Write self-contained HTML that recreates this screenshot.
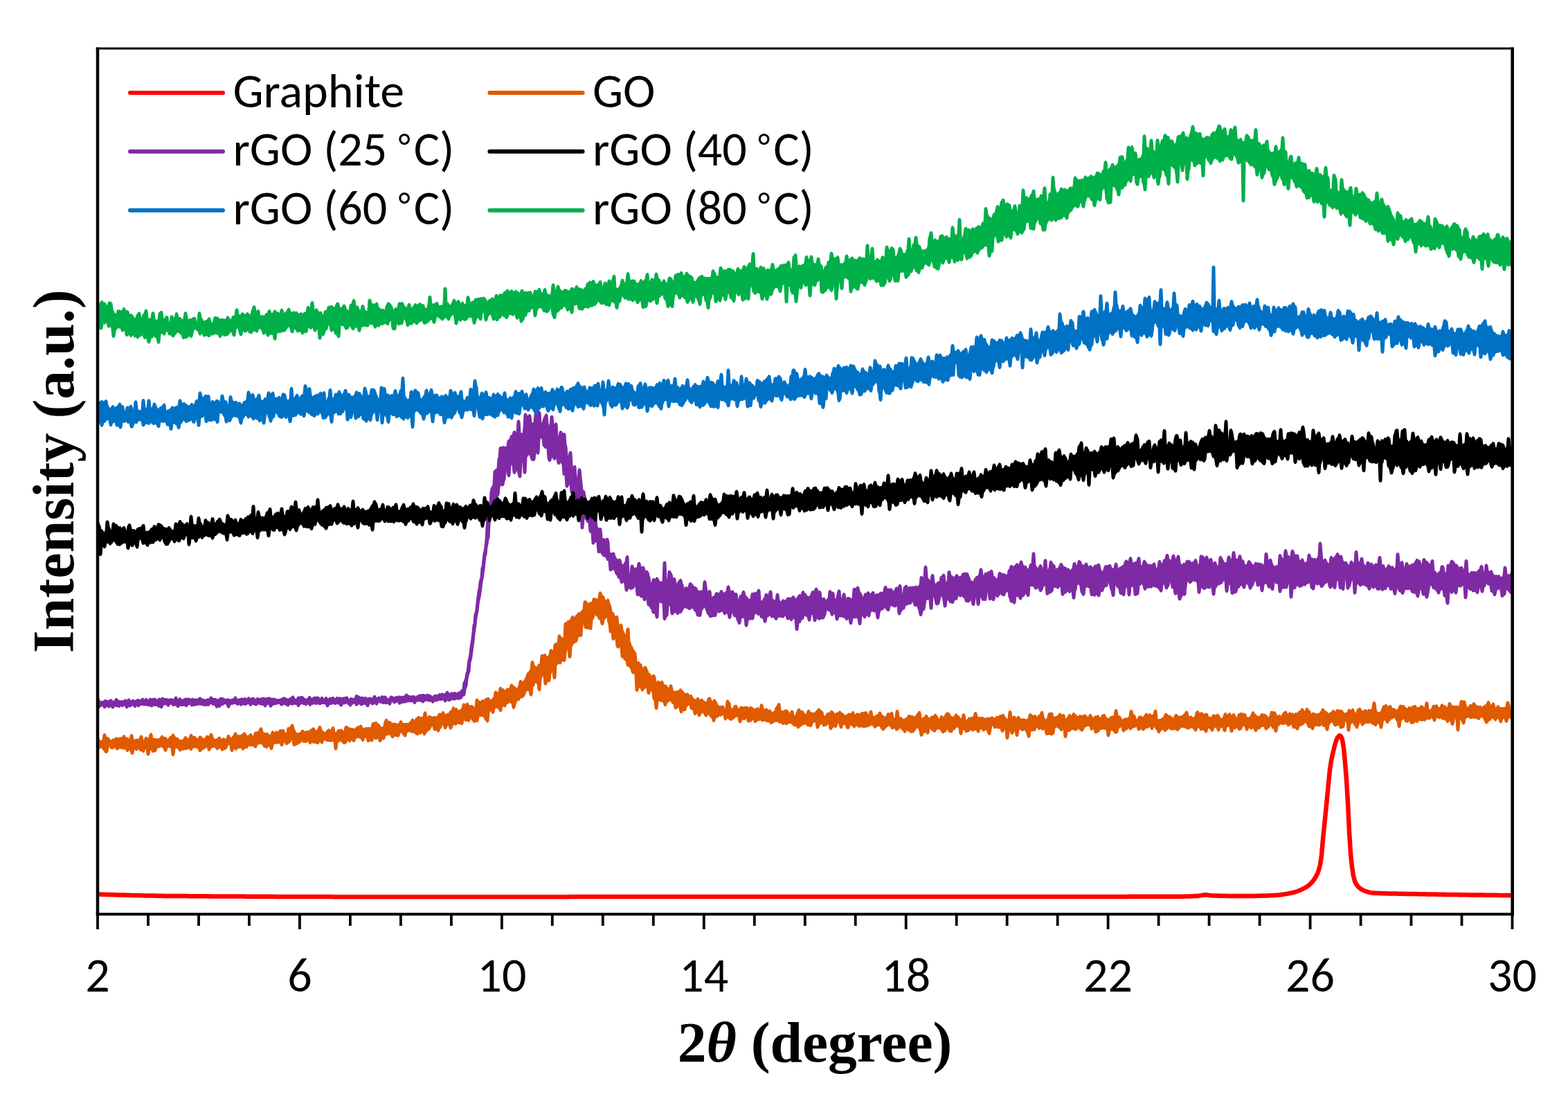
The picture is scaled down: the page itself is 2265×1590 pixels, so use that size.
<!DOCTYPE html>
<html><head><meta charset="utf-8"><title>XRD patterns</title>
<style>
html,body{margin:0;padding:0;background:#fff;width:2265px;height:1590px;overflow:hidden}
svg{display:block}
.sans text,.sans{font-family:Carlito,"Liberation Sans",sans-serif;font-size:70px;fill:#000}
.serif{font-family:"Liberation Serif","Times New Roman",serif;font-weight:bold;fill:#000}
</style></head><body>
<svg width="2265" height="1590" viewBox="0 0 2265 1590">
<defs>
<filter id="soft" x="-1%" y="-1%" width="102%" height="102%"><feGaussianBlur stdDeviation="0.55"/></filter>
<filter id="all" x="0" y="0" width="100%" height="100%"><feGaussianBlur stdDeviation="0.75"/></filter>
<clipPath id="plot"><rect x="141.0" y="70.0" width="2043.5" height="1250.3"/></clipPath>
</defs>
<g filter="url(#all)">
<rect width="2265" height="1590" fill="#fff"/>
<g clip-path="url(#plot)"><g filter="url(#soft)"><polyline fill="none" stroke="#ff0000" stroke-width="6.5" stroke-linejoin="round" stroke-linecap="round" points="141.0,1291.5 143.0,1291.6 145.0,1291.6 147.0,1291.7 149.0,1291.7 151.0,1291.8 153.0,1291.8 155.0,1291.9 157.0,1292.0 159.0,1292.0 161.0,1292.1 163.0,1292.1 165.0,1292.2 167.0,1292.2 169.0,1292.3 171.0,1292.4 173.0,1292.4 175.0,1292.5 177.0,1292.5 179.0,1292.6 181.0,1292.6 183.0,1292.7 185.0,1292.7 187.0,1292.8 189.0,1292.9 191.0,1292.9 193.0,1293.0 195.0,1293.0 197.0,1293.1 199.0,1293.1 201.0,1293.2 203.0,1293.2 205.0,1293.3 207.0,1293.3 209.0,1293.4 211.0,1293.4 213.0,1293.4 215.0,1293.5 217.0,1293.5 219.0,1293.6 221.0,1293.6 223.0,1293.6 225.0,1293.7 227.0,1293.7 229.0,1293.7 231.0,1293.8 233.0,1293.8 235.0,1293.8 237.0,1293.9 239.0,1293.9 241.0,1293.9 243.0,1293.9 245.0,1294.0 247.0,1294.0 249.0,1294.0 251.0,1294.0 253.0,1294.0 255.0,1294.0 257.0,1294.1 259.0,1294.1 261.0,1294.1 263.0,1294.1 265.0,1294.1 267.0,1294.1 269.0,1294.1 271.0,1294.1 273.0,1294.2 275.0,1294.2 277.0,1294.2 279.0,1294.2 281.0,1294.2 283.0,1294.2 285.0,1294.2 287.0,1294.3 289.0,1294.3 291.0,1294.3 293.0,1294.3 295.0,1294.3 297.0,1294.3 299.0,1294.3 301.0,1294.3 303.0,1294.4 305.0,1294.4 307.0,1294.4 309.0,1294.4 311.0,1294.4 313.0,1294.4 315.0,1294.4 317.0,1294.4 319.0,1294.5 321.0,1294.5 323.0,1294.5 325.0,1294.5 327.0,1294.5 329.0,1294.5 331.0,1294.5 333.0,1294.5 335.0,1294.5 337.0,1294.6 339.0,1294.6 341.0,1294.6 343.0,1294.6 345.0,1294.6 347.0,1294.6 349.0,1294.6 351.0,1294.6 353.0,1294.6 355.0,1294.7 357.0,1294.7 359.0,1294.7 361.0,1294.7 363.0,1294.7 365.0,1294.7 367.0,1294.7 369.0,1294.7 371.0,1294.7 373.0,1294.7 375.0,1294.8 377.0,1294.8 379.0,1294.8 381.0,1294.8 383.0,1294.8 385.0,1294.8 387.0,1294.8 389.0,1294.8 391.0,1294.8 393.0,1294.8 395.0,1294.8 397.0,1294.9 399.0,1294.9 401.0,1294.9 403.0,1294.9 405.0,1294.9 407.0,1294.9 409.0,1294.9 411.0,1294.9 413.0,1294.9 415.0,1294.9 417.0,1294.9 419.0,1294.9 421.0,1295.0 423.0,1295.0 425.0,1295.0 427.0,1295.0 429.0,1295.0 431.0,1295.0 433.0,1295.0 435.0,1295.0 437.0,1295.0 439.0,1295.0 441.0,1295.0 443.0,1295.0 445.0,1295.0 447.0,1295.0 449.0,1295.1 451.0,1295.1 453.0,1295.1 455.0,1295.1 457.0,1295.1 459.0,1295.1 461.0,1295.1 463.0,1295.1 465.0,1295.1 467.0,1295.1 469.0,1295.1 471.0,1295.1 473.0,1295.1 475.0,1295.1 477.0,1295.1 479.0,1295.1 481.0,1295.1 483.0,1295.2 485.0,1295.2 487.0,1295.2 489.0,1295.2 491.0,1295.2 493.0,1295.2 495.0,1295.2 497.0,1295.2 499.0,1295.2 501.0,1295.2 503.0,1295.2 505.0,1295.2 507.0,1295.2 509.0,1295.2 511.0,1295.2 513.0,1295.2 515.0,1295.2 517.0,1295.2 519.0,1295.2 521.0,1295.2 523.0,1295.2 525.0,1295.2 527.0,1295.2 529.0,1295.2 531.0,1295.2 533.0,1295.3 535.0,1295.3 537.0,1295.3 539.0,1295.3 541.0,1295.3 543.0,1295.3 545.0,1295.3 547.0,1295.3 549.0,1295.3 551.0,1295.3 553.0,1295.3 555.0,1295.3 557.0,1295.3 559.0,1295.3 561.0,1295.3 563.0,1295.3 565.0,1295.3 567.0,1295.3 569.0,1295.3 571.0,1295.3 573.0,1295.3 575.0,1295.3 577.0,1295.3 579.0,1295.3 581.0,1295.3 583.0,1295.3 585.0,1295.3 587.0,1295.3 589.0,1295.3 591.0,1295.3 593.0,1295.3 595.0,1295.3 597.0,1295.3 599.0,1295.3 601.0,1295.3 603.0,1295.3 605.0,1295.3 607.0,1295.3 609.0,1295.3 611.0,1295.3 613.0,1295.3 615.0,1295.3 617.0,1295.3 619.0,1295.3 621.0,1295.3 623.0,1295.3 625.0,1295.3 627.0,1295.3 629.0,1295.3 631.0,1295.3 633.0,1295.3 635.0,1295.3 637.0,1295.3 639.0,1295.3 641.0,1295.3 643.0,1295.3 645.0,1295.3 647.0,1295.3 649.0,1295.3 651.0,1295.3 653.0,1295.3 655.0,1295.3 657.0,1295.3 659.0,1295.3 661.0,1295.3 663.0,1295.3 665.0,1295.3 667.0,1295.3 669.0,1295.3 671.0,1295.3 673.0,1295.3 675.0,1295.3 677.0,1295.3 679.0,1295.3 681.0,1295.3 683.0,1295.3 685.0,1295.3 687.0,1295.3 689.0,1295.3 691.0,1295.3 693.0,1295.3 695.0,1295.3 697.0,1295.3 699.0,1295.3 701.0,1295.3 703.0,1295.3 705.0,1295.3 707.0,1295.3 709.0,1295.3 711.0,1295.3 713.0,1295.3 715.0,1295.3 717.0,1295.2 719.0,1295.2 721.0,1295.2 723.0,1295.2 725.0,1295.2 727.0,1295.2 729.0,1295.2 731.0,1295.2 733.0,1295.2 735.0,1295.2 737.0,1295.2 739.0,1295.2 741.0,1295.2 743.0,1295.2 745.0,1295.2 747.0,1295.2 749.0,1295.2 751.0,1295.2 753.0,1295.2 755.0,1295.2 757.0,1295.2 759.0,1295.2 761.0,1295.2 763.0,1295.2 765.0,1295.2 767.0,1295.2 769.0,1295.2 771.0,1295.2 773.0,1295.2 775.0,1295.2 777.0,1295.2 779.0,1295.2 781.0,1295.2 783.0,1295.2 785.0,1295.2 787.0,1295.2 789.0,1295.2 791.0,1295.2 793.0,1295.2 795.0,1295.2 797.0,1295.2 799.0,1295.2 801.0,1295.2 803.0,1295.2 805.0,1295.2 807.0,1295.2 809.0,1295.2 811.0,1295.2 813.0,1295.2 815.0,1295.2 817.0,1295.2 819.0,1295.2 821.0,1295.2 823.0,1295.1 825.0,1295.1 827.0,1295.1 829.0,1295.1 831.0,1295.1 833.0,1295.1 835.0,1295.1 837.0,1295.1 839.0,1295.1 841.0,1295.1 843.0,1295.1 845.0,1295.1 847.0,1295.1 849.0,1295.1 851.0,1295.1 853.0,1295.1 855.0,1295.1 857.0,1295.1 859.0,1295.1 861.0,1295.1 863.0,1295.1 865.0,1295.1 867.0,1295.1 869.0,1295.1 871.0,1295.1 873.0,1295.1 875.0,1295.1 877.0,1295.1 879.0,1295.1 881.0,1295.1 883.0,1295.1 885.0,1295.1 887.0,1295.1 889.0,1295.1 891.0,1295.1 893.0,1295.1 895.0,1295.1 897.0,1295.1 899.0,1295.1 901.0,1295.1 903.0,1295.1 905.0,1295.1 907.0,1295.1 909.0,1295.1 911.0,1295.1 913.0,1295.1 915.0,1295.1 917.0,1295.1 919.0,1295.1 921.0,1295.1 923.0,1295.1 925.0,1295.0 927.0,1295.0 929.0,1295.0 931.0,1295.0 933.0,1295.0 935.0,1295.0 937.0,1295.0 939.0,1295.0 941.0,1295.0 943.0,1295.0 945.0,1295.0 947.0,1295.0 949.0,1295.0 951.0,1295.0 953.0,1295.0 955.0,1295.0 957.0,1295.0 959.0,1295.0 961.0,1295.0 963.0,1295.0 965.0,1295.0 967.0,1295.0 969.0,1295.0 971.0,1295.0 973.0,1295.0 975.0,1295.0 977.0,1295.0 979.0,1295.0 981.0,1295.0 983.0,1295.0 985.0,1295.0 987.0,1295.0 989.0,1295.0 991.0,1295.0 993.0,1295.0 995.0,1295.0 997.0,1295.0 999.0,1295.0 1001.0,1295.0 1003.0,1295.0 1005.0,1295.0 1007.0,1295.0 1009.0,1295.0 1011.0,1295.0 1013.0,1295.0 1015.0,1295.0 1017.0,1295.0 1019.0,1295.0 1021.0,1295.0 1023.0,1295.0 1025.0,1295.0 1027.0,1295.0 1029.0,1295.0 1031.0,1295.0 1033.0,1295.0 1035.0,1295.0 1037.0,1295.0 1039.0,1295.0 1041.0,1295.0 1043.0,1295.0 1045.0,1295.0 1047.0,1295.0 1049.0,1295.0 1051.0,1295.0 1053.0,1295.0 1055.0,1295.0 1057.0,1295.0 1059.0,1295.0 1061.0,1295.0 1063.0,1295.0 1065.0,1295.0 1067.0,1295.0 1069.0,1295.0 1071.0,1295.0 1073.0,1295.0 1075.0,1295.0 1077.0,1295.0 1079.0,1295.0 1081.0,1295.0 1083.0,1295.0 1085.0,1295.0 1087.0,1295.0 1089.0,1295.0 1091.0,1295.0 1093.0,1295.0 1095.0,1295.0 1097.0,1295.0 1099.0,1295.0 1101.0,1295.0 1103.0,1295.0 1105.0,1295.0 1107.0,1295.0 1109.0,1295.0 1111.0,1295.0 1113.0,1295.0 1115.0,1295.0 1117.0,1295.0 1119.0,1295.0 1121.0,1295.0 1123.0,1295.0 1125.0,1295.0 1127.0,1295.0 1129.0,1295.0 1131.0,1295.0 1133.0,1295.0 1135.0,1295.0 1137.0,1295.0 1139.0,1295.0 1141.0,1295.0 1143.0,1295.0 1145.0,1295.0 1147.0,1295.0 1149.0,1295.0 1151.0,1295.0 1153.0,1295.0 1155.0,1295.0 1157.0,1295.0 1159.0,1295.0 1161.0,1295.0 1163.0,1295.0 1165.0,1295.0 1167.0,1295.0 1169.0,1295.0 1171.0,1295.0 1173.0,1295.0 1175.0,1295.0 1177.0,1295.0 1179.0,1295.0 1181.0,1295.0 1183.0,1295.0 1185.0,1295.0 1187.0,1295.0 1189.0,1295.0 1191.0,1295.0 1193.0,1295.0 1195.0,1295.0 1197.0,1294.9 1199.0,1294.9 1201.0,1294.9 1203.0,1294.9 1205.0,1294.9 1207.0,1294.9 1209.0,1294.9 1211.0,1294.9 1213.0,1294.9 1215.0,1294.9 1217.0,1294.9 1219.0,1294.9 1221.0,1294.9 1223.0,1294.9 1225.0,1294.9 1227.0,1294.9 1229.0,1294.9 1231.0,1294.9 1233.0,1294.9 1235.0,1294.9 1237.0,1294.9 1239.0,1294.9 1241.0,1294.9 1243.0,1294.9 1245.0,1294.9 1247.0,1294.9 1249.0,1294.9 1251.0,1294.9 1253.0,1294.9 1255.0,1294.9 1257.0,1294.9 1259.0,1294.9 1261.0,1294.9 1263.0,1294.9 1265.0,1294.9 1267.0,1294.9 1269.0,1294.9 1271.0,1294.9 1273.0,1294.9 1275.0,1294.9 1277.0,1294.9 1279.0,1294.9 1281.0,1294.9 1283.0,1294.9 1285.0,1294.9 1287.0,1294.9 1289.0,1294.9 1291.0,1294.9 1293.0,1294.9 1295.0,1294.9 1297.0,1294.9 1299.0,1294.9 1301.0,1294.9 1303.0,1294.9 1305.0,1294.9 1307.0,1294.9 1309.0,1294.9 1311.0,1294.9 1313.0,1294.9 1315.0,1294.9 1317.0,1294.9 1319.0,1294.9 1321.0,1294.9 1323.0,1294.9 1325.0,1294.9 1327.0,1294.9 1329.0,1294.9 1331.0,1294.9 1333.0,1294.9 1335.0,1294.9 1337.0,1294.9 1339.0,1294.9 1341.0,1294.9 1343.0,1294.9 1345.0,1294.9 1347.0,1294.9 1349.0,1294.9 1351.0,1294.9 1353.0,1294.9 1355.0,1294.9 1357.0,1294.9 1359.0,1294.9 1361.0,1294.9 1363.0,1294.9 1365.0,1294.9 1367.0,1294.9 1369.0,1294.9 1371.0,1294.9 1373.0,1294.9 1375.0,1294.9 1377.0,1294.9 1379.0,1294.9 1381.0,1294.9 1383.0,1294.9 1385.0,1294.9 1387.0,1294.9 1389.0,1294.9 1391.0,1294.9 1393.0,1294.9 1395.0,1294.9 1397.0,1294.9 1399.0,1294.9 1401.0,1294.9 1403.0,1294.9 1405.0,1294.9 1407.0,1294.9 1409.0,1294.9 1411.0,1294.9 1413.0,1294.9 1415.0,1294.9 1417.0,1294.9 1419.0,1294.9 1421.0,1294.9 1423.0,1294.9 1425.0,1294.9 1427.0,1294.9 1429.0,1294.9 1431.0,1294.9 1433.0,1294.9 1435.0,1294.9 1437.0,1294.9 1439.0,1294.9 1441.0,1294.9 1443.0,1294.9 1445.0,1294.9 1447.0,1294.9 1449.0,1294.9 1451.0,1294.9 1453.0,1294.9 1455.0,1294.9 1457.0,1294.9 1459.0,1294.9 1461.0,1294.9 1463.0,1294.9 1465.0,1294.9 1467.0,1294.9 1469.0,1294.9 1471.0,1294.9 1473.0,1294.9 1475.0,1294.9 1477.0,1294.9 1479.0,1294.9 1481.0,1294.9 1483.0,1294.9 1485.0,1294.9 1487.0,1294.9 1489.0,1294.9 1491.0,1294.9 1493.0,1294.9 1495.0,1294.9 1497.0,1294.9 1499.0,1294.9 1501.0,1294.9 1503.0,1294.9 1505.0,1294.9 1507.0,1294.9 1509.0,1294.9 1511.0,1294.9 1513.0,1294.9 1515.0,1294.9 1517.0,1294.9 1519.0,1294.9 1521.0,1294.9 1523.0,1294.9 1525.0,1294.9 1527.0,1294.9 1529.0,1294.9 1531.0,1294.9 1533.0,1294.9 1535.0,1294.9 1537.0,1294.9 1539.0,1294.9 1541.0,1294.9 1543.0,1294.9 1545.0,1294.9 1547.0,1294.9 1549.0,1294.9 1551.0,1294.9 1553.0,1294.9 1555.0,1294.9 1557.0,1294.9 1559.0,1294.9 1561.0,1294.9 1563.0,1294.9 1565.0,1294.9 1567.0,1294.9 1569.0,1294.9 1571.0,1294.9 1573.0,1294.9 1575.0,1294.9 1577.0,1294.9 1579.0,1294.9 1581.0,1294.9 1583.0,1294.9 1585.0,1294.9 1587.0,1294.9 1589.0,1294.9 1591.0,1294.9 1593.0,1294.9 1595.0,1294.9 1597.0,1294.9 1599.0,1294.9 1601.0,1294.9 1603.0,1294.9 1605.0,1294.9 1607.0,1294.9 1609.0,1294.9 1611.0,1294.9 1613.0,1294.9 1615.0,1294.9 1617.0,1294.9 1619.0,1294.9 1621.0,1294.9 1623.0,1294.9 1625.0,1294.9 1627.0,1294.9 1629.0,1294.8 1631.0,1294.8 1633.0,1294.8 1635.0,1294.8 1637.0,1294.8 1639.0,1294.8 1641.0,1294.8 1643.0,1294.8 1645.0,1294.8 1647.0,1294.8 1649.0,1294.8 1651.0,1294.8 1653.0,1294.8 1655.0,1294.8 1657.0,1294.8 1659.0,1294.8 1661.0,1294.8 1663.0,1294.8 1665.0,1294.8 1667.0,1294.8 1669.0,1294.8 1671.0,1294.8 1673.0,1294.8 1675.0,1294.8 1677.0,1294.8 1679.0,1294.8 1681.0,1294.8 1683.0,1294.8 1685.0,1294.8 1687.0,1294.8 1689.0,1294.8 1691.0,1294.8 1693.0,1294.8 1695.0,1294.8 1697.0,1294.8 1699.0,1294.8 1701.0,1294.8 1703.0,1294.8 1705.0,1294.8 1707.0,1294.7 1709.0,1294.7 1711.0,1294.6 1713.0,1294.6 1715.0,1294.5 1717.0,1294.4 1719.0,1294.4 1721.0,1294.3 1723.0,1294.2 1725.0,1294.1 1727.0,1294.0 1729.0,1293.9 1731.0,1293.7 1733.0,1293.4 1735.0,1293.1 1737.0,1292.7 1739.0,1292.4 1741.0,1292.3 1743.0,1292.4 1745.0,1292.6 1747.0,1292.9 1749.0,1293.2 1751.0,1293.5 1753.0,1293.5 1755.0,1293.6 1757.0,1293.6 1759.0,1293.6 1761.0,1293.7 1763.0,1293.7 1765.0,1293.7 1767.0,1293.8 1769.0,1293.8 1771.0,1293.8 1773.0,1293.9 1775.0,1293.9 1777.0,1293.9 1779.0,1293.9 1781.0,1293.9 1783.0,1293.9 1785.0,1294.0 1787.0,1294.0 1789.0,1294.0 1791.0,1294.0 1793.0,1294.0 1795.0,1294.0 1797.0,1294.0 1799.0,1294.0 1801.0,1294.0 1803.0,1294.0 1805.0,1294.0 1807.0,1294.0 1809.0,1293.9 1811.0,1293.9 1813.0,1293.9 1815.0,1293.8 1817.0,1293.8 1819.0,1293.7 1821.0,1293.7 1823.0,1293.6 1825.0,1293.6 1827.0,1293.5 1829.0,1293.4 1831.0,1293.4 1833.0,1293.3 1835.0,1293.2 1837.0,1293.1 1839.0,1293.0 1841.0,1293.0 1843.0,1292.8 1845.0,1292.7 1847.0,1292.5 1849.0,1292.3 1851.0,1292.0 1853.0,1291.7 1855.0,1291.4 1857.0,1291.1 1859.0,1290.8 1861.0,1290.4 1863.0,1290.0 1865.0,1289.6 1867.0,1289.2 1869.0,1288.7 1871.0,1288.1 1873.0,1287.5 1875.0,1286.8 1877.0,1286.0 1879.0,1285.1 1881.0,1284.2 1883.0,1283.2 1885.0,1282.2 1887.0,1281.0 1889.0,1279.7 1891.0,1278.2 1893.0,1276.4 1895.0,1274.3 1897.0,1271.8 1899.0,1269.0 1901.0,1265.8 1903.0,1261.8 1905.0,1256.3 1907.0,1248.6 1909.0,1235.4 1911.0,1212.0 1913.0,1192.4 1915.0,1172.8 1917.0,1152.1 1919.0,1131.5 1921.0,1111.7 1923.0,1098.8 1925.0,1089.0 1927.0,1080.8 1929.0,1073.2 1931.0,1067.3 1933.0,1064.0 1935.0,1062.1 1937.0,1063.3 1939.0,1068.0 1941.0,1080.4 1943.0,1101.3 1945.0,1126.2 1947.0,1158.8 1949.0,1200.7 1951.0,1232.6 1953.0,1251.8 1955.0,1265.0 1957.0,1272.6 1959.0,1276.4 1961.0,1279.4 1963.0,1281.6 1965.0,1283.3 1967.0,1284.5 1969.0,1285.5 1971.0,1286.4 1973.0,1287.2 1975.0,1287.8 1977.0,1288.4 1979.0,1288.9 1981.0,1289.3 1983.0,1289.5 1985.0,1289.7 1987.0,1289.8 1989.0,1289.8 1991.0,1289.9 1993.0,1290.0 1995.0,1290.1 1997.0,1290.2 1999.0,1290.2 2001.0,1290.3 2003.0,1290.3 2005.0,1290.4 2007.0,1290.4 2009.0,1290.5 2011.0,1290.5 2013.0,1290.6 2015.0,1290.6 2017.0,1290.6 2019.0,1290.7 2021.0,1290.7 2023.0,1290.7 2025.0,1290.8 2027.0,1290.8 2029.0,1290.8 2031.0,1290.9 2033.0,1290.9 2035.0,1290.9 2037.0,1290.9 2039.0,1291.0 2041.0,1291.0 2043.0,1291.1 2045.0,1291.1 2047.0,1291.1 2049.0,1291.2 2051.0,1291.2 2053.0,1291.2 2055.0,1291.3 2057.0,1291.3 2059.0,1291.3 2061.0,1291.4 2063.0,1291.4 2065.0,1291.5 2067.0,1291.5 2069.0,1291.5 2071.0,1291.6 2073.0,1291.6 2075.0,1291.6 2077.0,1291.7 2079.0,1291.7 2081.0,1291.7 2083.0,1291.8 2085.0,1291.8 2087.0,1291.8 2089.0,1291.9 2091.0,1291.9 2093.0,1291.9 2095.0,1292.0 2097.0,1292.0 2099.0,1292.0 2101.0,1292.1 2103.0,1292.1 2105.0,1292.1 2107.0,1292.2 2109.0,1292.2 2111.0,1292.2 2113.0,1292.2 2115.0,1292.3 2117.0,1292.3 2119.0,1292.3 2121.0,1292.4 2123.0,1292.4 2125.0,1292.4 2127.0,1292.4 2129.0,1292.5 2131.0,1292.5 2133.0,1292.5 2135.0,1292.5 2137.0,1292.6 2139.0,1292.6 2141.0,1292.6 2143.0,1292.6 2145.0,1292.7 2147.0,1292.7 2149.0,1292.7 2151.0,1292.7 2153.0,1292.7 2155.0,1292.8 2157.0,1292.8 2159.0,1292.8 2161.0,1292.8 2163.0,1292.8 2165.0,1292.9 2167.0,1292.9 2169.0,1292.9 2171.0,1292.9 2173.0,1292.9 2175.0,1292.9 2177.0,1293.0 2179.0,1293.0 2181.0,1293.0 2183.0,1293.0"/><path fill="#e05a00" d="M138.5 1076.7l1-8.2 1-2 1-.5 1 0 1 .5 1 2 1 .4 1 0 1-.3 1-7.2 1-2 1-.4 1 0 1 .4 1 2 1 3.3 1-.4 1 0 1 .4 1 2 1 1.6 1 .1 1-.8 1-.9 1-.4 1 0 1 .4 1-2 1-.5 1 0 1 .5 1 .8 1-.4 1-.3 1-.5 1 0 1 .5 1-1.2 1-2 1-.4 1 0 1 .4 1 2 1 1.7 1-.5 1 0 1 .5 1 1.9 1-4.7 1-2 1-.5 1 0 1 .5 1 2 1 6 1-.5 1-.9 1-.4 1 0 1 .4 1-.2 1-.4 1-2.5 1-2 1-.4 1 0 1 .4 1 2 1 5.2 1-2.9 1-2 1-.5 1 0 1 .5 1 2 1-1.5 1-3.8 1-2 1-.5 1 0 1 .5 1 2 1 5.2 1-.5 1 0 1 .5 1 .4 1-.4 1 0 1 .4 1-.5 1-.5 1-1.3 1-2 1-.5 1 0 1 .5 1 2 1-.5 1 0 1 .4 1 .4 1 2 1 .9 1-2.1 1-2 1-.4 1 0 1-1.1 1-2 1-.5 1 0 1 .5 1 2 1 1.3 1 1.9 1-.4 1 0 1 .4 1 2 1 .6 1 .4 1-.1 1 0 1 .5 1-1.6 1-2 1-1.3 1-.5 1 0 1 .5 1 2 1 .6 1-1.1 1-2.8 1-2 1-.5 1 0 1 .5 1 2 1 .8 1-.4 1 0 1 .4 1 2 1 .6 1 .4 1-1.3 1-2 1-.4 1 0 1 .4 1 1.2 1 .4 1 2 1-.3 1 0 1-1.8 1-2 1-.4 1 0 1 .4 1 .4 1-1.6 1-2 1-.4 1 0 1 .4 1 2 1 3.5 1 2 1 .5 1-.4 1 0 1-.3 1-2 1-.4 1-.2 1 0 1 .5 1 2 1 .9 1-1.6 1-.4 1 0 1 .4 1 1.6 1-.5 1-3.2 1-2 1-.5 1 0 1 .5 1 2 1 1.7 1-.4 1-2 1-.5 1-2.5 1-2 1-.4 1 0 1 .4 1 2 1 1.6 1-.2 1 0 1 0 1 .4 1-1.7 1-.5 1 0 1-1.7 1-.4 1 0 1 .4 1 2 1 1.6 1 .7 1-.3 1-.4 1-1.7 1-.5 1 0 1 .5 1 2 1 1.1 1-3.5 1-2 1-.4 1-.2 1-.4 1 0 1 .4 1-2.1 1-2 1-1.8 1-.5 1 0 1 .5 1 2 1 4.8 1 0 1 .4 1 .2 1-.1 1 0 1 0 1 .5 1 2 1 .5 1-.4 1-2.9 1-2 1-.5 1 0 1 .5 1 2 1-1.8 1-.5 1 0 1 .5 1 .7 1-1 1-2 1-.5 1 0 1 .4 1-.1 1-.4 1 0 1 .4 1 2 1 3.1 1-.5 1-5.9 1-2 1-.4 1 0 1 .4 1-2.3 1-2 1-.4 1 0 1 .4 1 2 1 4.1 1 2 1 3.2 1 .4 1 1.1 1-.4 1-.5 1 0 1-.5 1-1.1 1-2 1-.4 1 0 1 .4 1 1.6 1 0 1 .4 1-.9 1-.5 1 0 1 .5 1 0 1-2 1-.4 1 0 1-1.8 1-.5 1 0 1 .3 1 .4 1 2 1 1 1 .5 1-2 1-2.2 1-2 1-.5 1 0 1 .5 1 2 1 4 1 .4 1 1.2 1 .4 1 .9 1-1 1-2 1-.5 1-1.2 1-.4 1 0 1 .4 1 1.3 1-2.4 1-2 1-.5 1 0 1 .5 1 2 1 6.2 1-1.2 1-1.2 1-2 1-.5 1 0 1 .5 1-.5 1-.5 1 0 1 .5 1 2 1 .2 1-4.8 1-2 1-.4 1 0 1 .4 1 1.2 1 0 1 .4 1 1 1 .3 1-.1 1 0 1 .3 1 0 1 .5 1 .6 1-2 1-.5 1-1.2 1-.5 1 0 1 .5 1-1.8 1-.4 1 0 1 .4 1 2 1 2.8 1-.7 1-.5 1 0 1-.2 1-.4 1 0 1 .3 1-.4 1 0 1 .4 1 .3 1-5 1-2 1-.5 1 0 1 .5 1-1.3 1-.4 1 0 1 .4 1 2 1 .4 1 .4 1 1.2 1 2 1 .9 1 .7 1-.5 1-.8 1-5.8 1-2.6 1-2 1-.5 1 0 1 .5 1 2 1 1.3 1-.4 1 0 1 .4 1 1.9 1 0 1 .5 1 0 1-.4 1 0 1 .4 1 .5 1 0 1 .4 1 .3 1-2.3 1-2 1-.5 1 0 1 .5 1 2 1 1.1 1 0 1 .1 1 .3 1-.5 1 0 1 .5 1-.2 1-.4 1-1.9 1-.4 1-1.5 1-2 1-.4 1 0 1 .4 1 2 1-1.5 1-2 1-.5 1-.4 1-1.1 1-.4 1 0 1 .4 1 1 1-.5 1 0 1 .5 1-5.6 1-2 1-.5 1 0 1 .5 1 2 1 5.7 1-2 1-.5 1 0 1 .5 1 .2 1 .4 1 1.5 1-1.2 1-.4 1-.1 1 0 1 .5 1 .6 1-2 1-1 1-1.9 1-.5 1 0 1 .5 1-.7 1-2 1-.4 1 0 1 .4 1 2 1 2.9 1-2 1-.4 1 0 1 .4 1-2 1-2 1-.4 1 0 1-2.8 1-2 1-.5 1 0 1 .5 1 1.3 1-.4 1 0 1 .4 1 2 1 1.1 1-.4 1 0 1-1.7 1-.4 1-5.1 1-2 1-.5 1 0 1 .5 1 1.2 1-2 1-.4 1 0 1 .4 1 2 1 1.6 1-.3 1-.4 1 0 1 .4 1 .9 1 .5 1 2 1-10.7 1-2 1-.4 1 0 1 .4 1 2 1 .9 1 0 1 .4 1-2 1-.5 1 0 1 .5 1 .1 1-2 1-.5 1 0 1-.8 1-.4 1 0 1 .4 1 2 1 .8 1-.4 1-.1 1-2 1-.7 1-6.8 1-2 1-.5 1 0 1 .5 1 2 1-.4 1-5.3 1-2 1-.5 1 0 1 .5 1 2 1 0 1 0 1 .4 1 2 1-.7 1-2 1-.4 1 0 1 .4 1-.3 1-3.9 1-2 1-.4 1 0 1 .4 1 2 1 1.1 1 0 1 .4 1 2 1 .3 1-1 1-2 1-6.1 1-2 1-.4 1 0 1 .4 1 1.6 1-.1 1-2 1-.9 1-2.6 1-2 1-3.2 1-2 1-.4 1-1.2 1-2 1-.5 1-10.8 1-2 1-.4 1 0 1 .4 1 2 1 5.2 1 0 1 .4 1 .7 1-1.9 1-2 1-.4 1 0 1-11.1 1-2 1-.4 1 0 1 .4 1-.8 1-.4 1 0 1 .4 1 2 1 2.1 1-2 1-.5 1-6.4 1-2 1-.5 1 0 1 .5 1 2 1-8.1 1-2 1-1 1-.5 1 0 1 .5 1-9.8 1-2 1-.5 1 0 1 .5 1 2 1 1.7 1 0 1 .4 1-20 1-2 1-.5 1 0 1-.4 1-2 1-.4 1 0 1 .4 1-2.4 1-2.1 1-2 1-.4 1 0 1 .4 1 2 1-1.4 1-2 1-.5 1-.9 1-2 1-.5 1 0 1 0 1-.6 1-2 1-.5 1-.9 1-10.7 1-2 1-.4 1 0 1 .4 1 .8 1 .5 1 2 1 .6 1-2 1-.5 1 0 1 .5 1-3.9 1-2 1-.4 1 0 1 .1 1 .5 1 .6 1 0 1 .1 1-7.8 1-2 1-.4 1 0 1 .4 1 2 1 2.4 1 1 1 .4 1 2 1 3.2 1 1.5 1-2 1-.5 1 0 1 .5 1 2 1 4.6 1 2 1 3 1 7 1 .1 1 .5 1 2 1 3.3 1-.3 1-.5 1 0 1 .5 1 2 1 11.8 1-2 1-.5 1 0 1 .5 1 2 1 6.7 1 2 1 2.3 1 3 1-8.4 1-2 1-.5 1 0 1 .5 1 2 1 17.5 1 2 1 4.3 1 .5 1 2 1 3.1 1 .5 1 2 1 .9 1 2 1 11.4 1 .2 1 0 1 .4 1 2 1 .3 1 .5 1 2 1 4 1-.2 1-2 1-.4 1 0 1 .4 1 2 1 2.5 1 2 1 3.3 1 0 1 .5 1 2 1 1.8 1-2 1-.5 1 0 1 .5 1 1.5 1 2 1 7.5 1-2 1-.4 1 0 1 .4 1 2 1-1.9 1-.5 1 0 1 .5 1 2 1 2.6 1 .5 1 .6 1 0 1 .4 1 2 1 2.3 1-2.9 1-2 1-.5 1 0 1 .5 1 2 1 4.9 1 2.6 1-.5 1 0 1-.4 1-.5 1 0 1 .5 1-.6 1-2 1-.5 1 0 1 .5 1 2 1 .5 1 .4 1 2 1 1.5 1-.4 1 0 1-.4 1 0 1 .5 1 2 1 .7 1-.5 1 0 1 .5 1 2 1 2.1 1 .5 1 1.1 1 .5 1-.3 1-2 1-.4 1 0 1 .4 1 2 1 1.1 1-1 1-.5 1 0 1 .5 1 2 1 .3 1 .4 1 1.2 1-.5 1-3.7 1-2 1-.5 1-.2 1 0 1 .5 1 2 1 3.2 1-.3 1-2 1-.5 1 0 1 .5 1 2 1 1.5 1 2 1 2.3 1 .4 1 1 1 .3 1-.4 1-.1 1-.4 1 0 1 .4 1 2 1 2.4 1-10.4 1-2 1-.5 1 0 1 .5 1 2 1 1 1 2 1 6.4 1 .2 1 0 1-2.3 1-2 1-.4 1-.1 1 0 1 .5 1 2 1 2.8 1-.7 1-2 1-.4 1 0 1 0 1 0 1 .5 1 0 1-.4 1 0 1 .2 1-.5 1 0 1 .5 1 2 1-1.8 1-.5 1 0 1 .5 1 .4 1 .4 1 1.8 1-.1 1 0 1 .4 1-1.7 1-.5 1 0 1 .5 1 2 1-5 1-2 1-.5 1 0 1 .5 1 2 1 4.8 1 .4 1-.9 1-.4 1 0 1 .4 1 2 1 0 1-.5 1 0 1 .5 1 2 1 2.2 1-2 1-.5 1-.2 1-4 1-2 1-.4 1-2.7 1-2 1-.4 1 0 1 .4 1 2 1 8.4 1 0 1 .5 1 0 1-.4 1-1.2 1-.5 1 0 1 .5 1 .6 1 .5 1 2 1 1.9 1-1.9 1-2 1-.4 1 0 1 .4 1 2 1 5.4 1-.3 1-3.1 1-2 1-2.5 1-2 1-.4 1 0 1 .4 1 2 1 1.1 1-.5 1 0 1 .5 1 2 1 2 1 0 1 .4 1-3.6 1-2 1-.5 1 0 1 .5 1 2 1 1.2 1 0 1 .5 1-.2 1 0 1 .4 1-1.2 1-2 1-.5 1-.3 1-2 1-.4 1 0 1 .4 1 2 1 .6 1 .9 1 .5 1 2 1 4 1 .6 1-.9 1-2 1-1.6 1-.4 1 0 1 .4 1-.9 1-2 1-.5 1 0 1 .5 1 1.1 1 .4 1 2 1 1.3 1-2 1-.4 1 0 1 .1 1-2 1-.4 1 0 1 .4 1 2 1 .4 1 .2 1 .5 1 2 1 .6 1 0 1-.7 1-.4 1-1.4 1-.4 1 0 1 .4 1 0 1-.4 1-2 1-.5 1 0 1 .5 1 2 1 2.4 1-1.9 1-.5 1 0 1 .5 1-.1 1 0 1 .4 1-2 1-.5 1 0 1 .5 1-.5 1-.4 1 0 1-.2 1 0 1 .5 1 2 1 2.5 1-4.3 1-2 1-.5 1 0 1 .5 1 2 1 6.6 1-.6 1-.5 1 0 1-1.4 1-.5 1 0 1-1.7 1-2 1-.4 1 0 1 .4 1 2 1 2.6 1 0 1 .5 1 1.4 1 0 1 0 1-2.9 1-2 1-.5 1 0 1 .5 1 .7 1-2 1-.4 1 0 1 .4 1 2 1 6.7 1-.5 1-9 1-2 1-.5 1 0 1 .5 1 2 1 7.6 1 .5 1 .4 1 0 1 .4 1 1.9 1 0 1-.1 1-1.5 1-.4 1 0 1-1.8 1-2 1-.4 1 0 1 .4 1 .3 1 .4 1 0 1 0 1 .5 1 1.1 1 0 1-1.5 1-2 1-.4 1-1.6 1-2 1-.4 1 0 1 .4 1 2 1 8.7 1-2 1-.5 1 0 1-.9 1-2 1-.4 1 0 1 .4 1 2 1 2 1-.5 1-.1 1-2 1-.5 1 0 1 .3 1-.5 1-1.9 1-.5 1 0 1 .5 1 2 1 .9 1 2 1 2.3 1-3 1-2 1-.5 1 0 1 .5 1 2 1-1.5 1-1.7 1-1.2 1-2 1-.4 1 0 1 .1 1 0 1 .5 1 2 1 2.3 1 .5 1 .5 1 0 1 .5 1-2.1 1-2 1-.5 1 0 1 .5 1 2 1 .2 1 .4 1 2 1 1.7 1-.4 1-4.1 1-2 1-.5 1 0 1 .5 1 2 1 6.5 1 0 1-1.2 1-2 1-.4 1 0 1 .4 1-.8 1-.5 1 0 1 .5 1-4.7 1-2 1-.5 1 0 1 .5 1 2 1 3.9 1 .9 1-.2 1 0 1 .4 1-.3 1-.4 1 0 1 .4 1 1.7 1-.5 1 0 1 .5 1-1 1-.4 1 0 1 .4 1 .2 1-.3 1-.9 1-.5 1 0 1 .5 1 1.4 1-.5 1 0 1-1.6 1-.4 1 0 1 .4 1 .1 1-2 1-.4 1 0 1 .4 1-1 1-.4 1 0 1 .4 1 2 1 2.3 1 .5 1 1.9 1 0 1-9.6 1-2 1-.4 1 0 1 .4 1 2 1 7.5 1-2 1-.5 1 0 1 .5 1 2 1 .3 1-2 1-.4 1 0 1 .4 1 2 1 1.2 1 0 1 .3 1-.1 1-.5 1 0 1 .5 1 1 1-.5 1 0 1-.1 1-5.4 1-2 1-.4 1 0 1 .4 1 .8 1 .5 1 1.6 1-1 1-.4 1 0 1 .4 1 2 1-.2 1-2 1-.4 1 0 1-2.8 1-2 1-.4 1 0 1 .4 1 2 1 6.4 1 2 1 .8 1-.3 1-2.7 1-3.9 1-2 1-.4 1 0 1-.1 1-.5 1 0 1 .5 1 2 1 4 1 0 1-.5 1-.6 1-.5 1 0 1-1.5 1-2 1-.5 1 0 1 .5 1 2 1-.5 1-.4 1 0 1 .4 1 2 1 4.5 1-.9 1-2 1-1.4 1-2 1-.5 1 0 1 .5 1 2 1-2.2 1-2 1-.4 1 0 1 .4 1 2 1 .5 1 .4 1 1.8 1 0 1-1.5 1-.4 1 0 1 .3 1 .4 1-.1 1-.4 1-.5 1-.5 1 0 1 .5 1 1.7 1 .5 1 1.2 1-2 1-1.9 1-.4 1 0 1 .4 1 2 1 2.7 1-.5 1-1.7 1-.5 1 0 1 .5 1-1 1-.4 1 0 1 .4 1 2 1 2 1-2.9 1-2 1-.5 1 0 1-.5 1 0 1 .5 1 2 1 2.7 1 0 1 .4 1 1 1-1.2 1-2 1-.5 1 0 1-.4 1 0 1 .5 1-7.5 1-2 1-.5 1 0 1 .5 1 2 1 6.3 1 .7 1 0 1 .4 1 2 1 2.3 1 0 1 .2 1-1.3 1-.4 1 0 1-.1 1 0 1 .4 1-1.4 1-.5 1-7.5 1-2 1-.5 1 0 1 .5 1 2 1 4.1 1 0 1 .4 1 2 1 3.2 1 1.5 1-2.7 1-2 1-.4 1 0 1-.2 1 0 1 .5 1 1.7 1-.9 1-2 1-.8 1-2 1-.5 1 0 1 .5 1 2 1-1.2 1-.5 1 0 1 .5 1 1.5 1-.5 1 0 1-4.8 1-2 1-.5 1 0 1 .5 1 2 1 10.9 1 .9 1-.5 1-.3 1 0 1-.9 1-.5 1 0 1-1.8 1-2.5 1-2 1-.5 1 0 1 .5 1 .6 1 2 1-.5 1 0 1 .5 1 1.5 1 0 1 .5 1 2 1-1.9 1-2 1-1.7 1-.4 1 0 1 .4 1 2 1 .1 1 .5 1 .2 1-.5 1-.4 1-.4 1 0 1-2 1-.5 1-1.2 1-2 1-.4 1 0 1 .4 1 2 1 5.7 1-1 1-.4 1 0 1 .4 1 1.9 1 0 1-.4 1-.8 1-4.8 1-2 1-1 1-.5 1 0 1 .5 1 2 1 .5 1-.4 1-.5 1 0 1 .5 1 2 1-.3 1-.4 1 0 1-.1 1 0 1 .5 1 2 1 2.7 1-.2 1 0 1 .5 1-1.8 1-2 1-.4 1 0 1 .4 1 .7 1 0 1-1.2 1-.4 1 0 1 .4 1 2 1 1.5 1 2 1 1.2 1-1.9 1-.5 1-4 1-2 1-.4 1 0 1 .4 1 2 1 .2 1-2 1-.4 1 0 1 .4 1 2 1 .9 1-2 1-.5 1 0 1 .5 1 2 1 2.2 1 1.8 1-4.2 1-2 1-.5 1 0 1-.7 1-.4 1 0 1 .4 1 .5 1 0 1 .4 1 0 1 .5 1 2 1 2.8 1 .4 1-.4 1 0 1-1.2 1-1.7 1-2.8 1-2 1-.4 1 0 1 .4 1 2 1 1.3 1 .4 1 2 1 .3 1 0 1 .5 1-.4 1-1.5 1-2 1-.4 1 0 1 .4 1 .9 1-.4 1 0 1 .4 1 1.3 1 .5 1 2 1 .8 1-2 1-4.7 1-2 1-.4 1 0 1 .4 1 .5 1-.4 1 0 1 .4 1 2 1 2.1 1 1.9 1-1 1-.5 1 0 1 .5 1 1.5 1-2 1-1.6 1-2 1-.5 1-.9 1-.5 1 0 1 .5 1 2 1 1.6 1-1.6 1-.5 1 0 1 .5 1 .6 1-.4 1 0 1 .4 1 1.7 1-1.8 1-.5 1 0 1 .5 1-.8 1-2 1-.4 1 0 1-1.4 1-2 1-.4 1 0 1 .4 1 2 1 1.9 1-2.5 1-2 1-.5 1 0 1 .5 1 2 1 1.3 1 .4 1 2 1 3 1-2 1-.5 1 0 1 .5 1 1.5 1-.5 1 0 1 .3 1-.5 1 0 1-.7 1-.4 1-1.8 1-1.8 1-2 1-.5 1 0 1 .5 1 2 1 1.4 1 0 1 .5 1 1.6 1 .5 1 1.4 1-1.7 1-.5 1 0 1-1.1 1-2 1-.4 1 0 1 .4 1 2 1-.9 1-2 1-.5 1 0 1 .5 1 .4 1 0 1 .4 1-.2 1 0 1 .4 1 2 1 2 1 0 1-.3 1-.4 1 0 1-2.5 1-2 1-.5 1 0 1 .5 1 1.2 1-2 1-.5 1 0 1 .5 1 2 1 3.8 1-.3 1-3.1 1-2 1-.4 1-1.1 1-.4 1 0 1 .4 1 2 1 1.5 1 .4 1 .2 1-2 1-.5 1 0 1 .5 1 2 1-1.9 1-.4 1 0 1 .2 1 0 1 .3 1-2 1-7.1 1-2 1-.5 1 0 1 .5 1 2 1 8.6 1 3.3 1 .8 1 0 1 0 1-.8 1-.5 1-3.2 1-2.8 1-2 1-.4 1 0 1-1.1 1-.5 1 0 1 .5 1 2 1 1.1 1-2 1-.5 1 0 1 .5 1 2 1 2.1 1-.2 1 0 1 .3 1 .5 1 1.3 1 .8 1-1.4 1-1.4 1-2.6 1-2 1-.4 1 0 1 .4 1 .6 1-.4 1 0 1 .4 1 2 1 .6 1 .5 1 1.3 1-.6 1-2 1-.4 1 0 1 .4 1 1.2 1-2 1-.4 1 0 1-.6 1-.4 1 0 1 .4 1 2 1 1.3 1-.4 1-.2 1-.5 1-1.9 1-.5 1 0 1 .5 1 .9 1 .4 1 2 1-6.5 1-2 1-.4 1 0 1 .4 1 2 1 8.8 1 0 1-.1 1-2 1-2 1-2 1-.5 1 0 1 .5 1-.6 1-.4 1 0 1 .4 1 2 1 1.8 1 0 1-2.7 1-2 1-.5 1 0 1 .5 1 1.9 1-.5 1 0 1 .5 1 2 1 .9 1-5.4 1-2 1-.5 1 0 1 .5 1 2 1 2.2 1 0 1 .5 1-.2 1 0 1 .4 1 .1 1-.3 1 0 1 .2 1 .4 1-6.3 1-2 1-.4 1 0 1 .4 1 .5 1-.5 1 0 1 .5 1 2 1 4.6 1 2.6 1-.5 1-.8 1-2 1-.5 1 0 1 .5 1-1 1-2 1-.4 1 0 1 .4 1 2 1 1.5 1 0 1 .5 1 1.2 1-.6 1-.4 1 0 1 .4 1 2 1-1.7 1-.5 1 0 1-1.2 1-.5 1 0 1-2.7 1-2 1-.5 1 0 1 .5 1 2 1 3.3 1-.9 1-2 1-.4 1 0 1 .4 1 2 1 5.3 1-1.7 1-2 1-.4 1 0 1 .4 1 2 1 1.2 1-.5 1 0 1-.2 1 0 1 .5 1-.6 1-.5 1-5.6 1-2 1-.4 1 0 1 .4 1 2 1 3.2 1 7.1 1 .5 1 2 1 2.4 1 2L2186.5 1032.2l-1 4.4-1 2-1 .5-1 0-1-.5-1-1.5-1 .9-1 3.4-1 2-1 .4-1 0-1-.4-1-2-1-3.5-1 0-1 3.8-1 2-1 .5-1 0-1-.5-1-2-1-2.6-1-.9-1 .9-1 2-1 .5-1 0-1-.5-1-2-1-.8-1-1-1 2-1 1.2-1 .4-1 0-1 1.3-1 2-1 .6-1 .5-1 0-1-.5-1-2-1-2.3-1-2-1-2.1-1 0-1-.5-1 1.7-1 2-1 .5-1 0-1-.5-1-1-1-.4-1-.4-1 .1-1 0-1-.4-1 .3-1 0-1 .1-1 .4-1 0-1-.4-1-2-1 .8-1 .4-1 0-1 1.5-1 5.3-1 2-1 .5-1 0-1-.5-1-2-1-3.1-1-1.2-1 14.4-1 2-1 .4-1 0-1-.4-1-2-1-16.2-1 2.7-1 5-1 2-1 .5-1 0-1-.5-1-2-1-3.6-1-.4-1 2-1 .4-1 0-1-.4-1-2-1-1.1-1-.4-1-.7-1 .4-1 0-1-.4-1-2-1 .7-1 .5-1 0-1-.5-1-1.2-1 0-1 3.3-1 2-1 .4-1 0-1-.4-1-2-1-3-1-.1-1 2-1 .4-1 0-1-.3-1 .4-1 0-1-.2-1 2-1 .5-1 0-1-.5-1-.1-1 .5-1 0-1-.5-1-.2-1 0-1 .5-1 2-1 .4-1 0-1-.4-1-1.1-1 2-1 .5-1 0-1 .5-1 .4-1 0-1-.4-1-2-1-2.2-1 2-1 .5-1 0-1-.4-1 0-1-.4-1-2-1-3.2-1 2-1 .5-1 .9-1 7.8-1 2-1 .4-1 0-1-.4-1-2-1-7.2-1-.4-1-2-1-2.1-1-.4-1 1.3-1 .5-1 .4-1 0-1 1.9-1 .4-1 1.3-1 2-1 .4-1 0-1-.4-1-2-1-2-1 .2-1 1.6-1 7.9-1 2-1 .5-1 0-1-.5-1-2-1-4.9-1 .1-1 1.2-1 2-1 .4-1 0-1-.4-1-1.9-1 .2-1 0-1-.4-1-2-1-.2-1 .4-1 .1-1 .4-1 0-1-.4-1-.3-1 .9-1 .5-1 .2-1 2-1 .4-1 0-1-.4-1-2-1-2.9-1 3.5-1 3.3-1 2-1 .5-1 0-1-.5-1-2-1-2-1-.5-1-2-1-2.2-1 2-1 .4-1 8.5-1 2-1 .5-1 0-1-.5-1-2-1-11.6-1-.7-1 7-1 2-1 .5-1 0-1 .8-1 .4-1 0-1-.4-1-2-1-2.8-1 .4-1 0-1 1.1-1 .5-1 0-1-.5-1-.9-1-2-1-2.3-1 0-1 .2-1 1.6-1 1.8-1 5.8-1 2-1 .5-1 0-1-.5-1-2-1-3.6-1 .4-1 0-1-.5-1-2-1-.4-1 2-1 .4-1 0-1-.2-1-.5-1-.4-1 .5-1 0-1-.5-1 3.7-1 2-1 .4-1 0-1-.4-1-2-1-1-1 .5-1 0-1-.5-1-2-1-2.8-1-1.6-1-.4-1 .4-1 2-1 .4-1 0-1 1.2-1 .5-1 0-1 .2-1 3.3-1 2-1 .4-1 0-1-.4-1-2-1-.3-1 .5-1 0-1-.5-1-2-1-3-1 .4-1 0-1 1.5-1 .4-1 0-1-.4-1-2-1-1.5-1 .8-1 .5-1 0-1-.3-1 .5-1 0-1-.5-1-.3-1 1.8-1 .5-1 0-1 7.1-1 2-1 .4-1 0-1-.4-1-2-1-2.9-1 0-1-.4-1-2-1-2.1-1 2-1 1.8-1 .4-1 0-1 2-1 .4-1 0-1-.4-1-2-1-2.6-1 .4-1 0-1-.4-1 1-1 2-1 .5-1 0-1-.5-1 2-1 2-1 .4-1 0-1-.4-1-2-1-2.1-1-.4-1 .8-1 .5-1 0-1-.5-1-2-1 2.2-1 2-1 .4-1 0-1-.4-1-2-1-4.9-1 .7-1 .4-1 2.4-1 2-1 .4-1 .6-1 .5-1 0-1-.5-1-2-1-2-1 2-1 .4-1 0-1-.4-1 2.9-1 2-1 .4-1 0-1-.4-1-2-1-5.5-1-.6-1 .4-1 1.2-1 3.7-1 2-1 .4-1 0-1-.4-1-2-1-4.2-1 .4-1 0-1 2.9-1 2-1 .5-1 0-1-.5-1-2-1-3.5-1 .5-1 0-1 3.2-1 2-1 .4-1 0-1-.4-1-2-1-1.4-1-.5-1-.5-1 4.2-1 2-1 .4-1 0-1-.4-1-2-1-1.2-1 0-1-.1-1 .5-1 0-1-.5-1-2-1-1.5-1 0-1 2.9-1 2-1 .4-1 0-1-.4-1-2-1-1.4-1-.5-1-1.6-1 1.4-1 .5-1 0-1 .7-1 .5-1 0-1-.5-1-.9-1 0-1-.4-1-1.1-1 .5-1 0-1-.5-1-.1-1 .9-1 2-1 .5-1 1.4-1 .4-1 0-1-.4-1-1.6-1 .5-1 0-1-.5-1 .5-1 .4-1 0-1-.4-1-.5-1-.4-1-1.7-1 2-1 .4-1 .4-1 2-1 .4-1 0-1-.4-1-2-1-1.1-1 1.4-1 .4-1 1.5-1 2-1 .5-1 0-1-.5-1-2-1-2.5-1-.5-1-2-1-2-1 2-1 2-1 .5-1 0-1-.5-1-2-1-2.6-1 2-1 .5-1 .2-1 0-1-.5-1 2-1 .5-1 1-1 .5-1 0-1-.5-1-2-1 .3-1 2-1 .4-1 0-1-.4-1-2-1-3.8-1 1.2-1 .4-1 0-1 .6-1 .5-1 0-1 1.8-1 .5-1 0-1-.5-1-1.8-1 1-1 .4-1 1.2-1 .5-1 0-1 1.7-1 .5-1 0-1-.5-1-2-1-5.5-1 2-1 .5-1 0-1 5-1 2-1 .5-1 0-1 .3-1 0-1-.4-1-2-1-1.6-1 0-1-.4-1 1.5-1 5.1-1 2-1 .4-1 0-1-.4-1-2-1-8.2-1 .5-1 0-1-.5-1-.7-1 .7-1 .5-1 0-1-.5-1 1.8-1 2-1 .4-1 0-1 1-1 .5-1 0-1-.5-1-2-1-4.5-1 2-1 .4-1 0-1-.4-1-2-1-3.7-1 .4-1 0-1-.4-1 1.1-1 .5-1 0-1 2-1 2-1 1.7-1 .5-1 0-1-.5-1-.6-1-.4-1-2-1-.4-1 2-1 .4-1 .1-1 .4-1 0-1-.4-1-1.4-1 .5-1 0-1 .2-1 2-1 .4-1 0-1 .2-1 0-1 6.5-1 2-1 .5-1 0-1-.5-1-2-1-10.1-1 2-1 .5-1 0-1-.5-1-2-1-.9-1-.4-1-.7-1-.5-1-1-1 2-1 6.5-1 2-1 .5-1 1-1 .4-1 0-1-.4-1-.8-1 .5-1 0-1-.1-1 .4-1 0-1-.4-1-2-1-6.6-1 1.5-1 .5-1 0-1-.5-1-2-1 1.1-1 .5-1 0-1-.5-1-2-1-.7-1 3-1 2-1 .5-1 0-1-.5-1 .4-1 0-1-.4-1 7.5-1 2-1 .5-1 0-1-.5-1-2-1-4.2-1-1.5-1-2-1-1.9-1 2-1 .4-1 0-1-.4-1-1.7-1 0-1-.4-1 7.8-1 2-1 .5-1 0-1-.5-1-2-1-6.2-1 3.3-1 2-1 .4-1 0-1-.4-1-2-1-2.3-1 9.4-1 2-1 .4-1 0-1-.4-1-2-1-12-1 1.8-1 2-1 .5-1 0-1-.5-1-2-1-3.4-1 .5-1 .2-1 0-1-.5-1-1.3-1 1.2-1 .5-1 0-1-.5-1-2-1-2.1-1 4.9-1 6.3-1 2-1 .5-1 0-1-.5-1-2-1-2.4-1-2-1-.8-1 2-1 .5-1 0-1-.5-1-1.6-1-1.3-1 .5-1 2.5-1 2-1 .5-1 0-1-.5-1-2-1-1.5-1 .5-1 0-1 .9-1 .4-1 0-1-.4-1-2-1 .7-1 2-1 .4-1 0-1 .8-1 .4-1 0-1-.4-1-2-1-1.5-1-.5-1 5.4-1 2-1 .4-1 0-1-.4-1-2-1-7.2-1-1.7-1 .1-1 .4-1 1-1 1.9-1 .5-1 0-1 1.6-1 2-1 .4-1 0-1-.2-1 0-1-.5-1-2-1-2.1-1 1.5-1 2-1 .5-1 0-1 1.3-1 .5-1 0-1-.5-1-2-1-2.1-1-.4-1-1.4-1 .5-1 0-1 .3-1 1.6-1 2-1 .4-1 0-1-.4-1-1.3-1 0-1-.4-1-2-1-1.5-1 6.2-1 2-1 .5-1 0-1-.5-1-2-1-.1-1 .5-1 0-1 2.7-1 2-1 .4-1 0-1-.4-1-2-1-6.3-1-2-1-1.7-1 .3-1 2-1 .5-1 1.5-1 2-1 .5-1 0-1 .2-1 .4-1 0-1-.4-1-1.5-1 0-1-.5-1-2-1 1.8-1 2-1 .5-1 0-1-.5-1-2-1-1.5-1-.4-1-.6-1-2-1 .4-1 2-1 .5-1 .4-1 .4-1 0-1-.4-1-2-1-1.3-1 1.4-1 .5-1 0-1-.5-1-2-1-1.5-1-1.6-1 1.3-1 .4-1 .1-1 1.4-1 .5-1 1.2-1 2-1 .4-1 0-1-.4-1-1.4-1-.5-1-2-1-2.1-1 .3-1 .4-1 0-1-.1-1 2-1 .5-1 0-1-.5-1-2-1-.8-1-2-1 1.7-1 .4-1 0-1 0-1 1.2-1 .4-1 0-1-.4-1 .8-1 .4-1 0-1-.4-1 .2-1 0-1-.5-1-.5-1 .6-1 .5-1 0-1-.5-1-2-1 .3-1 .1-1 2-1 .5-1 0-1-.5-1-2-1 0-1-.4-1-1.6-1 3.8-1 2-1 .5-1 0-1-.5-1-.5-1-2-1-3.3-1 0-1-.5-1 3.6-1 2-1 .4-1 0-1-.4-1-2-1-3.7-1-2.1-1 4.1-1 2-1 .5-1 0-1-.5-1-.1-1 .5-1 1.1-1 2-1 .4-1 0-1-.4-1-2-1-5.3-1-.3-1 2-1 .4-1 0-1 .2-1 .5-1 0-1-.5-1-2-1-1.2-1 1-1 .5-1 3-1 2-1 .4-1 0-1-.4-1-2-1-6.7-1-.4-1 .9-1 .5-1 3.2-1 2-1 .5-1 0-1-.5-1-.9-1 .4-1 0-1-.4-1-2-1-.5-1 .4-1 .4-1 0-1 0-1 1.9-1 .5-1 0-1 .4-1 2-1 .4-1 0-1-.4-1-2-1-.5-1-.1-1 0-1-.4-1-1.1-1-.4-1-1.6-1-.9-1 .4-1 0-1-.4-1 0-1 2-1 .4-1 0-1-.4-1-1.7-1 1.3-1 .4-1 0-1-.4-1-2-1 0-1 .3-1 0-1-.4-1-1.9-1-.1-1 .5-1 0-1-.5-1 1.3-1 .5-1 0-1 1.5-1 .4-1 0-1-.4-1-2-1-.5-1 .4-1 0-1-.4-1-1.1-1-.2-1 0-1-.4-1 .6-1 .5-1 0-1-.5-1-1.8-1 .5-1 .3-1 .3-1 .4-1 0-1 1.9-1 .5-1 0-1-.5-1-2-1-1.7-1 .4-1 2-1 .5-1 0-1 .1-1 .4-1 0-1-.4-1-2-1-3.4-1 2-1 .5-1 0-1-.5-1 .2-1 2.1-1 2-1 .4-1 0-1-.4-1-2-1-6.7-1 .5-1 0-1 .5-1 .5-1 1.9-1 .5-1 .2-1 1.1-1 .5-1 0-1-.5-1-.8-1-.5-1-.8-1-.2-1 2-1 .4-1 0-1-.4-1-2-1-5.6-1 .5-1 1.2-1 .5-1 0-1-.2-1-.1-1 2-1 .4-1 0-1-.4-1 4.1-1 2-1 .4-1 0-1-.4-1-2-1-4.1-1 0-1-.5-1-2-1-1.3-1 .5-1 2-1 .5-1 0-1-.5-1-1.3-1-2-1-1.7-1 .3-1 0-1 2.4-1 2-1 .5-1 0-1-.5-1-2-1-2.4-1 2-1 .5-1 0-1-.5-1-2-1-4.6-1-.5-1 0-1-.5-1-2-1-4-1 .1-1 1.4-1 .5-1 3.7-1 2-1 .5-1 0-1-.3-1 1.1-1 2-1 .5-1 0-1-.5-1-2-1-5.8-1 .5-1 0-1 1.6-1 .5-1 0-1-.5-1-2-1-5-1-.1-1-.5-1-2-1-2.1-1 .5-1 1.1-1 .4-1 0-1 3.4-1 2-1 .5-1 0-1-.5-1-2-1-3.9-1 .4-1 0-1-.4-1-1.2-1 .4-1 0-1 9.4-1 2-1 .5-1 0-1-.5-1-2-1-10.4-1-1.2-1-2-1-9.2-1-2-1 3.1-1 2-1 .4-1 0-1-.4-1-2-1-6.8-1 .4-1 0-1 1.5-1 2-1 .5-1 0-1-.5-1-2-1-2.7-1 .4-1 2.8-1 2-1 .5-1 0-1-.5-1-2-1-23.4-1 .4-1 0-1-.4-1-.7-1-2-1-4.6-1-.5-1-2-1-.5-1 0-1-.4-1-2-1-6.1-1 0-1-.5-1-2-1-1.2-1 0-1-.5-1-2-1-14.1-1 2-1 .5-1 0-1-.5-1-.8-1-2-1-10.6-1 2-1 .5-1 0-1-.5-1-2-1-8.4-1 0-1-.4-1-2-1-10.7-1-2-1-6.8-1 .2-1 2-1 .5-1 5.8-1 2-1 .4-1 0-1-.4-1-2-1-5.4-1 0-1-.4-1-2-1-2.6-1 0-1-.5-1-2-1 4.7-1 2-1 .8-1 12.3-1 2-1 .4-1 0-1-.4-1-1.2-1 .5-1 0-1-.5-1-.2-1 0-1-.5-1-2-1-4.2-1 16-1 2-1 .5-1 0-1-.5-1 .4-1 .5-1 5.1-1 2-1 .4-1 0-1 1.4-1 .5-1 0-1 2.4-1 2-1 14.2-1 2-1 .4-1 0-1-.4-1-2-1-10.7-1 5.2-1 10.6-1 2-1 .5-1 0-1-.5-1-.7-1 2.3-1 2-1 .4-1 0-1-.4-1-.5-1 2-1 .4-1 17.7-1 2-1 .4-1 0-1-.4-1-2-1-8-1 2-1 10-1 2-1 .4-1 0-1-.4-1 2.6-1 2-1 .4-1 0-1-.4-1-2-1-11.1-1 1.8-1 2-1 15.7-1 2-1 .5-1 0-1-.5-1-2-1-8.1-1-.4-1-1.1-1 3.4-1 2-1 .4-1 11.3-1 2-1 .4-1 0-1-.4-1-2-1-5.3-1 0-1-.4-1 2.1-1 2-1 2.5-1 2-1 .4-1 1.5-1 .4-1 0-1-.4-1 1.7-1 2-1 .5-1 0-1-.5-1 3.4-1 2-1 4.4-1 2-1 .4-1 0-1-.4-1-2-1-5.5-1 0-1-.4-1-1.2-1 2-1 .5-1 0-1 2.2-1 2-1 .5-1 0-1-.5-1-1.4-1 6-1 2-1 .5-1 0-1-.5-1-2-1-1.3-1-1.3-1 0-1-.4-1 .4-1 5.3-1 2-1 .4-1 0-1-.4-1-2-1-1.3-1 1.7-1 12.2-1 2-1 .4-1 0-1-.4-1-1.9-1-.5-1-2-1-1.9-1-1.7-1 0-1 .1-1 0-1 .2-1 0-1 5.4-1 2-1 .5-1 0-1-.5-1 .9-1 .4-1 0-1-.4-1-2-1-1.2-1-2-1 1.9-1 2-1 .4-1 0-1-.4-1-.6-1 .5-1 0-1-.5-1-2-1 5.1-1 2-1 .4-1 0-1-.4-1-1.3-1 .4-1 0-1-.4-1 .3-1 1.4-1 .5-1 0-1-.5-1-.7-1 2-1 2.7-1 2-1 .5-1 0-1-.5-1-2-1-3.8-1 2-1 1.8-1 1.5-1 .5-1 0-1-.5-1-2-1-4.4-1 3.7-1 2-1 .5-1 2.5-1 2-1 .5-1 0-1-.5-1-2-1 .2-1 .4-1 0-1-.4-1-2-1-4.5-1 1.5-1 2-1 1.1-1 2-1 .5-1 0-1 .7-1 2-1 1.3-1 2-1 .4-1 0-1-.4-1-2-1-1.6-1 2-1 .5-1 0-1-.5-1 1.6-1 .5-1 0-1-.5-1-1.3-1 0-1-.4-1-2-1 .5-1 .5-1 0-1-.5-1-1.7-1 .4-1 0-1 .3-1 .5-1 4.1-1 2-1 .4-1 0-1-.4-1-2-1-.6-1-2-1-1.4-1 .7-1 3.3-1 2-1 .5-1 0-1-.5-1-.2-1 0-1-.5-1 .4-1 2-1 .4-1 0-1-.4-1-2-1-2.3-1-.3-1 .6-1 .4-1 0-1-.4-1 1-1 3.2-1 2-1 .5-1 0-1-.5-1 1.3-1 2-1 .5-1 0-1-.5-1-2-1-3.5-1 2-1 .5-1 0-1-.5-1-2-1 3.2-1 2-1 .4-1 0-1-.4-1-1.3-1 2-1 .5-1 0-1-.5-1-2-1-4.6-1 .5-1 2.9-1 2-1 .4-1 0-1-.4-1-2-1-1.9-1 0-1-.5-1 0-1 0-1-.2-1 1-1 2.5-1 2-1 .4-1 0-1-.4-1-2-1 .2-1 2-1 .5-1 0-1-.5-1-2-1 2.1-1 2-1 .4-1 .3-1 .5-1 0-1-.5-1-1.8-1-.4-1-1.3-1-.4-1 .9-1 .4-1 0-1 9-1 2-1 .5-1 0-1-.5-1-2-1-9.9-1 0-1 .5-1 0-1 0-1 0-1-.3-1 .4-1 0-1-.4-1-.7-1 0-1-.4-1-1.6-1 3.5-1 2-1 .4-1 0-1-.4-1-2-1 .6-1 2-1 .4-1 0-1-.4-1-.5-1-.4-1-.3-1 .4-1 0-1-.4-1-.9-1 2-1 .5-1 0-1-.5-1-2-1-2-1 2-1 .5-1 0-1-.4-1 .4-1 0-1-.4-1-2-1 .8-1 2-1 .4-1 0-1 .1-1 2-1 .4-1 0-1-.4-1 1.6-1 .5-1 0-1-.5-1-2-1-6.6-1 1.8-1 2-1 .4-1 .3-1 1.7-1 .4-1 .4-1 0-1-.5-1-2-1-.9-1 2.9-1 2-1 .5-1 0-1-.5-1-2-1-1.4-1-.2-1 .5-1 0-1 .1-1 .4-1 0-1-.4-1 1.1-1 5.3-1 2-1 .5-1 0-1-.5-1-2-1-2.4-1 .1-1 2-1 .4-1 0-1-.4-1-.8-1 0-1-.4-1-2-1-1.1-1-2-1 .3-1 .6-1 .4-1 0-1-.4-1 2.9-1 2-1 .4-1 0-1-.3-1-.5-1-2-1-.1-1 .5-1 0-1-.3-1 0-1-.4-1 1.5-1 2-1 .5-1 0-1-.5-1 .5-1 2-1 .4-1 0-1-.4-1-2-1-.8-1 .4-1 0-1-.4-1 .8-1 2-1 .4-1 0-1-.4-1-2-1 2.3-1 2-1 .4-1 0-1-.4-1-2-1-7-1 0-1-.4-1 3.2-1 2-1 .9-1 .4-1 .4-1 0-1 1.2-1 .5-1 0-1-.5-1-2-1-1.2-1-.3-1 2-1 .4-1 0-1-.4-1-1.3-1-1.8-1-.5-1 .5-1 .4-1 0-1 .4-1 2.1-1 2-1 .5-1 0-1-.5-1-2-1-3.9-1 2-1 .4-1 0-1 1.6-1 .4-1 0-1 .8-1 2-1 .4-1 0-1-.4-1-2-1-2.6-1-.4-1-.5-1-.1-1 .1-1 0-1-.4-1 1.7-1 2-1 .5-1 0-1-.5-1-1.8-1 0-1-.4-1 1.3-1 .5-1 0-1-.5-1 .3-1 .5-1 0-1 0-1 0-1 1.3-1 .5-1 0-1-.5-1-2-1-1.4-1-.4-1-.7-1 .5-1 8.8-1 2-1 .4-1 0-1-.4-1-2-1-9-1-.9-1 0-1 .3-1 0-1 3.3-1 2-1 .4-1 0-1-.4-1-2-1-2.8-1-.4-1-1.2-1 .4-1 0-1 .8-1 .4-1 0-1-.4-1 3.6-1 2-1 .5-1 0-1 .3-1 .5-1 0-1-.5-1-2-1-1.5-1 5.8-1 2-1 .5-1 0-1-.5-1-2-1-7.7-1 3.3-1 2-1 .5-1 0-1-.5-1-1.7-1 .5-1 0-1-.5-1-2-1-.8-1 2-1 .5-1 0-1-.5-1-2-1 5.5-1 2-1 .5-1 0-1-.5-1-2-1-3.1-1-.8-1 2-1 .5-1 0-1-.5-1-2-1-1.4-1 .4-1 0-1-.4-1-.5-1 .1-1 0-1-.5-1 .1-1 .5-1 1.2-1 .4-1 0-1-.4-1-2-1-1.6-1 2-1 .5-1 0-1-.1-1 0-1-.5-1-1.5-1-1.6-1 6.9-1 2-1 .4-1 .4-1 0-1-.4-1-2-1-1.7-1-.4-1-2-1-1.1-1-.2-1 1.3-1 .5-1 0-1-.4-1 0-1-.5-1-2Z"/><path fill="#7f2aa5" d="M138.5 1015.3l1-4.3 1-2 1-.4 1 0 1 .4 1 2 1 1.2 1 0 1 .1 1-.4 1 0 1-1.5 1-.5 1 0 1 .5 1 .4 1 .3 1 0 1 .1 1-1.4 1-.4 1 0 1 .4 1 1 1 1.4 1-.5 1-1.3 1-2 1-.5 1 0 1 .5 1 2 1 .1 1 .4 1 .7 1-.4 1 0 1 .1 1-.1 1 0 1-1.2 1-.5 1 0 1 .5 1 1 1-2 1-.5 1 0 1 .5 1 2 1 .2 1-1 1-.4 1 0 1 .4 1 .7 1 .1 1-.4 1-1 1-.4 1 0 1 .3 1 0 1 .4 1 0 1-1.7 1-.5 1 0 1 .5 1 2 1-1.8 1-.4 1 0 1 .4 1 1.5 1 .3 1-2 1-.5 1 0 1 .5 1 .3 1-.5 1 0 1 .2 1-.5 1 0 1 .5 1 1.7 1-.3 1-1.4 1-.4 1 0 1 .2 1 0 1-.7 1-.5 1 0 1 .5 1 1.1 1-.1 1-.4 1 0 1 .4 1 .7 1 0 1-.4 1 0 1 .1 1-.5 1 0 1 .5 1 1.3 1-1.9 1-2 1-.4 1 0 1 .4 1 1.7 1 1.7 1-1.7 1-.5 1 0 1 .5 1 1.9 1-.4 1 0 1-.2 1-1 1-.5 1 0 1 .1 1 .4 1-.2 1-.4 1 0 1 .4 1 1.1 1-.8 1-.4 1 0 1 .4 1 .8 1-.4 1 0 1 .4 1-.2 1 0 1-1.5 1-.4 1-.4 1 0 1 .4 1 1.2 1 1 1-.1 1 0 1 .4 1 .4 1-.3 1-.6 1-.5 1 0 1 0 1-1.1 1-1.4 1-.5 1 0 1 .5 1 2 1 0 1 0 1 .1 1 0 1 .5 1 1.1 1-.4 1-.4 1 0 1-1.5 1-.5 1 0 1 .5 1 0 1 0 1 .4 1 .4 1 1.4 1-.3 1-.5 1-.4 1 0 1 .4 1 .5 1 0 1 .4 1-.7 1-.5 1 0 1-.4 1-2 1-.4 1 0 1 .4 1 2 1 1.4 1-.6 1-.4 1 0 1-.5 1-.4 1 0 1 .2 1 0 1-.1 1-.4 1 0 1 .4 1 1.1 1-2 1-.4 1 0 1 .4 1 1.4 1-.5 1 0 1-.5 1-.4 1 0 1 .4 1 2 1 .3 1-2 1-.4 1 0 1 .4 1 .9 1-.5 1-.2 1-.4 1 0 1-.3 1-.5 1 0 1 .5 1 1.2 1-.9 1-.5 1 0 1 .3 1-.5 1 0 1 .5 1 .8 1 0 1 .1 1-.5 1 0 1 .5 1 .3 1 .4 1 .5 1 .3 1-.5 1 0 1 .1 1-.3 1-.3 1-.4 1-.4 1-.8 1-.5 1 0 1 .5 1 .7 1 0 1 .4 1 .7 1 .5 1-1.4 1-.5 1 0 1-1.3 1-.9 1-.4 1 0 1 .4 1 2 1 2.1 1-.4 1-.6 1-2 1-.5 1 0 1 .5 1-.6 1-.4 1 0 1 .3 1 0 1 .5 1 1.1 1 1.6 1 0 1 .2 1 0 1-1.3 1-2 1-.5 1 0 1 .5 1 2 1 0 1-.4 1 0 1-1.2 1-.5 1 0 1 .5 1 0 1-.5 1 0 1 .5 1 1.2 1 1.2 1-2 1-.5 1 0 1 .5 1 2 1 .1 1-2 1-.5 1 0 1 .5 1 2 1-.2 1-1.1 1-.4 1 0 1 .4 1-.6 1-.4 1 0 1 .4 1 1.3 1 .3 1-1.7 1-.5 1 0 1 .5 1 .4 1-.5 1 0 1 .5 1 .7 1-.7 1-.4 1 0 1 .2 1-.5 1-.2 1-.5 1 0 1 .5 1 2 1 1.4 1-1.9 1-.4 1 0 1 .4 1 .3 1 .5 1-.2 1-2.5 1-2 1-.4 1 0 1 .4 1 1 1 0 1 .5 1 1 1 0 1-.2 1 0 1 .5 1 .1 1 0 1-.3 1 0 1 .4 1 1.2 1 0 1-.7 1-.5 1 0 1 .4 1 .4 1 .5 1-1.7 1-1.8 1-.4 1 0 1 .4 1 2 1 1.3 1-1.5 1-.5 1 0 1 .5 1 .4 1-1.8 1-.4 1 0 1 .4 1 .3 1-.4 1 0 1 .4 1 .8 1 2 1 .1 1 .4 1-1.8 1-1.6 1-.4 1 0 1 .4 1 .7 1 .5 1 .2 1-.2 1-.5 1-.5 1 0 1 .5 1-.8 1-.4 1 0 1 .4 1 .6 1-.4 1 0 1-.1 1-.4 1-.5 1-2 1-.4 1 0 1 .4 1 1.6 1 0 1 .4 1 .8 1-.3 1-.5 1 0 1 .5 1-.4 1 0 1 .4 1 1.8 1-1.8 1-.4 1 0 1-1.3 1-.4 1 0 1 .4 1-.3 1-.5 1 0 1-.1 1 0 1 .5 1 .8 1-1 1-.5 1 0 1 .5 1 0 1 .5 1 .2 1 .5 1 .6 1 1.7 1-1.6 1-.4 1-.6 1-.4 1 0 1 0 1 0 1 .5 1-1.6 1-.5 1 0 1 .4 1-.4 1-.5 1 0 1 .5 1 .4 1-.4 1-.9 1-2 1-.4 1 0 1 .4 1 2 1 .4 1 0 1-.9 1-.4 1 0 1 .4 1-.3 1-.5 1 0 1 .5 1 1.3 1-1.1 1-.5 1-.4 1 0 1-.6 1-2 1-.5 1-.7 1-9 1-2 1-2.1 1-3.6 1-6.4 1-2 1-8.2 1-7.8 1-4.4 1-4.9 1-10.4 1-5.4 1-7.2 1-7.6 1-11.4 1-2 1-13.6 1-2 1-4.6 1-9.8 1-8.9 1-7.4 1-4.2 1-8.8 1-4.3 1-2.9 1-14.1 1-2 1-9.3 1-8.6 1-4.1 1-6.3 1-10.1 1-16.5 1-14.6 1-2 1-5.9 1-2 1-10.1 1-17.9 1-4.9 1-2 1-1.6 1-2 1-18.9 1-2 1-.4 1-1.5 1-.4 1 0 1-14.4 1-2 1-13.2 1-2 1-.4 1 0 1 .4 1-.8 1-.5 1 0 1 .5 1 .4 1-.4 1 0 1-7.5 1-2 1-.4 1 0 1-4 1-2 1-.5 1 0 1-3.7 1-2 1-.4 1 0 1 .4 1 2 1-15.6 1-2 1-.4 1 0 1 .4 1 2 1 16 1 .5 1 0 1-7 1-19.3 1-2 1-.4 1 0 1 .4 1 2 1 1.5 1-2 1-.5 1 0 1 .5 1 2 1 10.3 1-.4 1-1.1 1-10.8 1-2 1-.5 1 0 1 .5 1-.2 1-2 1-.5 1 0 1 .5 1 2 1 15.2 1-3.4 1-4.6 1-2 1-1.7 1-2 1-.4 1 0 1 .4 1 2 1 12.3 1 2 1-11.9 1-2 1-.4 1 0 1 .4 1 2 1 10.6 1-2 1-.4 1 0 1 .4 1 2 1 17.6 1-5.8 1-2 1-.4 1 0 1 .4 1 2 1 .7 1-.1 1 0 1 .5 1 2 1 14.8 1 2 1 14 1-4.6 1-2 1-.4 1 0 1 .4 1 2 1 20.4 1-2 1-.5 1 0 1 .5 1 2 1 16 1-11.4 1-2 1-.5 1 0 1 .5 1 2 1 10.3 1 8.4 1 10.3 1 .3 1 .5 1 2 1 6.6 1 2 1 4.4 1 6.5 1 .4 1 1.6 1 0 1 .4 1 2 1 2.6 1 2 1 8.6 1-.5 1 0 1 .5 1 .7 1 2 1 10.5 1 .5 1 1.1 1-.4 1 0 1 .4 1 2 1 13 1-.4 1 0 1 .4 1 1.6 1-2 1-.4 1 0 1 .4 1 2 1 4.2 1 14.6 1 0 1 .4 1-.5 1-.4 1 0 1 .4 1 2 1 4.1 1 1.1 1 2 1 .5 1-.6 1-.5 1 0 1 .5 1 2 1 4.5 1 2 1-1.4 1-2 1-.4 1-7 1-2 1-.5 1 0 1 .5 1 2 1 25.4 1-12.2 1-2 1-.4 1 0 1 .4 1 2 1 2.7 1-.7 1-.4 1 0 1-5.5 1-2 1-.5 1 0 1 .5 1 2 1 4.3 1-.4 1-.2 1 0 1 .5 1 2 1 4 1-.5 1 0 1 .5 1 .8 1 2 1 4.8 1 2 1 8.7 1-5 1-2 1-.4 1 0 1 .4 1 .4 1-2 1-.4 1 0 1 .4 1 2 1 2.7 1 1.3 1-.5 1 0 1 .5 1-27 1-2 1-.4 1 0 1 .4 1 2 1 25.5 1-12.2 1-2 1-.4 1 0 1 .4 1 2 1 1.7 1 2 1 4.7 1-.4 1 0 1 .4 1 2 1 6.3 1-2.1 1-2 1-.5 1-2 1-.4 1 0 1 .4 1 2 1 4.6 1 2 1 4.7 1-2 1-.4 1 0 1 .4 1 .7 1-4.8 1-2 1-.5 1 0 1 .5 1 1.2 1 .4 1 2 1 1.6 1 0 1 .4 1 .5 1 .4 1 2 1 2.7 1 0 1 .5 1-.3 1-.5 1 0 1 .5 1-12.3 1-2 1-.4 1 0 1 .4 1 2 1 7.6 1 6.1 1-2 1-.5 1 0 1 .5 1 2 1 8.6 1-2 1-.5 1 0 1-2.8 1-2 1-.4 1 0 1 .4 1 .6 1 0 1-1.8 1-2 1-.4 1 0 1 .4 1 2 1 2 1-1.5 1-.5 1 0 1-6.5 1-2 1-.5 1 0 1 .5 1 2 1 5.6 1-.7 1-.4 1 0 1 .4 1 2 1 1.5 1-.4 1 0 1 .4 1 2 1 7.8 1-4.7 1-2 1-.4 1 0 1-3.7 1-2 1-.5 1 0 1 .5 1 2 1 4.9 1 .4 1 1.6 1 .4 1 1.9 1 0 1 .4 1-6.7 1-2 1-.4 1 0 1 .4 1-.9 1-.5 1 0 1 .5 1-2.2 1-2 1-.5 1 0 1 .5 1 2 1 14.3 1 .4 1-2.2 1-2 1-.5 1-4 1-2 1-.5 1 0 1 .5 1 2 1-4.2 1-2 1-.4 1 0 1 .4 1 2 1 10.1 1 0 1 .5 1 2 1-8.5 1-2 1-.4 1 0 1 .4 1 2 1 7.7 1 2 1-.8 1-2 1-.5 1 0 1 .5 1 .5 1-.4 1-.8 1-2 1-.4 1-.1 1 0 1 0 1 0 1 .5 1-1.2 1-1.3 1-.4 1 0 1 .4 1 2 1 2.2 1-2 1-1.7 1-.6 1-2 1-.4 1 0 1 .4 1-2.9 1-2 1-.5 1 0 1 .5 1 2 1 1.1 1 .4 1 2 1 1.4 1 0 1 .4 1-.6 1-2 1-2.9 1-2 1-.4 1 0 1 .4 1-2.4 1-2 1-.4 1 0 1 .4 1 2 1 2.5 1-.4 1 0 1 .4 1 2 1 7.9 1-.2 1-.4 1 0 1 .4 1 2 1 1.1 1-2 1-.5 1-9.3 1-2 1-.5 1 0 1 .5 1 2 1 .1 1 0 1 .5 1 2 1 7.4 1-.5 1-6.4 1-3.9 1-2 1-.5 1 0 1 .5 1 2 1 10.8 1-6 1-2 1-.4 1 0 1 .4 1 2 1 5.7 1-2 1-.5 1 0 1 .5 1 .9 1 0 1 .5 1 1 1-13.5 1-2 1-.4 1 0 1 .4 1-.1 1-2 1-.5 1 0 1 .5 1 2 1 4.4 1 2 1 1 1 2 1 4.1 1-3.8 1-2 1-.4 1 0 1 .2 1-2 1-.4 1 0 1 .4 1 2 1 .4 1-.8 1-2 1-.4 1 0 1 .4 1 2 1 2.8 1-1.7 1-.5 1 0 1 .5 1-.3 1-2 1-.4 1 0 1 .4 1 .6 1-2 1-5.2 1-2 1-.4 1 0 1 .4 1 2 1 1.6 1-.4 1 0 1 .3 1-.4 1 0 1 .4 1 2 1 2 1-2 1-1.8 1-2 1-.4 1 0 1 .4 1-1.8 1-2 1-.4 1 0 1 .4 1 2 1 11.7 1-8.8 1-2 1-.5 1-1.5 1-.5 1 0 1 .5 1 2 1 1 1-1.2 1-.4 1 0 1 .4 1-.3 1 0 1 0 1 .4 1-1 1-.5 1 0 1 .5 1 .9 1-2 1-.5 1-10.2 1-2 1-.5 1 0 1 .5 1 2 1-15 1-2 1-.5 1 0 1 .5 1 2 1 14.6 1 2 1 .4 1 2 1-7 1-2 1-.4 1 0 1 .4 1 2 1 9.9 1 2 1-1.1 1-2 1-.4 1 0 1 .4 1-6.2 1-2 1-.4 1-.4 1-2 1-.4 1 0 1 .4 1 2 1 9 1-.5 1-13.2 1-2 1-.4 1 0 1 .4 1 2 1 4.7 1 0 1 .5 1 2 1-1.6 1-.5 1-2 1-.5 1 0 1 .5 1 2 1 .6 1 0 1 .4 1-2.6 1-2 1-.5 1 0 1-.5 1-.4 1 0 1 .4 1 0 1 0 1 .5 1 2 1 2.9 1 2 1 3.9 1 0 1 .5 1 1.7 1-3.5 1-2 1-.5 1-2 1-.5 1 0 1-.9 1-2 1-6.1 1-2 1-.5 1 0 1 .5 1 2 1 7.9 1-1.7 1-2 1-.5 1 0 1 .5 1-1.7 1-.5 1 0 1 .3 1-2 1-.4 1 0 1 .4 1 2 1 6.9 1 0 1 .4 1 2 1 .5 1 .4 1-7.1 1-2 1-.4 1 0 1 .4 1 1.1 1 0 1 .5 1 .3 1 .2 1 0 1 .4 1 .9 1 .5 1-5.9 1-2 1-.5 1-3.4 1-2 1-.5 1 0 1 .5 1 2 1-1.6 1-.4 1-.7 1-2 1-.4 1 0 1 .4 1 2 1-3.9 1-2 1-.4 1 0 1 .4 1 2 1 3.9 1 1.4 1-.5 1 0 1 .5 1 2 1 1.9 1 .1 1-4.8 1-2 1-.4 1 0 1-14.1 1-2 1-.5 1 0 1 .5 1 2 1 17.3 1 .4 1 2 1 .1 1-1.9 1-2 1-.5 1 0 1 .5 1 2 1 3.4 1-11.4 1-2 1-.4 1 0 1 .4 1 2 1 12.9 1-2 1-8.6 1-2 1-.5 1 0 1 .5 1 2 1 2.7 1 0 1 .4 1 2 1 4.5 1-1.2 1-.5 1 0 1-3.1 1-2 1-1.5 1-.5 1 0 1 .5 1 2 1 2.5 1 .4 1 .4 1 0 1 .4 1 1.9 1-.4 1 0 1 .4 1 2 1 .4 1-2 1-.5 1-6.4 1-2 1-.5 1 0 1 .5 1 2 1 2.4 1-5.5 1-2 1-.5 1 0 1 .5 1 1.3 1 2 1 2.7 1 0 1 .4 1-.8 1-2 1-.4 1 0 1 .4 1 2 1 3.8 1-2 1-.4 1 0 1 .4 1 2 1 .3 1-1.2 1-1.7 1-.4 1 0 1 .4 1-1.6 1-.5 1-.1 1 0 1 .5 1 2 1 5.1 1 2 1 1.5 1-1.9 1-4.2 1-2 1-.5 1 0 1-.2 1 0 1 .5 1-1.5 1-.4 1 0 1 .4 1 2 1 3.2 1 0 1 .5 1-5.8 1-2 1-.4 1 0 1 .4 1 2 1 6.1 1-2 1-.7 1-.5 1 0 1-1.4 1-.4 1 0 1-4.1 1-2 1-1.2 1-.5 1 0 1 .5 1 2 1-4.2 1-2 1-.5 1 0 1 .5 1 2 1 5.8 1-.5 1 0 1-.8 1-.5 1 0 1-4.2 1-2 1-.4 1 0 1 .4 1 2 1 10 1-.4 1-5.1 1-2 1-.5 1 0 1 .5 1 2 1 1.2 1 2 1 .3 1 .5 1-.4 1 0 1 .4 1 .1 1-.2 1-2 1-.5 1 0 1 .5 1 2 1 5.9 1-2 1-7.4 1-2 1-.5 1 0 1 .5 1 2 1 3.2 1-4.7 1-2 1-.5 1 0 1-5.1 1-2 1-.5 1 0 1 .5 1 2 1 5.6 1 0 1 .4 1-5.2 1-2 1-.4 1 0 1 .4 1 2 1 4.4 1-3.6 1-2 1-.4 1 0 1 .4 1 2 1 8.7 1 2 1 .7 1-2 1-.4 1 0 1 .4 1-2.3 1-2 1-.5 1 0 1 .5 1 .2 1 0 1 .4 1 2 1 0 1-.5 1 0 1-1.6 1-2 1-.5 1 0 1 .5 1 2 1 5.1 1 0 1-10.8 1-2 1-.4 1 0 1 .4 1 .3 1 .5 1 2 1 .5 1-2 1-.5 1 0 1 .5 1 2 1 2.9 1-1.6 1-.5 1 0 1 .5 1 2 1 4.7 1-2 1-.5 1 0 1 .5 1 2 1 3.4 1 0 1-11.1 1-2 1-.5 1 0 1 .5 1 2 1 1.7 1 2 1 2.8 1 .5 1-.5 1-.1 1-7 1-2 1-.4 1 0 1 .4 1 2 1 3 1-9.4 1-2 1-.4 1 0 1 .4 1 2 1 8.3 1 0 1 .4 1-3.6 1-2 1-.4 1 0 1 .4 1 2 1 4.8 1 0 1 .4 1 2 1 4.3 1 0 1 .4 1-3.8 1-2 1-.5 1 0 1 .5 1 .7 1 2 1 1.6 1 .5 1 2 1-2.3 1-2 1-.4 1 0 1 .4 1 .7 1-.4 1 0 1 .4 1 .3 1 0 1 .5 1 .5 1 .4 1 1.5 1-15.7 1-2 1-.4 1 0 1 .4 1 2 1 8.9 1-2 1-.4 1 0 1 .4 1 2 1 3.8 1 2.9 1 .4 1 2 1-1.6 1-.5 1 0 1 .5 1-14.1 1-2 1-.5 1 0 1 .5 1 2 1 2.9 1 .9 1-10.8 1-2 1-.4 1 0 1 .4 1 2 1 6.2 1 0 1 .4 1 1.9 1-8.1 1-2 1-.5 1 0 1 .5 1 2 1 4 1 .5 1 .4 1-.4 1 0 1 .4 1 2 1 6.3 1-.4 1-2 1-.4 1 0 1 .4 1 2 1 3.2 1-.5 1 0 1-.7 1-8.6 1-2 1-.5 1 0 1 .5 1 2 1 3.1 1 0 1 .4 1 .6 1-.5 1 0 1 .5 1 .9 1-2.2 1-2 1-17.9 1-2 1-.4 1 0 1 .4 1 2 1 14.2 1 9.8 1-2 1-.5 1 0 1 .5 1 2 1 2.4 1 .7 1 2 1-8.9 1-2 1-.4 1 0 1 .4 1 2 1-.3 1-2 1-.5 1-2 1-2 1-.4 1 0 1 .4 1 2 1 1.5 1-.5 1 0 1 .5 1 2 1 5 1 2 1 .2 1-.5 1 0 1 .5 1 1.9 1 2 1 .6 1-3.6 1-2 1-.5 1 0 1 .5 1 1.5 1 2 1-16.2 1-2 1-.4 1 0 1 .4 1 2 1 12.1 1 2 1-4.5 1-2 1-.4 1 0 1 .4 1 2 1 7.4 1 .4 1 2 1-3.9 1-2 1-.4 1 0 1 .4 1 2 1 .1 1-.4 1 0 1 .4 1 2 1 1 1-2 1-.5 1 0 1 .5 1-.7 1-8 1-2 1-.4 1 0 1 .4 1 2 1 10.3 1-.4 1 0 1 .4 1 2 1 3.2 1-1.5 1-2 1-1.7 1-.4 1 0 1 .4 1 2 1-.1 1-.4 1 0 1 .4 1 2 1 1 1-2 1-18 1-2 1-.4 1 0 1 .4 1 2 1 12 1-2 1-.4 1 0 1 .4 1 2 1 7.3 1-5.5 1-2 1-.4 1 0 1 .4 1 2 1 1.9 1-.5 1 0 1-1.6 1-.5 1 0 1 .5 1-1.5 1-2 1-1.3 1-2 1-.5 1 0 1 .5 1 1.3 1 0 1 .5 1 2 1 4.2 1-6.9 1-2 1-.4 1 0 1 .4 1 2 1 1.5 1 .1 1 .5 1 1.8 1 .5 1 2 1-4.5 1-2 1-.5 1 0 1 .5 1 2 1 14.3 1 0 1 .5 1 2 1 .7 1-2 1-.4 1-.5 1-6.3 1-2 1-.4 1 0 1 .4 1 .5 1 2 1 6.4 1 2 1-10.6 1-2 1-.4 1 0 1 .4 1-3.8 1-2 1-.5 1 0 1 .5 1 1.1 1 .4 1 2 1 1.6 1 .5 1 0 1 .5 1 2 1 1.8 1-.4 1-.4 1-.4 1 0 1 .4 1 2 1 2.3 1-12.2 1-2 1-.5 1 0 1 .5 1 2 1 15.4 1 2.6 1-2 1-1.1 1-.4 1 0 1 .4 1 .2 1-.4 1 0 1 .4 1 .6 1-2 1-.5 1-1.1 1-.4 1-3.6 1-2 1-.5 1 0 1 .5 1 2 1 8.6 1-10.1 1-2 1-.5 1 0 1 .5 1 2 1 7 1 1.3 1-1.4 1-.5 1 0 1 .5 1 2 1 3.2 1 .5 1 1 1-.5 1 0 1 .5 1 .1 1-.4 1 0 1 .4 1 2 1 .4 1-.1 1-2 1-10.9 1-2 1-.5 1 0 1 .5 1 2 1 9.2 1 0 1 .4 1-.3 1-2 1-.4 1 0 1 .4 1 2 1 14.5L2186.5 851.7l-1 2-1 1.5-1 2-1 .4-1 0-1-.4-1-1.9-1-1.4-1-.5-1-2-1 6.3-1 2-1 .5-1 .3-1 2-1 .4-1 0-1-.4-1-2-1-7.4-1-2.2-1 .5-1 1.1-1 .4-1 5.7-1 2-1 .5-1 0-1-.5-1-2-1-2.8-1 0-1-.4-1-2-1-7.6-1-.4-1 0-1-.5-1-2-1 2.9-1 2-1 .4-1 5.8-1 2-1 .4-1 0-1-.4-1-2-1-4.9-1 6.4-1 2-1 .4-1 0-1-.4-1-2-1-.8-1 .4-1 .2-1 0-1-.4-1-1.7-1 0-1-.5-1-.3-1-.5-1-2-1 12.9-1 2-1 .5-1 0-1-.5-1-2-1-16.4-1-.3-1 2-1 .4-1 0-1-.4-1-.3-1 0-1 8.1-1 2-1 .5-1 0-1-.5-1-2-1-.6-1 2-1 .4-1 0-1-.4-1-2-1 15.9-1 2-1 .4-1 0-1-.4-1-2-1-8.5-1 0-1-.4-1-2-1-7.6-1 0-1-.4-1 3.7-1 2-1 .5-1 0-1-.5-1-2-1-2.2-1-.4-1-2-1-.2-1 0-1-.4-1-2-1-3.4-1 1.3-1 3.7-1 6.5-1 5.3-1 2-1 .4-1 0-1-.4-1-2-1-2.1-1 .5-1 0-1-.5-1-2-1-5.8-1 .4-1 8-1 2-1 .5-1 0-1-.5-1-2-1-3.5-1 .5-1 0-1-.5-1-.7-1 0-1-.4-1-2-1-2.3-1 0-1 .1-1 .4-1 0-1-.4-1-.3-1 2-1 2.8-1 2-1 .4-1 0-1-.4-1-2-1-1.2-1 0-1-.4-1-2-1-2.9-1 7.3-1 2-1 .5-1 0-1-.5-1-2-1-4.7-1 0-1 .5-1 0-1-.5-1-2-1-2.8-1 0-1 2.1-1 2-1 .5-1 0-1-.5-1 1.5-1 .4-1 0-1-.4-1-2-1 1-1 .4-1 0-1 .1-1 0-1-.4-1-2-1-2.4-1 2-1 .5-1 0-1-.5-1-2-1 2.3-1 2-1 .5-1 0-1-.5-1-2-1-2.6-1 0-1-.4-1-1.3-1 0-1-.5-1 .1-1 .4-1 .8-1 .5-1 0-1-.5-1-2-1-.8-1 .5-1 11.5-1 2-1 .5-1 0-1-.5-1-2-1-18.1-1 2-1 5.6-1 2-1 1.8-1 2-1 .5-1 0-1-.5-1-2-1-13.2-1 14.5-1 2-1 .4-1 0-1-.4-1-2-1 .3-1 0-1-.5-1-2-1-9.8-1 .6-1 9.2-1 2-1 .5-1 0-1-.5-1-2-1-.6-1 2-1 .5-1 0-1-.5-1-1.2-1-2-1-5.7-1 1.6-1 .5-1 .2-1 1.4-1 2-1 .5-1 1.4-1 .5-1 0-1-.5-1-2-1-2.3-1 .7-1 .5-1 0-1-.5-1-2-1 7.1-1 2-1 .4-1 0-1-.4-1-1.3-1-.5-1-2-1-6.1-1 1-1 .4-1 0-1 .6-1 2-1 .5-1 0-1-.5-1 0-1 1.4-1 .4-1 0-1 .4-1 .5-1 0-1-.5-1-2-1 .1-1 2.4-1 2-1 .4-1 0-1-.4-1 11.2-1 2-1 .5-1 0-1-.5-1-2-1-20.2-1 6.2-1 2-1 .5-1 0-1-.5-1 .2-1 .5-1 0-1-.5-1 3.8-1 2-1 .5-1 0-1-.5-1-2-1-10.9-1 .5-1 0-1-.5-1-2-1 9.7-1 2-1 .5-1 0-1-.5-1-2-1-1.5-1 .5-1 0-1-.5-1-2-1-3.6-1 0-1-.4-1 1.1-1 8.3-1 2-1 .5-1 0-1-.5-1-2-1-7.1-1 1.3-1 .4-1 0-1-.4-1-2-1-5.7-1 .8-1 4.6-1 2-1 .4-1 2.2-1 2-1 .5-1 0-1-.5-1-2-1-4-1-.5-1-2-1 5.3-1 2-1 .5-1 0-1-.5-1-2-1-1.9-1 0-1 1.1-1 2-1 .5-1 0-1 4.6-1 2-1 .7-1 .4-1 0-1-.4-1 1.5-1 .5-1 0-1-.5-1-2-1-11.8-1 .4-1 8.4-1 2-1 .5-1 0-1-.5-1-2-1-14.3-1 .5-1 1.6-1 2-1 .5-1 0-1 1-1 .5-1 0-1-.3-1 2-1 2-1 .5-1 8.4-1 2-1 .4-1 0-1-.4-1-2-1-9.8-1 2-1 .4-1 0-1-.4-1-.4-1 0-1-.1-1 2-1 .4-1 0-1-.4-1-.5-1-.5-1-2-1 6.6-1 2-1 .5-1 0-1-.5-1-2-1-13.7-1-1.7-1 .4-1 0-1-.4-1-1-1 2-1 .4-1 1.2-1 .5-1 0-1-.5-1-2-1 0-1 6.5-1 11.1-1 2-1 .5-1 0-1-.5-1 .8-1 2-1 2.1-1 2-1 .4-1 0-1-.4-1-2-1-7.7-1 2-1 .4-1 0-1-.4-1-2-1-6.9-1 0-1-.4-1-2-1-6.6-1 4.1-1 2-1 1.5-1 2-1 .5-1 0-1-.5-1-2-1-4.6-1 .5-1 8.1-1 2-1 .5-1 0-1-.5-1-2-1-1.7-1-.4-1-1.8-1 0-1-.5-1-.2-1 0-1-.5-1-.7-1 2-1 .5-1 0-1-.5-1 .2-1 .4-1 0-1-.4-1 1-1 2-1 .4-1 0-1-.4-1-2-1-3.7-1-3.1-1 1.5-1 .4-1 .3-1 11.5-1 2-1 .5-1 0-1 .7-1 .4-1 0-1-.4-1-2-1-11-1 .4-1 0-1 10.9-1 2-1 .5-1 0-1-.5-1-2-1-11-1 2-1 8.8-1 2-1 .5-1 0-1-.5-1-1.9-1 .4-1 0-1-.4-1-2-1-6.8-1 0-1-.4-1-2-1-2.3-1 14.4-1 2-1 .4-1 0-1-.4-1-2-1-5.9-1-2-1-3.7-1-6.5-1 4.3-1 2-1 .4-1 0-1-.4-1 1.7-1 3.2-1 2-1 .4-1 0-1-.4-1 5.3-1 2-1 .4-1 0-1-.4-1-2-1-.6-1 2-1 .5-1 0-1-.5-1-.8-1 .5-1 0-1-.5-1-2-1-8-1-1.6-1 0-1-.5-1-.5-1 2-1 8.4-1 2-1 .4-1 0-1-.4-1-2-1-1.2-1-2-1-7.9-1-2.7-1 .1-1 0-1 7.2-1 2-1 9.5-1 2-1 .5-1 0-1-.5-1-2-1-9.1-1 2-1 .5-1 0-1-.5-1-2-1 .8-1 2-1 .4-1 0-1 .8-1 2-1 .5-1 0-1-.5-1-2-1-10.7-1 .7-1 2-1 .4-1 0-1-.4-1-1.7-1 .4-1 0-1-.4-1 4.7-1 2-1 .4-1 1.2-1 .4-1 0-1 .2-1 2-1 .4-1 0-1-.4-1-2-1-10.9-1 0-1 1.7-1 3.4-1 2-1 1-1 .4-1 0-1-.4-1-2-1-3.7-1 2-1 .4-1 .2-1 0-1-.4-1-2-1-1.8-1 0-1-.3-1 0-1-.4-1 13-1 2-1 .5-1 0-1-.5-1-2-1-2.2-1 2-1 2-1 .5-1 0-1 2.2-1 2-1 .5-1 0-1-.5-1-2-1-2-1 0-1-.5-1 8.4-1 2-1 .5-1 0-1-.5-1-1.7-1 .4-1 0-1-.4-1-2-1-4-1-2-1-7.3-1 .5-1 0-1 3.3-1 2-1 .5-1 0-1-.5-1-.4-1-.4-1-2-1 1.5-1 1.1-1 2-1 .5-1 0-1-.5-1-2-1 5.2-1 2-1 .5-1 0-1-.5-1-2-1 1-1 .4-1 0-1-.4-1-2-1-10.3-1 11.1-1 2-1 .4-1 0-1-.4-1 .1-1 0-1-.4-1-2-1-2.9-1 10.1-1 2-1 .4-1 0-1-.4-1-2-1-9.8-1 9.9-1 2-1 .4-1 0-1-.4-1-2-1-5.1-1 .5-1 1.8-1 .4-1 0-1-.4-1 .3-1 0-1-.5-1-2-1-4.2-1 0-1-.5-1-2-1 1-1 .5-1 0-1-.5-1-1.8-1 4.3-1 2-1 .4-1 0-1-.4-1 3-1 2-1 .5-1 0-1-.5-1-.1-1 0-1-.5-1-2-1-1.6-1 .4-1 7.4-1 2-1 .4-1 0-1-.4-1-2-1-8.2-1-4.6-1-.5-1 4.8-1 4.8-1 2-1 .5-1 0-1 .4-1 0-1-.5-1-2-1-5.7-1-4.5-1 16.8-1 2-1 .5-1 0-1-.5-1-2-1-12.2-1 .5-1 0-1-.1-1 6.6-1 6.7-1 2-1 .4-1 0-1 5.4-1 2-1 .5-1 0-1-.5-1-2-1-6.4-1-2-1-3.4-1 0-1 .2-1 0-1-.4-1-2-1-4.2-1 1.1-1 2-1 .5-1 .2-1 0-1-.4-1 1.5-1 .5-1 0-1-.5-1 3.9-1 2-1 .4-1 0-1 1.8-1 .5-1 3.1-1 2-1 .4-1 0-1-.4-1-2-1-11.1-1 2-1 .4-1 0-1-.4-1-.1-1-.4-1-.8-1 0-1-.4-1 5.4-1 2-1 .4-1 0-1-.4-1-1.7-1-.4-1-2-1-.2-1 2-1 .4-1 .7-1 .5-1 0-1 2.8-1 7.4-1 2-1 .5-1 0-1-.5-1-2-1-8-1 .5-1 0-1-.5-1-1.1-1 .5-1 0-1 5.5-1 2-1 .4-1 0-1-.4-1-2-1 1.8-1 2-1 .5-1 0-1-.5-1-2-1-1.3-1 11-1 2-1 .5-1 0-1-.5-1-2-1-7.2-1 0-1-.5-1 .3-1 .4-1 0-1-.4-1 6.6-1 2-1 .4-1 0-1-.4-1-2-1-6.1-1 2-1 .4-1 0-1-.4-1-2-1-1.2-1 0-1-.4-1-.8-1 .5-1 0-1-.5-1-.3-1 3-1 2-1 .4-1 0-1-.4-1-2-1-7-1 .4-1 2-1 .4-1 0-1-.4-1-2-1-3.8-1 0-1-.5-1-1.3-1 .2-1 5.6-1 2-1 2.5-1 2-1 .5-1 0-1-.5-1 .4-1 .4-1 .4-1 .5-1 0-1-.5-1-2-1 2.6-1 2-1 .5-1 0-1-.5-1-2-1-8.1-1 .4-1 7.1-1 2-1 .5-1 0-1-.5-1-2-1-4.1-1 0-1-.5-1-1.9-1 4-1 2-1 .4-1 0-1 2.5-1 2-1 .4-1 0-1 8.7-1 2-1 .4-1 0-1-.4-1-2-1-14.4-1-.4-1 .6-1 2-1 .5-1 0-1-.5-1-2-1 .6-1 .4-1 0-1-.4-1-2-1-3.6-1 .7-1 2-1 .4-1 0-1-.4-1-.6-1 .4-1 0-1-.4-1 0-1 1.8-1 2-1 .4-1 0-1-.4-1-2-1-1.2-1-.2-1 .4-1 0-1-.4-1-2-1-1-1 2-1 .5-1 0-1 5.8-1 2-1 .5-1 0-1-.5-1-2-1-4.1-1-.2-1 0-1-.5-1-2-1-2.2-1 .4-1 0-1-.4-1-1.8-1 .5-1 0-1 6-1 2-1 .5-1 0-1-.5-1 .4-1 .4-1 0-1 .5-1 6.8-1 2-1 .4-1 0-1-.4-1-2-1-10.5-1 .5-1 0-1-.5-1 6.9-1 2-1 .4-1 0-1-.4-1-2-1-2.4-1-2-1-3.9-1 .1-1 0-1-.5-1-2-1-4.4-1 7.2-1 2-1 .4-1 0-1-.4-1-2-1-4.7-1-1.2-1 2-1 .5-1 0-1-.5-1-2-1-2.5-1 .4-1 .5-1 .8-1 .5-1 0-1-.5-1-1.2-1 5-1 2-1 .4-1 0-1-.4-1 .2-1 .5-1 0-1 .4-1 .5-1 0-1-.5-1-2-1-1.7-1-.5-1-2-1-3.7-1-2-1-3-1 2.1-1 2-1 .5-1 7-1 2-1 .5-1 0-1-.5-1-.1-1 0-1-.5-1-2-1-3.9-1-.5-1-1.1-1-2-1-1.7-1 .5-1 0-1 1.5-1 .4-1 0-1-.4-1-1.1-1 0-1-.4-1-1.3-1 .5-1 0-1 1.6-1 1.9-1 1.7-1 2-1 .5-1 0-1-.5-1 1.8-1 .5-1 0-1-.5-1-2-1 0-1-.4-1 1-1 2-1 .4-1 0-1-.4-1-2-1-10-1-1.5-1 13.9-1 2-1 .5-1 2.7-1 2-1 .4-1 0-1-.4-1-2-1-21.9-1-.5-1-.4-1-.3-1 0-1 20.6-1 2-1 .5-1 0-1-.5-1-2-1-5-1 .5-1 0-1-.5-1-2-1-4.1-1-.5-1-2-1-1.9-1 0-1-.4-1-2-1-7.4-1 2-1 .5-1 0-1-.5-1-2-1-3.1-1 .5-1 0-1-.5-1-2-1-.2-1 .5-1 0-1-.5-1-2-1-11.2-1 1.3-1 2-1 .5-1 0-1 .3-1 .5-1 0-1-.5-1-2-1 2.7-1 2-1 .5-1 0-1-.5-1-2-1-8.9-1-2-1 1.4-1 .4-1 0-1-.4-1-2-1-4.8-1 0-1-.4-1-2-1-2.7-1-.4-1-2-1-2.6-1-2.7-1 .5-1 0-1 1.3-1 .4-1 0-1-.4-1-2-1-12.9-1 0-1-.4-1-2-1-2.7-1-.3-1 0-1-.4-1-.5-1-2-1-1.1-1-2-1 .2-1 .4-1 0-1-.4-1-2-1-12.9-1-.9-1 1.3-1 2-1 .4-1 0-1-.4-1-2-1-14.5-1 0-1-.5-1-2-1-11.6-1-.7-1-.4-1-2-1-1.5-1-2-1 13.1-1 2-1 .4-1 0-1-.4-1-2-1-25.9-1 0-1-.5-1-2-1-7.4-1-2-1-4.1-1 2-1 .4-1 0-1-.4-1-2-1-6.7-1-.4-1-2-1-11.1-1 1.9-1 2-1 .5-1 0-1-.5-1-2-1-14.8-1 0-1-.5-1-2-1-13.1-1-2-1-1-1 2-1 .4-1 0-1-.4-1-2-1-6.2-1 2-1 .4-1 0-1-.4-1-1.9-1-2-1 4.2-1 2-1 .5-1 0-1-.5-1-2-1-2.7-1-14.4-1 .5-1 0-1-.5-1-1.9-1-.4-1-2-1-9.9-1 .2-1 .9-1 19.5-1 2-1 .5-1 0-1-.5-1-2-1 9.4-1 2-1 .5-1 0-1 0-1 0-1-.4-1-2-1-3.2-1-3.3-1 .9-1 1-1 2-1 21.4-1 2-1 .4-1 0-1-.4-1-2-1-15.9-1 21.6-1 2-1 .4-1 0-1-.4-1-2-1-4-1-4.4-1 2.8-1 2-1 .4-1 0-1-.4-1-2-1-10.4-1-.1-1 15-1 2-1 .5-1 0-1-.5-1-2-1-5.3-1 11.1-1 2-1 5.2-1 2-1 .4-1 0-1-.4-1-.6-1 2.8-1 10.6-1 2-1 .4-1 7.8-1 2-1 .4-1 5.6-1 2-1 .5-1 2.2-1 7.9-1 2-1 .5-1 8.9-1 20.2-1 2-1 6.6-1 4.4-1 10.8-1 2.6-1 8.7-1 9.2-1 7.4-1 7-1 4.2-1 8.4-1 7.6-1 6-1 4.8-1 5.7-1 9.8-1 4.7-1 5.3-1 9.2-1 7.7-1 5.9-1 11.1-1 7.1-1 6.7-1 8.5-1 5-1 3.2-1 13.5-1 2-1 3.6-1 4.9-1 9.2-1 3.7-1 2-1 7.4-1 2-1 .5-1 .2-1 1.5-1 2-1 .5-1 .1-1 .8-1 .4-1 0-1-.4-1 0-1-.3-1 .9-1 .4-1 0-1-.1-1-.1-1 0-1 .1-1 0-1 1.5-1 .4-1 0-1-.4-1-.7-1 0-1 1.7-1 .5-1 0-1-.5-1-2-1-1-1 .9-1 .4-1 0-1-.4-1 .3-1 .5-1 0-1 .5-1 0-1 .4-1 0-1 .2-1 1.6-1 .4-1 0-1-.4-1-2-1 .1-1 .4-1 0-1-.4-1-.5-1-.4-1 .4-1 0-1 0-1 2-1 .5-1 0-1-.5-1-1.1-1 0-1 0-1-.2-1-.4-1 .2-1 .4-1 .8-1 2-1 .4-1 0-1-.4-1-2-1-.4-1-.3-1 .5-1 0-1-.5-1 .2-1 .5-1 0-1-.1-1 .8-1 .5-1 0-1-.5-1 .5-1 .4-1 0-1 .1-1 1-1 .4-1 0-1-.4-1-2-1-.7-1-.2-1 1.6-1 .5-1 0-1-.5-1-1.3-1-1-1 2.6-1 2-1 .4-1 0-1-.4-1-1.8-1 .3-1 .5-1 0-1-.5-1-.1-1 .4-1 0-1-.4-1-.9-1 .1-1 0-1-.4-1-.8-1 1.5-1 2-1 .5-1 0-1-.5-1-1.7-1 .4-1 1.1-1 .4-1 0-1-.4-1-1.6-1 .1-1 2.4-1 2-1 .4-1 0-1-.4-1-2-1-.8-1 0-1-.4-1 .3-1 1.1-1 .5-1 0-1-.5-1-1.5-1 0-1 .5-1 1.2-1 .5-1 0-1-.5-1-2-1-1.3-1 1.2-1 .4-1 .6-1 2-1 .5-1 0-1-.5-1-2-1-.3-1-.4-1-2-1 1.6-1 .5-1 0-1-.5-1 .9-1 2-1 .4-1 0-1-.2-1-.4-1-2-1-.9-1 .4-1 0-1 .2-1 .4-1 0-1-.4-1-.4-1 .1-1 .4-1 .3-1 0-1 .1-1 1.2-1 2-1 .4-1 0-1-.4-1-2-1-2.3-1 0-1 0-1 0-1 0-1 .4-1 .6-1 .4-1 0-1-.4-1-1.5-1 1.1-1 .5-1 0-1-.5-1-.4-1 .3-1 .4-1 0-1-.3-1 2-1 .4-1 0-1-.4-1-1.5-1-.4-1 1.1-1 .4-1 0-1-.4-1-.5-1 0-1-.5-1-.6-1 .5-1 0-1 1.1-1 2-1 .5-1 0-1-.5-1-2-1-1.2-1 .5-1 0-1-.3-1 .6-1 .5-1 0-1-.5-1-.5-1 .4-1 2-1 .4-1 0-1-.4-1-1.3-1 0-1-.5-1-.6-1 .5-1 .8-1 .4-1 0-1-.2-1-.5-1-2-1 0-1 .1-1 .5-1 .4-1 .4-1 0-1-.4-1 1-1 .4-1 .2-1 2-1 .4-1 0-1-.4-1-2-1-2.3-1 1.5-1 .5-1 1.8-1 .5-1 0-1-.5-1-1.8-1 0-1-.3-1-.1-1 0-1-.4-1-.4-1-1.3-1 2-1 .4-1 0-1 .2-1 0-1-.5-1-.4-1-.4-1-.5-1 2-1 .5-1 0-1-.5-1-2-1-.4-1 .4-1 .7-1 .5-1 .4-1 0-1-.4-1-.3-1 0-1 1-1 .5-1 0-1-.5-1-1.6-1 .7-1 .5-1 0-1-.5-1-1.5-1 0-1 .3-1 .2-1 0-1 .3-1 .4-1 0-1 2.1-1 2-1 .5-1 0-1-.5-1-2-1-2.9-1 0-1 .2-1 0-1 1.2-1 .5-1 0-1 .4-1 2-1 .4-1 0-1-.4-1 .7-1 .5-1 0-1-.5-1-2-1-1.7-1 .4-1 0-1-.4-1-1.2-1-.1-1 .3-1 2-1 .4-1 0-1-.4-1 .4-1 0-1-.3-1 .4-1 0-1-.4-1-1.2-1 .5-1 0-1-.5-1-.1-1 .4-1 0-1-.4-1 .6-1 .5-1 0-1-.1-1 .5-1 0-1 .2-1 .4-1 0-1-.4-1-2-1-.1-1 .6-1 .4-1 1.9-1 .4-1 0-1-.4-1-1.7-1 .5-1 0-1 .2-1 0-1 .1-1 0-1-.1-1 2-1 .4-1 0-1-.4-1-2-1-.6-1 .5-1 0-1 .2-1 0-1-.5-1-2-1 .1-1 .8-1 2-1 .4-1 0-1-.4-1-2-1 .2-1 0-1-.4-1 .9-1 2-1 1.6-1 .5-1 0-1-.5-1-1.1-1 .4-1 0-1-.4-1-2-1 .3-1 0-1 .1-1 0-1-.2-1 1.2-1 .5-1 0-1-.5-1-.9-1 .5-1 0-1-.5-1-.3-1-.2-1 0-1-.5-1 .3-1 0-1-.4-1-.4-1 .5-1 0-1 .4-1 1.4-1 .4-1 0-1-.4-1-1.1-1 2-1 .4-1 0-1-.4-1-1.7-1-.6-1 0-1 1.5-1 .5-1 0-1-.5-1 .6-1 1.3-1 .4-1 0-1-.4-1-2-1-2.2-1 2-1 .5-1 0-1-.5-1-.6-1 1.5-1 .5-1 0-1-.5-1 0-1 0-1-.5-1-.6-1 .7-1 2-1 .4-1 0-1-.4-1-1.8-1 0-1 .7-1 .4-1 0-1-.4-1-1.1-1 0-1 1.8-1 .4-1 0-1-.4-1-2-1-.6-1 .4-1 .4-1 1.5-1 .4-1 0-1-.4-1-2-1-1.6-1-2Z"/><path fill="#000000" d="M138.5 755.1l1-2 1-.4 1 0 1 .4 1 2 1 2.3 1 2 1 5.1 1 0 1 .4 1 2 1 1.4 1-2 1-12.5 1-2 1-.4 1 0 1 .4 1 2 1 6.7 1 2 1 3.1 1-9 1-2 1-.4 1 0 1 .4 1 2 1 .1 1 0 1 .5 1 2 1 1.1 1-.4 1 0 1 .4 1 1.8 1-.4 1-1.5 1-.4 1 0 1 .4 1 2 1 4 1-6.2 1-2 1-1.6 1-.5 1 0 1 .5 1 2 1 4.6 1 1.4 1-.4 1 0 1 .4 1 .9 1-.8 1-2 1-.5 1 0 1-.9 1-.4 1 0 1 .4 1-2 1-2 1-.4 1 0 1 .4 1 2 1 8.1 1-.5 1 0 1 0 1-.4 1-.2 1-2 1-1.6 1-.5 1 0 1-1.6 1-2 1-.5 1 0 1 .5 1 2 1-3 1-2 1-.5 1 0 1 .5 1 .6 1 .4 1 .6 1 .4 1 2 1 1.4 1 .5 1 .2 1 0 1 .5 1 .3 1-2 1-.5 1 0 1 .5 1 1.4 1 1.4 1 2 1-.1 1-.5 1-7.7 1-2 1-.5 1 0 1 .5 1 1.2 1-2.7 1-2 1-.4 1 0 1 .4 1 2 1 .9 1 .4 1 1.8 1 0 1 .2 1-2 1-.5 1 0 1 .5 1 2 1-10.6 1-2 1-.4 1 0 1 .4 1 2 1 10.3 1 .6 1 .6 1-.5 1 0 1-8.8 1-2 1-.4 1 0 1 .4 1 2 1 6.4 1 .4 1 2 1 1.7 1-7.2 1-2 1-.5 1 0 1 .5 1 2 1 .9 1 0 1 .5 1 2 1-5.6 1-2 1-.4 1 0 1 .4 1 2 1 6 1-2 1-1.9 1-.4 1-1 1-2 1-.5 1 0 1 .5 1 1.2 1 2 1 3.1 1 0 1 .4 1 1.3 1-1.7 1-9.6 1-2 1-.4 1 0 1 .4 1 2 1 2.9 1 .3 1 0 1 .5 1 1.2 1 1.3 1-2 1-.4 1 0 1 .4 1 2 1 3.3 1-.4 1-3.5 1-2 1-.5 1 0 1 .5 1 1.6 1-.4 1-.5 1-1.8 1-.5 1 0 1-1.9 1-.5 1 0 1 .1 1-2 1-.4 1 0 1-10.7 1-2 1-.4 1 0 1 .4 1 2 1 16.3 1-8.2 1-2 1-.5 1 0 1 .5 1 2 1 5.6 1 .4 1 0 1 0 1 .4 1 .8 1-2.3 1-3.6 1-2 1-.5 1 0 1-3 1-2 1-.5 1 0 1 .5 1 2 1 9.6 1-.2 1-1.6 1-2 1-.4 1 0 1-1.3 1-.5 1 0 1 .5 1 .7 1-5.3 1-2 1-.5 1 0 1 .5 1 2 1 7.7 1 2 1-5.6 1-2 1-.5 1 0 1-.1 1 0 1-4.3 1-2 1-.5 1 0 1 .5 1 1.9 1-6.9 1-2 1-.5 1 0 1 .5 1 2 1 9.7 1-.5 1 0 1 .5 1 2 1 4.1 1-2 1-1.6 1-2.8 1-2 1-.4 1 0 1 .3 1-2 1-.5 1 0 1 .5 1 2 1 2.2 1-1.9 1-2 1-.4 1 0 1 0 1 0 1 .4 1-8.8 1-2 1-.5 1 0 1 .5 1 2 1 11.2 1 4.9 1-1.3 1-1.1 1-.6 1-.5 1-1.1 1-2 1-.4 1 0 1-.4 1 0 1-.3 1-1.6 1-.5 1 0 1 .5 1 2 1 3.3 1-.4 1-1.1 1-.4 1 0 1-3.3 1-2 1-.4 1 0 1 .4 1 2 1 3.7 1 0 1 .5 1-1.1 1-2 1-.4 1 0 1 .4 1 2 1 2.5 1-2 1-.4 1 0 1 .4 1 2 1 .2 1-10.5 1-2 1-.5 1 0 1 .5 1 2 1 10.4 1-.8 1-2 1-.4 1 0 1 .4 1 2 1 1.9 1-.2 1-1.2 1-.5 1 0 1 .5 1 2 1 .9 1-.5 1 0 1-.3 1-.5 1 0 1-1.3 1-2 1-1.7 1-2 1-.4 1-3.5 1-2 1-.4 1 0 1 .4 1 2 1 1.6 1 2 1 6.2 1-1.1 1-.4 1 0 1-4.1 1-2 1-.5 1 0 1 .5 1 2 1 7.2 1-4 1-2 1-.4 1 0 1 .4 1 .5 1 .4 1 1.3 1 .8 1-2 1-.5 1 0 1-1.9 1-2 1-.5 1 0 1 .5 1 2 1 7.9 1-.4 1-.2 1-3.3 1-2 1-1.8 1-2 1-.5 1 0 1 .5 1 2 1 4.3 1 0 1-.4 1 0 1-.2 1-2 1-.4 1 0 1-2.4 1-2 1-.5 1 0 1 .5 1 2 1 2.4 1-.4 1 0 1 .4 1 .8 1 .5 1 2 1 .6 1 .1 1-2 1-.5 1 0 1 .5 1-.1 1 0 1-.5 1-2 1-.5 1 0 1 .5 1 2 1 5.5 1 .1 1 0 1-7 1-2 1-.4 1 0 1 .4 1 2 1-1.4 1-2.5 1-2 1-.4 1 0 1 .4 1 2 1 2.4 1 .5 1 2 1 4.9 1-.8 1-8.5 1-2 1-.5 1 0 1 .5 1 .1 1 0 1 .4 1 2 1 4.6 1-3.8 1-2 1-.4 1 0 1 .4 1 2 1-1.1 1-.4 1 0 1 .4 1 2 1 1.6 1-.5 1 0 1 .5 1 1.9 1-.2 1 0 1-1.5 1-1.6 1-.5 1 0 1 .5 1 2 1-1.4 1-2 1-.4 1 0 1 .4 1-5.3 1-2 1-.4 1 0 1 .4 1 2 1 3.6 1 .4 1 2 1 .6 1 0 1-1 1-.4 1 0 1 .4 1 1 1-10.3 1-2 1-.5 1 0 1 .5 1 2 1 4.5 1 0 1 .5 1 2 1 4.2 1 .4 1-2 1-.4 1-3.4 1-2 1-.4 1-.3 1-2 1-.5 1-.6 1-.5 1 0 1 .5 1 2 1 .2 1 .4 1 2 1 1.2 1-.4 1-4.4 1-2 1-.5 1 0 1 .5 1 1.4 1 2 1 3.5 1 .6 1 2 1-.2 1-.4 1-1.4 1-.5 1-12.7 1-2 1-.4 1 0 1 .4 1 2 1 13.1 1 .1 1 0 1 .4 1 1.5 1 .4 1-7.9 1-2 1-.5 1 0 1 .5 1-.1 1 0 1 .5 1 2 1 1 1-1.8 1-.4 1 0 1 .4 1 2 1 1.8 1-1.2 1-1.1 1-2 1-1.1 1-2 1-.4 1 0 1 .4 1 2 1-1.8 1-2 1-4 1-2 1-.4 1 0 1 .4 1 2 1 5.2 1 0 1 .4 1 2 1 6.2 1 2 1-1.4 1-2 1-.5 1-1.7 1-.5 1 0 1-2.8 1-2 1-2.6 1-2 1-.4 1 0 1 .4 1 2 1 8.7 1 2 1-11.5 1-2 1-.5 1 0 1-.2 1-2 1-.4 1 0 1 .4 1 2 1 12.7 1 2 1-1 1-1.8 1-2.8 1-2 1-.4 1-3.4 1-2 1-.5 1 0 1 .5 1 2 1 9.7 1-1.3 1-.5 1 0 1 .5 1 1.8 1-3 1-2 1-.5 1 0 1 .5 1 1.8 1-.1 1-.5 1 0 1 .5 1 2 1 2.4 1-.5 1 0 1-.3 1-2.6 1-2 1-.4 1 0 1 .4 1-1.1 1-.4 1 0 1 .4 1 1.3 1-1 1-2 1-.4 1 0 1 .4 1 2 1 6.5 1-2 1-.5 1 0 1-4 1-2 1-.5 1 0 1 .5 1 2 1 1.1 1-2 1-.5 1 0 1 .5 1 2 1 2 1 2 1 .6 1-.1 1-.4 1 0 1-4.8 1-2 1-.5 1 0 1 .5 1 2 1-1.8 1-.5 1 0 1 .5 1 2 1 10.2 1 .3 1-1 1-2.7 1-3 1-2 1-.5 1 0 1 .5 1-3.6 1-2 1-.4 1 0 1 .4 1 2 1 3.4 1 0 1 .4 1 2 1-.1 1-2 1-.4 1 0 1 .4 1 2 1-8 1-2 1-.5 1 0 1 .5 1 2 1 8.3 1-.4 1 0 1 .4 1 2 1-1.6 1-.4 1 0 1 .4 1 .3 1-.4 1 0 1 .4 1 2 1-6.1 1-2 1-.4 1 0 1 .4 1 2 1 9.4 1-.5 1 0 1 .5 1 2 1 2.7 1-.4 1-.5 1-3 1-2 1-.5 1-.2 1-.4 1-1.8 1-.5 1 0 1 .5 1 1.8 1-10.1 1-2 1-.5 1 0 1 .5 1 2 1 3.2 1 2.5 1-4.3 1-2 1-.5 1 0 1 .5 1 .4 1 .5 1 2 1 1.5 1 2 1 3.3 1 1.5 1 1.4 1-2 1-.5 1 0 1 0 1-2 1-.4 1 0 1 .4 1-7.1 1-2 1-.4 1 0 1 .4 1 2 1 12.1 1 2 1-2 1-1.2 1-2 1-.4 1-.8 1-.5 1 0 1 .5 1 .1 1 .4 1-2.5 1-2 1-.5 1 0 1 .5 1 2 1-7.1 1-2 1-.5 1 0 1 .5 1 2 1 2.4 1 2 1 0 1-.4 1 0 1 .4 1 2 1 3.6 1 2 1 1 1-1.4 1-.5 1-1.3 1-2 1-8.5 1-2 1-.4 1 0 1 .4 1 1.9 1 0 1 .4 1 .5 1-.4 1 0 1 0 1-.5 1 0 1 .5 1 .5 1 0 1 .4 1-5.1 1-2 1-.5 1 0 1 .5 1 2 1 7.1 1 1.1 1-2 1-.5 1 0 1-4.4 1-2 1-.4 1 0 1 .4 1 2 1 7.2 1-.5 1-2 1-.4 1-.2 1 0 1 .5 1 2 1 1 1-4.1 1-2 1-.5 1 0 1-.4 1-2 1-.4 1 0 1 .4 1 2 1 4.4 1-.5 1 0 1 .5 1 2 1-1.9 1-.5 1 0 1-8 1-2 1-.4 1 0 1 .4 1 2 1 10.6 1-4.4 1-2 1-.5 1 0 1 .5 1 2 1 .8 1-2 1-.4 1 0 1-.2 1 0 1 .4 1 2 1 1.5 1 0 1 .5 1-1 1-2 1-.5 1 0 1 .5 1 .1 1 0 1 .5 1-.1 1-.5 1 0 1 .5 1-1.3 1-7.5 1-2 1-.4 1 0 1 .4 1 2 1 5 1-1.3 1-.4 1 0 1 .4 1 2 1 .1 1-.4 1 0 1 .4 1 2 1 .1 1-4 1-2 1-.5 1 0 1-1.5 1-2 1-.4 1 0 1 .4 1 2 1 1.3 1 0 1 .4 1-1.6 1-2 1-.4 1 0 1-.4 1 0 1 .4 1 2 1 1.8 1 .5 1 2 1 .5 1-.5 1 0 1 .5 1-4.8 1-2 1-.4 1 0 1 .4 1-.4 1-.4 1 0 1 .4 1 1.7 1 .4 1 2 1 .6 1-.4 1 0 1 .4 1 2 1 1.6 1-.5 1-1.4 1-.4 1-4.3 1-2 1-.4 1 0 1 .4 1 1.8 1 .5 1 .1 1 0 1-1.6 1-2 1-.4 1 0 1 .1 1 0 1 .5 1 2 1-.4 1-.4 1 0 1 .4 1 2 1 4.3 1 0 1-10.6 1-2 1-.5 1 0 1 .5 1 2 1 4.5 1-2 1-2 1-.4 1 0 1 .4 1 .4 1-2 1-.5 1 0 1 .5 1 2 1 6.2 1 1.4 1-4.8 1-2 1-.4 1-1.1 1-.4 1 0 1 .4 1 2 1-3.7 1-2 1-.5 1 0 1 .5 1 2 1 3.8 1 0 1 .5 1 1.1 1-.4 1 0 1-.2 1-4.2 1-2 1-.5 1 0 1 .5 1 1.2 1-10.2 1-2 1-.4 1 0 1 .4 1 2 1 11.7 1-.8 1-.5 1 0 1-.5 1 0 1 .5 1 1.4 1-6.6 1-2 1-.4 1 0 1 .4 1 2 1 .4 1-2 1-.4 1 0 1 .4 1 2 1 5.4 1 .5 1-4.5 1-2 1-.4 1 0 1 .4 1-.1 1-.5 1 0 1 .5 1-1.7 1-2 1-4.4 1-2 1-.5 1 0 1 .5 1 2 1 3.1 1-.3 1-2 1-.5 1 0 1 .5 1 2 1 7.9 1 .4 1 2 1-6.6 1-2 1-.5 1 0 1 .5 1 2 1 1 1-11.3 1-2 1-.4 1 0 1 .4 1 2 1 6.7 1-2 1-4.9 1-2 1-.4 1 0 1 .4 1 2 1 2.6 1 0 1 .4 1 2 1-.1 1-2 1-.5 1 0 1 .5 1 2 1 2.4 1 1.4 1 1.1 1-1.7 1-.5 1-3.3 1-2 1-.5 1 0 1 .5 1 2 1 4.8 1 1.8 1-6.7 1-2 1-.4 1 0 1 .4 1 0 1-.5 1-4.7 1-2 1-.5 1 0 1 .5 1 2 1 11.2 1-1.9 1-.4 1 0 1 .4 1-4 1-2 1-.5 1 0 1 .5 1 2 1 3.5 1-3.7 1-2 1-.4 1 0 1 .4 1 2 1 9 1-1.6 1-.4 1 0 1-3 1-2 1-.5 1 0 1 .5 1 2 1 .4 1-7.7 1-2 1-.5 1 0 1 .5 1 2 1 3.2 1-2 1-.4 1 0 1 0 1-1.3 1-5.9 1-2 1-.4 1 0 1 .4 1 2 1 2.9 1-2 1-2.1 1-2 1-.4 1 0 1 .4 1 2 1 5.7 1-.5 1 0 1-1.8 1-2 1-.4 1 0 1 .4 1 1.5 1 0 1 .5 1 .5 1-3.8 1-2 1-.4 1 0 1 .4 1-2.1 1-2 1-.4 1 0 1 .4 1 2 1-.4 1 0 1 .5 1 1.2 1-.4 1 0 1-.1 1-.5 1 0 1 .5 1 2 1 1.7 1 .5 1 0 1 0 1-7.3 1-2 1-.4 1 0 1 .4 1 2 1 4.6 1 0 1-3.7 1-2 1-.4 1-7.3 1-2 1-.4 1 0 1 .4 1 2 1-3.1 1-2 1-.5 1 0 1 .5 1-2 1-2 1-.4 1 0 1 .4 1 2 1 13.9 1-.4 1 0 1 .4 1 2 1 .4 1 0 1 .5 1 1.7 1-13 1-2 1-.5 1 0 1 .5 1-2 1-2 1-.4 1 0 1 .4 1 2 1 6.5 1 2 1-2 1-.4 1 0 1 .4 1 2 1 1.5 1 2 1 3.3 1-2 1-7.4 1-2 1-.5 1 0 1 .5 1 2 1 .8 1 0 1 .4 1-1.3 1-2 1-.5 1-8.2 1-2 1-.5 1-2.9 1-2 1-.5 1 0 1 .5 1 2 1 13.1 1-6 1-2 1-.4 1 0 1 .4 1 2 1 1.8 1 2 1 2.4 1-.9 1-.4 1 0 1 .3 1-2 1-.4 1 0 1 .4 1 2 1 .5 1 .5 1-1.6 1-.5 1-5.4 1-2 1-.4 1 0 1 .4 1 1.2 1 .4 1-1.6 1-.4 1 0 1 .4 1-.3 1 0 1-.8 1-8.3 1-2 1-.4 1 0 1 .4 1-1.3 1-.4 1 0 1 .4 1 2 1 11.4 1-.7 1-.5 1 0 1 .5 1 2 1 1 1-2 1-.4 1-1 1-.4 1-1.2 1-.5 1 0 1-1.8 1-2 1-.5 1 0 1 .5 1 2 1 1.8 1-2 1-.4 1 0 1 0 1-2 1-8.1 1-2 1-.5 1 0 1 .5 1 2 1 2.4 1 3.6 1 13.4 1 0 1-2.5 1-2 1-.9 1-2 1-.4 1 0 1 .4 1-1.9 1-2 1-.5 1-.8 1-.5 1 0 1 .5 1 2 1 12.3 1-5 1-2 1-1.9 1-.4 1 0 1 .4 1 2 1 2.7 1-7.7 1-2 1-.4 1-1.6 1-.4 1 0 1 .4 1-11.5 1-2 1-.4 1 0 1 .4 1 2 1 20.4 1-2.6 1-2 1-.5 1 0 1 .5 1 2 1 .1 1 .4 1 1.7 1-7.8 1-4.4 1-2 1-.8 1-.4 1 0 1 .4 1 2 1 4.6 1-.4 1 0 1 .4 1 2 1 8.3 1-2 1-17.1 1-2 1-.4 1 0 1 .4 1 2 1 12.5 1 0 1-1.9 1-.5 1 0 1 .5 1 .9 1 0 1 .4 1 2 1 .4 1 0 1 .5 1 2 1 3.3 1-4 1-3.3 1-2.2 1-2 1-1.4 1-.5 1 0 1 .3 1-2 1-.5 1 0 1 .5 1-1.8 1-6.3 1-2 1-.4 1 0 1 .4 1 2 1 6.4 1 .4 1 2 1-16.3 1-2 1-.5 1 0 1 .5 1 2 1 4.9 1-.4 1 0 1 .4 1 2 1 2.1 1 0 1 .4 1 2 1-17.1 1-2 1-.5 1 0 1 .5 1 2 1 26.9 1-14.2 1-2 1-.5 1 0 1 .5 1 2 1 3.6 1 6.7 1 4.8 1-.4 1 0 1-.4 1-2 1-6 1-2 1-.9 1-.4 1 0 1 .4 1 2 1-1.9 1-.5 1 0 1 .5 1 2 1 1.1 1-.5 1 0 1 .5 1 .7 1 .5 1-2 1-.5 1 0 1 .5 1 2 1-2.5 1-2 1-.5 1 0 1-.4 1 0 1 .4 1 1.1 1-2 1-.4 1 0 1 .4 1 1 1 0 1 .5 1 2 1 3.3 1 .5 1 1.3 1 0 1 .4 1-.3 1-.5 1 0 1 .5 1-5.8 1-2.1 1-2 1-.9 1-.4 1 0 1 .4 1 2 1 12.2 1 0 1-1.1 1-13.7 1-2 1-.4 1 0 1 .4 1 2 1 12.9 1 1.7 1-.5 1-.8 1-.4 1-7 1-2 1-.5 1 0 1 .5 1-.9 1-.4 1 0 1 .4 1 0 1 .4 1 .6 1 0 1 .4 1 1.7 1 0 1-2.5 1-2 1-.4 1 0 1 .4 1-5.2 1-2 1-.4 1 0 1 .4 1 2 1 5.9 1 9.5 1 .5 1 .1 1 0 1 .4 1 2 1 .3 1-.7 1-13.6 1-2 1-.4 1 0 1 .4 1 2 1 6.9 1-2 1-.6 1-2 1-.5 1 0 1 .5 1 2 1 6.6 1 .1 1-2 1-.4 1 0 1 .4 1 2 1 6.8 1-.5 1 0 1 .2 1-.4 1-1.1 1-.4 1-6.6 1-2 1-.4 1 0 1 .4 1 2 1 7 1-3.3 1-2 1-.4 1-3.3 1-2 1-.4 1 0 1 .4 1 2 1 6.4 1 0 1-1.1 1-1.2 1-.5 1 0 1 .5 1 2 1 3 1 0 1 .4 1 2 1-9.8 1-2 1-.4 1 0 1 .4 1 2 1 5.7 1 0 1 .4 1 .7 1-2 1-.5 1 0 1-1.9 1-.5 1 0 1-1.5 1-.4 1 0 1 .4 1 .5 1 2 1 1.5 1 2 1-10.9 1-2 1-.5 1 0 1 .5 1 2 1 2.7 1 0 1 .5 1 2 1 6.9 1 2 1 5.2 1-8.2 1-2 1-.5 1 0 1 .5 1 2 1 0 1-2 1-.5 1 0 1 .5 1-.3 1-2 1-.4 1 0 1 .4 1-1.8 1-.4 1 0 1 .4 1 1.2 1 2 1 8.6 1-.4 1 0 1-13.4 1-2 1-4.5 1-2 1-.7 1-.4 1 0 1 .4 1 2 1 12.3 1-1 1-10.3 1-2 1-.5 1 0 1-1.3 1-.4 1 0 1 .4 1 2 1 14.2 1 .5 1 2 1 .2 1-2 1-.4 1-9.3 1-2 1-.4 1 0 1 .4 1 2 1 6.6 1-1.7 1-1.3 1-.5 1 0 1 .5 1 2 1 3.5 1-.4 1 0 1 .4 1 2 1 3.1 1 0 1 .4 1-.2 1-.5 1-4.9 1-2 1-.4 1 0 1-1.3 1-2 1-.5 1 0 1 .5 1 2 1 4.1 1-.5 1-1.9 1-.5 1 0 1 .5 1 2 1-3.2 1-2 1-.4 1 0 1 .4 1 2 1 1.8 1 2 1 .9 1 .4 1-.5 1-2 1-.5 1 0 1 .5 1 2 1 1.8 1-1.4 1-.5 1 0 1 .5 1 .2 1 0 1 .5 1 2 1 1.9 1 0 1 .4 1-14.9 1-2 1-.5 1 0 1 .5 1 2 1 15.5 1-1.9 1-.5 1 0 1-13.2 1-2 1-.5 1 0 1 .5 1 2 1 4.3 1 0 1 .4 1 1.5 1-2 1-.5 1 0 1 .5 1 2 1 3.6 1-1.9 1-.5 1-.4 1-2 1-.4 1 0 1 .4 1 .7 1 .4 1 2 1 7.1 1 .5 1-.7 1-.5 1 0 1 .5 1 2 1 .6 1-.1 1-.9 1-2 1-.5 1-.3 1-2 1-.5 1 0 1 .5 1 2 1 5.9 1-.4 1-5.5 1-2 1-.5 1 0 1 .5 1 .9 1 0 1 .5 1 .6 1 0 1 .5 1 2 1 3.8 1-1 1-12.1 1-2 1-.4 1 0 1 .4 1 2 1 10.7 1 2 1 3.3 1 2.8 1 2L2186.5 664.2l-1 6.7-1 2-1 .4-1 .5-1 .4-1 0-1-.4-1 1.5-1 .4-1 0-1-.2-1-.4-1 1.4-1 2-1 .4-1 0-1-.4-1-2-1-2.7-1 .5-1 0-1-.5-1-.6-1-2-1 .3-1 0-1-.3-1 .5-1 2.6-1 2-1 .4-1 0-1-.4-1-2-1-2.9-1-4.2-1 1.7-1 2-1 .4-1 .5-1 .5-1 0-1-.4-1 3.4-1 2-1 .4-1 0-1-.4-1-1.5-1 .9-1 .5-1 0-1-.5-1-.4-1 2-1 .5-1 0-1-.5-1-2-1-3-1 2-1 .5-1 0-1 9.2-1 2-1 .5-1 0-1-.5-1-2-1-8.3-1 2-1 .4-1 0-1-.4-1-2-1-2.8-1-2-1 1.3-1 2-1 .5-1 0-1-.5-1 6.5-1 2-1 .5-1 0-1-.5-1-2-1-17.2-1 .8-1 2-1 4.8-1 2.3-1 2-1 .4-1 0-1 .4-1 0-1-.5-1-2-1-5.7-1 0-1 8.4-1 2-1 .5-1 0-1-.5-1-2-1-7.6-1 15.5-1 2-1 .4-1 0-1-.4-1-2-1-9.6-1 2-1 .4-1 .2-1 2.5-1 2-1 .4-1 0-1-.4-1-2-1-7.4-1-.4-1-2-1 1.7-1 .4-1 0-1-.4-1 1.5-1 2-1 .5-1 0-1-.5-1-2-1 5.3-1 2-1 .4-1 0-1-.4-1 1.9-1 2-1 .5-1 0-1-.5-1-2-1-.9-1-.5-1-2-1-5.5-1 2-1 .4-1 0-1 6.8-1 2-1 .4-1 0-1-.4-1-2-1-6.3-1-.5-1-2-1-2.8-1 2-1 .4-1 0-1-.4-1-2-1 4.3-1 2-1 4.5-1 2-1 .4-1 0-1-.4-1-2-1-4.8-1-2.7-1-.4-1-2-1-8.5-1-.3-1-.4-1-.9-1 5-1 2-1 24.3-1 2-1 .5-1 0-1-.5-1-2-1-26.8-1 2-1 .5-1 0-1-.5-1-.4-1 0-1-.3-1 .5-1 0-1-.5-1-.5-1 0-1-.5-1-2-1-3-1 .2-1 1.1-1 15.5-1 2-1 .5-1 0-1-.5-1-2-1-10.4-1 2.8-1 2-1 .5-1 0-1-.5-1-2-1-6.4-1 .4-1 0-1-.4-1-.5-1 0-1-.4-1-2-1-2.1-1 7.5-1 2-1 .4-1 2.2-1 2-1 .4-1 0-1-.4-1-2-1-2.4-1 6.1-1 2-1 .4-1 0-1-.4-1-2-1-8.1-1 1.1-1 2-1 1.1-1 2-1 .5-1 0-1-.5-1-2-1 .1-1 .4-1 0-1-.4-1-1-1-1-1 .5-1 0-1-.3-1 5.7-1 2-1 .5-1 0-1-.5-1-2-1-12.8-1 4.4-1 2-1 12.6-1 2-1 .4-1 0-1-.4-1-2-1-8.9-1 .4-1 0-1-.4-1-1.8-1 2-1 .4-1 0-1-.4-1-2-1 1-1 2-1 .4-1 0-1-.4-1 0-1 .5-1 0-1-.5-1-2-1-1.9-1-2-1-6.4-1 2-1 .4-1 0-1-.4-1-1.5-1 4.5-1 2-1 .5-1 0-1-.5-1-2-1-11.4-1 .4-1 0-1-.4-1 0-1 6.9-1 2-1 .4-1 0-1-.4-1-2-1-2.8-1-.5-1 2.6-1 2-1 .4-1 0-1-.4-1-2-1-2.9-1-.5-1-2-1 4.4-1 5.5-1 2-1 .4-1 0-1 .4-1 2-1 .4-1 0-1-.4-1-2-1-4.6-1-.4-1-.4-1 0-1-.5-1-2-1 7.6-1 2-1 .5-1 0-1-.5-1-1.4-1-.5-1-1.4-1-.5-1-.7-1-.4-1-2-1-1.2-1 1.9-1 2-1 .5-1 0-1 2-1 2-1 .5-1 0-1-.5-1-2-1-6-1-2-1-.1-1 .4-1 0-1-.4-1-2-1 3.4-1 6-1 2-1 .4-1 0-1-.4-1-.3-1 2-1 .4-1 2.3-1 2-1 .5-1 0-1-.5-1-2-1-21.1-1-.5-1 .3-1 .5-1 2.1-1 2-1 .5-1 0-1-.5-1 6.9-1 2-1 .5-1 0-1-.5-1-2-1-.1-1 .5-1 0-1-.4-1 2-1 .4-1 0-1-.4-1 5-1 2-1 .5-1 0-1-.5-1-2-1-6.6-1-4.4-1 0-1-.4-1-2-1-3.5-1-2-1 .1-1 .5-1 0-1-.1-1 .5-1 8.9-1 2-1 1.8-1 .4-1 0-1-.4-1-2-1 .3-1 .4-1 0-1-.4-1-1.9-1 .6-1 2-1 .5-1 11.1-1 2-1 .5-1 0-1-.5-1-2-1 .2-1 0-1-.5-1-2-1-9-1-.3-1 .5-1 0-1 2.6-1 2-1 .4-1 0-1-.4-1-.1-1 2-1 .4-1 0-1-.4-1-2-1-4.2-1 0-1 13-1 2-1 .4-1 0-1-.4-1-2-1-1.5-1 0-1-.4-1-2-1-9-1 9.8-1 2-1 .5-1 0-1-.5-1-2-1-7.9-1 1.9-1 .5-1 0-1-.5-1-2-1-.7-1-.5-1 13.9-1 2-1 .4-1 0-1-.4-1-2-1-15.2-1 2-1 .5-1 0-1-.5-1 7-1 2-1 .5-1 0-1-.5-1-2-1-12.5-1 6.2-1 2-1 .5-1 0-1-.5-1-2-1-2.1-1 0-1-.4-1 1.2-1 2-1 2-1 .5-1 0-1-.5-1-2-1-2.7-1-4-1 9-1 2-1 .4-1 0-1 .8-1 .5-1 0-1-.5-1-2-1-2.5-1 2-1 .5-1 1.9-1 2-1 .4-1 0-1-.4-1-2-1-.7-1 0-1 1.4-1 2-1 1.7-1 2-1 .5-1 0-1 .7-1 2-1 .4-1 4.7-1 2-1 .4-1 0-1-.4-1-2-1-15.6-1 5-1 2-1 .4-1 0-1-.4-1-2-1 2.6-1 2-1 .5-1 0-1-.5-1-2-1-3.1-1 .7-1 2.5-1 2-1 .4-1 0-1-.4-1 3.4-1 2-1 .4-1 0-1-.4-1-2-1-7.1-1-.2-1 .5-1 19.5-1 2-1 .4-1 0-1-.4-1-2-1-16-1 2-1 7.3-1 2-1 .5-1 0-1-.5-1-2-1-5.9-1 5.1-1 2-1 .5-1 0-1-.5-1-2-1-4.1-1-2.3-1-.4-1-2-1-2.8-1-2-1 12.9-1 2-1 .4-1 0-1-.4-1-2-1-1.8-1 2-1 .5-1 0-1 .9-1 2-1 .4-1 0-1 4.4-1 2-1 .4-1 0-1-.4-1-2-1-1.8-1-.5-1-1.1-1 0-1-.5-1-1.9-1 .5-1 0-1-.5-1-2-1 1.1-1 .5-1 0-1-.5-1-2-1 10.1-1 2-1 .5-1 0-1-.5-1-2-1-5.5-1-.5-1-1.6-1 .4-1 0-1 .5-1 .5-1 2-1 1.9-1 2-1 .4-1 1.9-1 .5-1 0-1 3.3-1 2-1 .4-1 0-1-.4-1-2-1-11.6-1 2-1 .4-1 0-1 5.9-1 2-1 .4-1 0-1-.4-1-2-1-7.2-1-2-1-.1-1 2-1 .5-1 0-1 5-1 2-1 .5-1 0-1-.5-1-.1-1 .4-1 0-1-.4-1-2-1-.1-1 2-1 .4-1 0-1-.4-1-.7-1 .4-1 0-1-.4-1 4.2-1 2-1 .4-1 0-1-.4-1-2-1 .6-1 .5-1 0-1-.5-1-.3-1 0-1-.4-1-.2-1 2-1 .5-1 0-1-.5-1-2-1 1.4-1 2-1 .4-1 0-1-.4-1-2-1-2.8-1 .4-1 0-1-.4-1 2.3-1 2-1 .5-1 6.5-1 2-1 .5-1 0-1-.5-1-2-1-3.4-1 .4-1 0-1-.4-1 .2-1 .4-1 0-1-.4-1-2-1-1.3-1 .4-1 0-1-.4-1-2-1-1.2-1 .4-1 0-1 3-1 2-1 .5-1 0-1-.5-1-1.7-1-.3-1 0-1 6.8-1 2-1 .5-1 8.1-1 2-1 .5-1 0-1-.5-1-2-1-10.8-1 0-1-.5-1-2-1-.9-1 0-1 8.7-1 2-1 .4-1 0-1-.4-1-1.8-1-2-1-5.7-1 2-1 1.9-1 2-1 .4-1 0-1-.4-1-2-1 0-1-.4-1-1.6-1 .7-1 .4-1 1.1-1 .4-1 0-1-.4-1-2-1 4.1-1 2-1 .4-1 0-1-.4-1-2-1-5.9-1 9.9-1 2-1 .4-1 0-1-.4-1-2-1-.1-1 .4-1 0-1-.4-1-2-1-1.7-1-2-1-1.6-1 0-1-.4-1-.3-1 2-1 .4-1 7.2-1 2-1 .4-1 0-1-.4-1-2-1-7.4-1 0-1-.4-1 1.8-1 2-1 .4-1 0-1-.4-1 2.2-1 2-1 .4-1 0-1-.4-1-2-1-1.5-1 .7-1 .4-1 0-1-.4-1 3.8-1 2-1 .4-1 .4-1 .4-1 0-1-.4-1-2-1-1.7-1 0-1-.4-1 8.2-1 2-1 .5-1 0-1-.5-1-2-1-10.2-1-2-1-1.9-1 0-1-.2-1 2-1 .5-1 .3-1 5.9-1 2-1 .4-1 0-1-.4-1-2-1 1.4-1 2-1 .4-1 .1-1 .4-1 0-1-.3-1-.5-1-2-1-3.4-1-.4-1 4.2-1 2-1 .5-1 0-1-.5-1-1.8-1 0-1-.5-1-1.5-1 12.4-1 2-1 .4-1 0-1-.4-1-2-1-11.6-1 0-1-.5-1-.2-1-.4-1 .5-1 0-1-.5-1 2-1 2-1 .5-1 0-1-.5-1-1.9-1-2-1 .5-1 0-1 1.4-1 .4-1 0-1-.4-1 1.5-1 .4-1 0-1-.2-1 2-1 .5-1 0-1-.5-1-.5-1 .4-1 0-1-.4-1-2-1 2.9-1 2-1 .4-1 0-1-.4-1-2-1-3.4-1-2-1-.1-1 6.7-1 2-1 .4-1 0-1-.4-1-2-1-6.5-1 2.1-1 2-1 .4-1 0-1-.4-1 0-1 .5-1 .4-1 0-1-.5-1-2-1-2-1 2.8-1 2-1 .4-1 1.3-1 .5-1 0-1-.5-1 .8-1 .4-1 0-1-.4-1-1.2-1 .5-1 1.1-1 .4-1 0-1 .8-1 .4-1 0-1-.4-1-2-1-2.1-1 1.8-1 2-1 .5-1 0-1-.5-1-2-1-4.2-1 0-1-.5-1 .6-1 2-1 .4-1 0-1-.4-1-1.7-1 9.2-1 2-1 .4-1 0-1 .4-1 0-1-.4-1-2-1-5.1-1-.5-1-.8-1 0-1 6.5-1 2-1 .5-1 0-1-.5-1-2-1-6.6-1 1-1 .5-1 1.8-1 .4-1 8.4-1 2-1 .5-1 0-1-.5-1-2-1-10.1-1 0-1-.5-1 .7-1 2-1 6-1 2-1 .4-1 0-1-.4-1-2-1-6.7-1 .4-1 .4-1 .5-1 0-1 4.7-1 2-1 .5-1 0-1-.5-1-2-1-1.4-1 .6-1 2-1 .5-1 0-1-.5-1-2-1-1.8-1-.6-1 5.1-1 2-1 .5-1 0-1-.5-1-2-1-8.5-1-.3-1 2-1 .4-1 0-1-.4-1-2-1 1.6-1 .5-1 7.6-1 2-1 .5-1 0-1-.5-1-2-1-9.2-1 2.2-1 2-1 .4-1 0-1-.4-1 2.8-1 2-1 .4-1 0-1-.4-1-2-1-1.7-1 0-1-.4-1-2-1-.2-1 0-1-.4-1 2-1 2-1 .5-1 1-1 2-1 .4-1 0-1 8.2-1 2-1 .5-1 0-1-.5-1-2-1-6.1-1 0-1-.5-1-.1-1 .5-1 0-1-.5-1-2-1-5.8-1 .4-1 0-1 1.3-1 .5-1 0-1-.5-1-.7-1 2-1 .5-1 .8-1 .5-1 0-1 .1-1 .4-1 0-1 3.5-1 2-1 .4-1 0-1-.4-1-1.2-1 .8-1 .5-1 0-1-.5-1-1.9-1-.5-1 6.6-1 2-1 .4-1 0-1-.4-1-2-1-10.5-1-2-1-.6-1 0-1-.4-1-.5-1 0-1 .3-1 2-1 2-1 .4-1 0-1-.4-1-.4-1 .5-1 0-1-.5-1-.1-1 0-1 3.6-1 2-1 .5-1 0-1-.5-1-2-1-1.3-1-.4-1-1.2-1 5.1-1 2-1 .5-1 0-1-.5-1-1.7-1-2-1-4.3-1 .5-1 0-1-.5-1-2-1 5.5-1 2-1 .5-1 0-1-.5-1-2-1 .7-1 2-1 .4-1 0-1-.4-1-1.1-1-.4-1-2-1-1.7-1-1.4-1 1.7-1 2-1 17-1 2-1 .4-1 0-1-.4-1-2-1-17.9-1 .4-1 0-1-.4-1-1.8-1-2-1-1.4-1-2-1 1.6-1 .4-1 0-1 2.8-1 2-1 .4-1 0-1-.4-1 1.6-1 2-1 .5-1 0-1-.5-1-2-1-4.1-1 0-1 1-1 .5-1 8.3-1 2-1 .4-1 0-1-.4-1-2-1-10.5-1 .5-1 1.2-1 2-1 .5-1 0-1-.5-1-.6-1 .5-1 0-1 .2-1 0-1-.4-1 1-1 2-1 .4-1 0-1-.4-1-2-1-5.5-1 0-1 4.2-1 2-1 .4-1 0-1-.4-1-2-1-10-1 .4-1 10.6-1 2-1 .5-1 0-1-.5-1-2-1-1.3-1 0-1-.4-1-2-1-1.7-1 2.9-1 2-1 .4-1 0-1-.4-1-2-1-4.1-1-.5-1-1.9-1 1.1-1 .4-1 0-1 1.8-1 6.6-1 2-1 .5-1 0-1-.5-1-2-1-6.8-1-.5-1 .8-1 2-1 .4-1 0-1-.4-1-2-1 2-1 .4-1 0-1 3-1 2-1 .4-1 0-1-.4-1-1.6-1-2-1-.2-1 0-1-.4-1 2.2-1 2-1 .4-1 0-1-.4-1-2-1-.3-1-.4-1-2-1-2.2-1 0-1-.4-1-2-1-1.9-1 9.6-1 2-1 .4-1 0-1-.4-1-1.4-1 .5-1 0-1-.5-1-2-1-8.7-1 0-1-.4-1 4.3-1 2-1 .4-1 0-1-.4-1-2-1-1-1-.5-1-2-1-3.4-1 5.5-1 2-1 .4-1 0-1 .9-1 .4-1 0-1-.4-1-.2-1 0-1-.4-1 2.1-1 2-1 .4-1 0-1-.4-1-2-1 .2-1 0-1-.4-1-2-1-.7-1 2.2-1 2-1 .4-1 0-1-.4-1-.8-1 .4-1 0-1-.4-1-2-1-.6-1-.3-1 5.2-1 2-1 .5-1 0-1-.5-1-2-1-.7-1 .7-1 .5-1 0-1-.5-1-2-1-1-1 0-1-.4-1 .4-1 0-1 .3-1 2-1 .5-1 0-1-.5-1-2-1 2.4-1 2-1 .5-1 0-1-.5-1-2-1-3.3-1-.5-1 4.6-1 2-1 .5-1 0-1-.5-1-2-1-5.9-1 4.7-1 2-1 .5-1 6.6-1 2-1 .5-1 0-1-.5-1-2-1-6-1 0-1-.4-1-2-1-3-1 2-1 .4-1 0-1-.4-1-.9-1 0-1 0-1 2-1 .4-1 0-1-.4-1-2-1 0-1 4.1-1 2-1 7-1 2-1 .5-1 0-1-.5-1-2-1-6.6-1-.5-1-2-1 .1-1 4-1 2-1 .4-1 0-1-.4-1-2-1-3.3-1 2.6-1 2-1 .5-1 0-1-.5-1-2-1-1-1 0-1-.4-1-1.1-1-2-1 2.8-1 2-1 .5-1 3.2-1 2-1 .4-1 0-1-.4-1 0-1-.4-1-2-1-6.7-1 .5-1 0-1-.5-1-1-1 1.8-1 .4-1 0-1-.4-1-1.8-1 2.7-1 2-1 1-1 .4-1 0-1-.4-1-2-1-6-1 .4-1 .4-1 .4-1 0-1 6.4-1 2-1 .5-1 0-1-.5-1-2-1-1.7-1 .5-1 .4-1 2-1 .4-1 0-1-.4-1-2-1-1-1-.2-1-.3-1-.4-1-2-1-2.9-1 2-1 1.9-1 .4-1 0-1 2.7-1 2-1 .5-1 0-1-.5-1-2-1-2-1 0-1-.5-1-1.4-1 .8-1 .4-1 0-1-.4-1 .1-1 0-1-.5-1-.2-1 2-1 .5-1 0-1-.5-1-.8-1 .4-1 0-1-.4-1 0-1 .5-1 0-1-.5-1-1.8-1 2-1 .4-1 0-1-.4-1-2-1-1.3-1-.1-1 2-1 .5-1 .4-1 .5-1 0-1-.5-1-.2-1 .5-1 0-1-.5-1 10.9-1 2-1 .5-1 0-1-.5-1-2-1-5.2-1 .5-1 0-1-.5-1-2-1 .4-1 .4-1 0-1-.1-1 0-1-.4-1-.7-1-.5-1-2-1-2-1 9-1 2-1 .5-1 0-1-.5-1-2-1-5.3-1 2-1 .4-1 0-1 1.8-1 .5-1 0-1-.5-1-2-1-.5-1-.4-1 .4-1 .5-1 0-1-.5-1-1.1-1 .5-1 0-1-.5-1-.8-1-.4-1-2-1-.2-1 2-1 .4-1 1.4-1 .5-1 0-1-.5-1-2-1-2.8-1 .5-1 3.6-1 2-1 .5-1 0-1-.5-1 .4-1 .4-1 0-1 3.4-1 2-1 .4-1 0-1-.4-1-2-1-.5-1-2-1-.3-1 0-1-.5-1-1.7-1-.4-1-2-1-1.6-1-1.2-1 4.3-1 2-1 .4-1 0-1-.4-1 4.2-1 2-1 .5-1 0-1-.5-1-2-1-.3-1-.1-1-.4-1 .3-1 0-1-.5-1-.5-1 .5-1 0-1-.5-1-2-1-2.2-1 .4-1 0-1 1.7-1 2-1 4.2-1 2-1 .4-1 0-1-.4-1-2-1-2.5-1-1-1 .5-1 1.3-1 2-1 .5-1 0-1-.5-1-2-1 .4-1 5.2-1 2.1-1 2-1 .4-1 0-1-.4-1-2-1-4.9-1-.5-1 .9-1 .4-1 0-1-.4-1-2-1-2.2-1 .5-1 1.6-1 2-1 .5-1 0-1-.5-1-.2-1-.5-1-2-1 8.9-1 2-1 .4-1 0-1-.4-1-2-1-6-1-1-1 .5-1 .4-1 0-1-.4-1-.7-1 1.5-1 .5-1 0-1 8.1-1 2-1 .5-1 0-1-.5-1-2-1-9.2-1 3.3-1 2-1 .4-1 0-1-.4-1-2-1-1.1-1 .8-1 2-1 .5-1 .3-1 .5-1 0-1-.5-1-2-1 .5-1 .4-1 0-1-.4-1 2-1 2-1 .4-1 0-1-.4-1-1.1-1 0-1-.4-1 0-1 .9-1 .5-1 0-1-.5-1-2-1-2.9-1 .5-1 0-1-.5-1 9.4-1 2-1 .4-1 0-1-.4-1-2-1-6.5-1 0-1-.5-1-.7-1-.3-1-.4-1-1.4-1 .5-1 0-1-.5-1 2-1 .4-1 1.3-1 .5-1 0-1 2.9-1 2-1 .5-1 0-1-.5-1-2-1-1.2-1 .2-1 0-1-.4-1 0-1-.4-1-1.7-1 2-1 .4-1 .5-1 2-1 .5-1 0-1-.5-1-2-1 1.1-1 .5-1 0-1 3.3-1 2-1 .5-1 0-1-.5-1-2-1-2.7-1 .4-1 0-1-.3-1 7.6-1 2-1 .5-1 0-1-.5-1-2-1-12.9-1 2-1 2.6-1 2-1 .4-1 0-1-.4-1-2-1 2.8-1 2-1 .5-1 0-1 0-1-.5-1-1.5-1 .7-1 2-1 .5-1 0-1-.5-1-2-1-1.9-1 .2-1 1.7-1 2-1 1.7-1 2-1 .4-1 0-1 .3-1 0-1-.4-1-2-1-1.5-1-2-1-4.5-1 2-1 2-1 .5-1 0-1-.5-1-.9-1-1.5-1 2-1 .5-1 0-1 1.2-1 2-1 .4-1 0-1-.4-1 .2-1 .4-1 0-1 1.5-1 2-1 .4-1 0-1-.4-1-2-1-1.6-1 .7-1 .4-1 0-1-.4-1-2-1-3.5-1-1.8-1 2-1 8.9-1 2-1 .5-1 0-1-.5-1-2-1-3.8-1 1.5-1 2-1 .4-1 0-1-.4-1-2-1 3.8-1 2-1 .5-1 0-1-.5-1-2-1-6.9-1 .5-1 0-1-.5-1 1.3-1 .5-1 0-1 1.9-1 .5-1 0-1-.5-1 0-1 0-1-.4-1-2-1-1-1-2-1-.8-1 .8-1 2-1 .5-1 1.7-1 .5-1 0-1-.5-1-2-1-.2-1-.4-1 5-1 2-1 .5-1 0-1-.5-1-2-1 11.1-1 2-1 .4-1 0-1-.4-1-2-1-7.3-1 0-1-.4-1-2Z"/><path fill="#0072c6" d="M138.5 589.6l1-2 1-6 1-2 1-.4 1 0 1 .4 1-1.3 1-.5 1 0 1 .5 1 1.3 1-.5 1-1.5 1-.5 1 0 1 .5 1 2 1 5.2 1 2.3 1 1.4 1 0 1-1 1-2 1-.4 1 0 1 .4 1 2 1 .5 1-1.4 1-.5 1-.4 1-2 1-1.6 1-.5 1 0 1 .5 1 2 1 1.1 1 .1 1 .4 1 2 1 6 1-4.8 1-2 1-.5 1 0 1 .5 1 .1 1-2 1-.4 1 0 1 .4 1 2 1 4.5 1-10.9 1-2 1-.4 1 0 1 .4 1 2 1 10.6 1 .5 1 .2 1 0 1 .4 1-13.8 1-2 1-.4 1 0 1 .4 1 2 1 10.6 1-.5 1-9.9 1-2 1-.4 1 0 1 .4 1 2 1 9.9 1-.7 1-4.1 1-2 1-.5 1 0 1 .5 1 2 1 2.6 1 2 1 2.1 1-2 1-.5 1-1.1 1-.5 1 0 1-1.4 1-2 1-.5 1 0 1 .5 1 2 1 8.4 1-2 1-.5 1 0 1 0 1-2 1-.5 1-1.4 1-.5 1 0 1 .5 1 .5 1 .2 1-1.6 1-.4 1 0 1 .4 1-7.4 1-2 1-.5 1 0 1 .5 1 2 1 3.1 1-.5 1-.4 1 0 1 .5 1 1.8 1 0 1 .4 1 2 1-.4 1 0 1-1 1-2 1-.5 1 0 1 .5 1 2 1-1.1 1-3.6 1-2 1-.5 1 0 1 .5 1-9.8 1-2 1-.4 1 0 1 .4 1 2 1 4.9 1 .4 1-.8 1-2 1-.4 1 0 1 .4 1 .3 1-.5 1 0 1 .5 1 2 1 7.8 1-2 1-.5 1 0 1 .5 1 1.2 1-.3 1-2 1-.4 1 0 1 .4 1 .4 1 .5 1 1.9 1-8.2 1-2 1-.4 1 0 1 .4 1 2 1 6 1 .3 1 0 1 .4 1 2 1 4.1 1-11 1-2 1-.5 1 0 1 .5 1 2 1 4.8 1 .4 1 .3 1 .1 1-.5 1 0 1 .5 1 2 1-.4 1-.5 1 0 1 .5 1 2 1 .6 1-2.2 1-2 1-.4 1 0 1-.2 1-2 1-9.9 1-2 1-.5 1 0 1 .5 1 2 1 3.5 1-2 1-.4 1 0 1 .4 1 2 1 4.1 1 .9 1-2 1-2.1 1-2 1-.5 1 0 1 .5 1 2 1 6.4 1 0 1 .4 1-1.3 1-2 1-.5 1 0 1 .5 1-7 1-2 1-.4 1 0 1 .4 1 2 1 .3 1-2 1-.4 1 0 1 .4 1 2 1 6.1 1-.5 1 0 1 .5 1-1.8 1-.4 1 0 1 .4 1 2 1-4.4 1-2 1-.5 1 0 1 .5 1 .3 1 .4 1 2 1 4.9 1 2 1-.6 1-.4 1-15.2 1-2 1-.5 1 0 1 .5 1 2 1 13.3 1-2 1-1.4 1-2 1-.4 1 0 1 .4 1 2 1 2.7 1-1.5 1-2 1-.5 1 0 1-1.5 1-10.9 1-2 1-.5 1 0 1 .5 1 2 1 4.2 1-2 1-.4 1 0 1 .4 1 2 1 9 1 1.3 1 0 1-1.6 1-.4 1 0 1-1 1-.5 1 0 1 .5 1-1 1-2 1-.5 1 0 1 .5 1 1.5 1-2 1-.5 1 0 1 .5 1 2 1 11.5 1-4.2 1-2 1-9.1 1-2 1-.5 1 0 1 .5 1 2 1 10.9 1-.2 1-4.5 1-2 1-.4 1 0 1 .4 1-1.8 1-2 1-.4 1 0 1 .4 1 2 1 2.4 1 .7 1-2 1-2.8 1-2 1-.5 1 0 1 .5 1 2 1 3.6 1-.4 1 0 1 .4 1 2 1 1.7 1 0 1-.1 1-.8 1-.4 1-3.6 1-2 1-.5 1 0 1 .5 1 1.6 1-.5 1 0 1 .5 1 2 1 1.4 1 2 1-10.7 1-2 1-.5 1 0 1 .5 1 2 1 3.6 1 5.5 1 .5 1-1.1 1-6.6 1-2 1-.5 1 0 1 .5 1 .1 1 0 1 .4 1 2 1 2 1 3.9 1 2 1 3.3 1 0 1-14.7 1-2 1-.4 1 0 1 .4 1 1.4 1-.4 1 0 1 .4 1 2 1 7.4 1-.4 1 0 1 .4 1 1.4 1 0 1-.6 1-.5 1 0 1 .5 1-5.1 1-2 1-.4 1 0 1 .4 1 2 1 5.7 1-2 1-3.8 1-2 1-.4 1-15.7 1-2 1-.5 1 0 1 .5 1 2 1 24.8 1 1.7 1 2 1 1.5 1-.1 1-.4 1-9.7 1-2 1-.5 1 0 1 .5 1 1.3 1-2 1-1.5 1-.4 1 0 1 .4 1 2 1 1.1 1 0 1 .4 1 2 1 6.7 1 .9 1 0 1-2.1 1-2 1-.4 1-6.3 1-2 1-.5 1 0 1 .5 1 2 1 3.6 1-4.4 1-2 1-.5 1 0 1 .5 1 2 1 6.3 1-.5 1-.5 1 0 1-.1 1 0 1 .5 1 2 1 1.4 1 .4 1-2 1-.5 1 0 1 .5 1 1.1 1-2 1-.5 1-.4 1 0 1 .4 1 2 1 .3 1-7.5 1-2 1-.4 1 0 1 .4 1 2 1 2.9 1-2 1-.4 1 0 1 .4 1 2 1 2.9 1 .5 1-.4 1-4.4 1-2 1-.5 1 0 1 .5 1 2 1 11.3 1 0 1 .4 1-3.1 1-2 1-.5 1 0 1 .5 1-10.1 1-2 1-.4 1 0 1 .4 1 2 1-12.2 1-2 1-.4 1 0 1 .4 1 2 1 7 1 2 1 12.2 1 1.1 1-4.4 1-2 1-.4 1 0 1 .4 1 2 1-1.4 1-2 1-.5 1 0 1 .5 1 2 1 5.8 1-.4 1 0 1 .4 1 2 1-4.6 1-2 1-.4 1 0 1 .4 1 2 1-.4 1-2 1-.5 1 0 1 .5 1 2 1 0 1 .5 1 2 1 .5 1-4.7 1-2 1-.4 1 0 1 .4 1 2 1 6.9 1 1.2 1-.9 1-2 1-.5 1 0 1 .5 1 .6 1-2 1-.5 1-5.3 1-2 1-.4 1 0 1 .4 1 2 1 1 1-.5 1 0 1-.8 1-2 1-.5 1 0 1 .5 1 2 1 4.1 1-2 1-.4 1 0 1 .4 1 2 1 5.7 1-2.9 1-2 1-2 1-2 1-4.2 1-2 1-.5 1 0 1 .5 1 2 1-1.6 1-2 1-.4 1 0 1 .4 1 1.9 1-2 1-.4 1 0 1 .4 1 2 1 5.7 1-2 1-.5 1 0 1 .5 1 2 1-.1 1-.4 1 0 1 .4 1-3.2 1-2 1-.4 1 0 1 .4 1 2 1 1.8 1-2.6 1-2 1-.4 1 0 1 .4 1 2 1-2.6 1-2 1-.4 1 0 1 .4 1 1 1 2 1 5.5 1-.6 1-2 1-.5 1 0 1 .5 1-.6 1-2 1-.5 1 0 1 .1 1-2 1-.4 1 0 1 .4 1-1.3 1-2 1-1.4 1-2 1-.5 1 0 1 .5 1 2 1 3 1 0 1 .5 1 1.8 1-2 1-.4 1 0 1 .4 1 2 1 4.5 1 0 1-3.5 1-2 1-.5 1 0 1 .5 1 .7 1 0 1-1.4 1-2 1-.4 1 0 1 .4 1-1.1 1-2 1-.5 1 0 1 .5 1 2 1 8.3 1-10.6 1-2 1-.5 1 0 1 .5 1 2 1 10 1-.5 1-11.3 1-2 1-.5 1 0 1 .5 1 2 1 9.1 1-2 1-.4 1 0 1 .4 1 1.4 1-.4 1 0 1-3.7 1-2 1-.5 1 0 1 .5 1 .7 1 0 1 .5 1 2 1 1.9 1 0 1-3.3 1-2 1-.5 1 0 1 .5 1 .3 1-.5 1 0 1 .5 1 2 1 .7 1 0 1 .4 1 2 1 5.6 1 .5 1 2 1-.3 1-7.7 1-2 1-.5 1-1.6 1-2 1-.4 1 0 1 .4 1 2 1 5.2 1-4 1-2 1-.5 1 0 1 .5 1 2 1 5.1 1-2 1-.4 1 0 1 .2 1-.4 1 0 1 .4 1 1.1 1-.4 1 0 1-2.7 1-2 1-.4 1 0 1 .1 1-2 1-.5 1 0 1 .5 1 2 1-4 1-2 1-.4 1 0 1 .4 1 2 1-.1 1-2 1-.5 1 0 1 .5 1 2 1 6.1 1-.5 1 0 1 .5 1-8.4 1-2 1-.5 1 0 1 .5 1 2 1 10 1 0 1 .5 1 2 1-.5 1-1.6 1-2 1-.5 1 0 1 .5 1 2 1-2 1-6.6 1-2 1-.5 1 0 1 .5 1 2 1 8.9 1 2.7 1-.8 1-2 1-1 1-1 1-2 1-.4 1 0 1 .4 1 1.9 1 0 1 .5 1 .7 1-.5 1 0 1-.3 1-4.9 1-2 1-.4 1 0 1 .4 1 2 1-5.7 1-2 1-.5 1 0 1 .5 1 2 1 4.3 1 .5 1 .1 1 0 1 .5 1 .5 1 .7 1 2 1 1 1-4.3 1-2 1-.5 1 0 1 .5 1-7.4 1-2 1-.5 1 0 1 .5 1 2 1 15.4 1 0 1 .4 1-1.4 1-20.8 1-2 1-.4 1 0 1 .4 1 2 1 18.8 1 2 1-5.9 1-2 1-.4 1 0 1 .4 1 2 1 .8 1 0 1 .5 1 2 1 4 1-13.2 1-2 1-.4 1 0 1 .4 1 2 1 10.9 1-7.6 1-2 1-.5 1 0 1 .5 1 2 1 3.9 1-.5 1 0 1 .5 1 2 1 1.7 1 0 1 .5 1 2 1 .7 1-8.3 1-2 1-.4 1 0 1 .4 1 1.3 1 0 1 .5 1 1.9 1 .3 1-.4 1-2 1-.5 1 0 1-1.2 1-2 1-.4 1-1.2 1-2 1-.5 1 0 1 .5 1 2 1 8.1 1 2 1-1.2 1-6 1-2 1-.4 1 0 1 .4 1-.8 1-2 1-.4 1 0 1 .4 1 1.6 1 .5 1 2 1 5.6 1-2 1-.4 1 0 1 .4 1 2 1 2 1 1.2 1 .5 1-2.3 1-9.6 1-2 1-.4 1-6.2 1-2 1-.5 1 0 1 .3 1 .4 1 2 1 2.3 1 0 1 .5 1 2 1 6.2 1 .8 1-2 1-.4 1-.4 1-2 1-8.6 1-2 1-.4 1 0 1 .4 1 2 1 9 1 0 1-.6 1-.5 1 0 1 .5 1 1.2 1 0 1 .4 1 2 1-1 1-.5 1-2.4 1-2 1-1 1-.9 1-.5 1 0 1 .5 1 2 1 1.9 1-.4 1 0 1 .4 1 2 1-1.7 1-2 1-.4 1 0 1 .4 1 2 1 .7 1 1.6 1 0 1-5.5 1-2 1-4.5 1-2 1-.4 1 0 1 .4 1 2 1-3.9 1-2 1-.5 1 0 1 .5 1 2 1 .7 1 2 1-.4 1-1.3 1-.5 1 0 1 .5 1-.9 1-.4 1 0 1 .4 1 2 1-2.4 1-2 1-.4 1 0 1 .4 1 1.1 1-.5 1 0 1 .5 1 2 1 2.7 1 2 1 1.5 1 0 1 .5 1 2 1 .5 1-5.2 1-2 1-.4 1 0 1 .4 1 2 1 2.2 1 .3 1 .4 1 .5 1 2 1-7.7 1-2 1-.4 1 0 1 .4 1 2 1 3.7 1-13.4 1-2 1-.5 1 0 1 .5 1 2 1 3.3 1 .4 1 2 1-.1 1 0 1 .5 1 2 1 4.1 1-1.6 1-.4 1 0 1 .4 1 1.7 1-5.6 1-2 1-.5 1 0 1 .5 1 2 1 2.8 1 .5 1 1.5 1 2 1 .5 1-6.7 1-2 1-.5 1 0 1 .5 1-1.3 1-2 1-.4 1 0 1 .4 1 .1 1-.4 1 0 1 .4 1 2 1-8 1-2 1-.4 1 0 1 .4 1 2 1 12.9 1-1.7 1-11.7 1-2 1-.4 1 0 1 .4 1 .7 1 .5 1 2 1 2.8 1 .8 1 2 1 .1 1-3 1-2 1-2 1-.5 1 0 1 .5 1 2 1 3.1 1 .5 1 2 1-.4 1-2 1-6 1-2 1-.5 1 0 1 .5 1 2 1 4.9 1-.5 1-.5 1 0 1 .5 1 2 1-9.4 1-2 1-.4 1 0 1 .4 1 1.2 1-.9 1-.5 1 0 1 .5 1 2 1 2.3 1-.4 1 0 1 .4 1 .1 1-1.8 1-.4 1 0 1 .4 1-.8 1-2 1-.5 1-11.1 1-2 1-.4 1 0 1 .4 1 2 1 7.6 1-.5 1 0 1-1.7 1-.5 1 0 1 .5 1 2 1 2 1-.6 1-2 1-.4 1 0 1-.9 1-2 1-.5 1 0 1 .5 1 2 1 6.9 1-5 1-5.4 1-2 1-.4 1 0 1 .2 1-.4 1 0 1 .4 1-12.1 1-2 1-.4 1 0 1 .4 1 2 1-2.1 1-2 1-.4 1 0 1 .4 1 2 1 3.8 1-.5 1 0 1 .5 1 2 1 4.7 1 .4 1 2 1 1.4 1 .2 1-8.4 1-2 1-.5 1 0 1 .5 1 1.1 1 0 1 .4 1 2 1 .4 1 .4 1-1.7 1-2 1-.5 1 0 1 .5 1 .1 1 0 1 .4 1 2 1 1.8 1-5.8 1-2 1-.5 1 0 1 .5 1 2 1 2.1 1-1.6 1-.5 1-1.8 1-.5 1 0 1 .5 1 .7 1 0 1-2.3 1-2 1-.5 1 0 1 .5 1-1.9 1-2 1-.4 1 0 1 .4 1 2 1 2.2 1 4.1 1 2.8 1-.5 1 0 1 .5 1 .1 1 .5 1 .8 1-15.8 1-2 1-.5 1 0 1 .5 1 2 1 10.1 1 0 1-4.8 1-2 1-.5 1 0 1 .5 1 2 1 9.5 1-2 1-4.6 1-3.9 1-2 1-.4 1 0 1 .4 1 .2 1-.5 1-.6 1-4.7 1-2 1-.4 1 0 1 .4 1 2 1 4.6 1 .9 1-2 1-.5 1 0 1 .5 1 2 1-.2 1-.5 1-1.1 1-2 1-20.4 1-2 1-.4 1 0 1 .4 1 2 1 10.2 1 .4 1 2 1 4.1 1 .5 1-1.6 1-.5 1 0 1 .5 1 .7 1-6.6 1-2 1-.4 1 0 1 .4 1 2 1 .8 1 2 1 9.1 1 .9 1 .3 1-.4 1-18.6 1-2 1-.4 1 0 1 .4 1 .5 1-5.8 1-2 1-.5 1 0 1 .5 1 2 1 9.2 1-2 1-.4 1 0 1 .4 1 2 1-9.2 1-2 1-.5 1 0 1-.2 1-2 1-.4 1 0 1 .4 1 2 1 2.4 1 2 1 2.6 1-26.7 1-2 1-.4 1 0 1 .4 1 2 1 22.5 1-2 1-.5 1-9.6 1-2 1-.5 1 0 1 .5 1 2 1 14.9 1-2 1-.5 1 0 1-6 1-2 1-20.5 1-2 1-.4 1 0 1 .4 1 2 1 16.7 1 2 1 6.1 1 0 1 .4 1-4.8 1-2 1-.5 1 0 1 .5 1 2 1 7.9 1-2 1-.5 1 0 1-1.1 1-.9 1-2 1-.4 1 0 1 .4 1 2 1 4.5 1 3.5 1 0 1 .4 1 1.8 1-1.6 1-2 1-.4 1-10.9 1-2 1-.5 1 0 1 .5 1 2 1 2.2 1-12.1 1-2 1-.5 1 0 1 .5 1 2 1-1.8 1-2 1-.4 1 0 1 .4 1 2 1 16.5 1 .4 1-10.6 1-2 1-.5 1 0 1 .5 1 2 1 .1 1 0 1 .4 1-17.4 1-2 1-.4 1 0 1 .4 1 2 1 25 1 0 1 0 1-7.1 1-2 1-.5 1 0 1 .5 1 2 1 6.1 1 3.3 1-2 1-.5 1-19.8 1-2 1-.5 1 0 1 .5 1 2 1 14.6 1 0 1 .5 1 2 1 12.2 1 1.3 1-.3 1 0 1 .5 1-5 1-3.2 1-2 1-.4 1 0 1 .4 1 2 1-5.8 1-2 1-.5 1 0 1 .5 1-3.3 1-2 1-.4 1 0 1 .4 1 2 1 4.2 1-2 1-.5 1 0 1 .5 1 2 1 .5 1 0 1 .5 1 2 1 1.9 1 0 1-2.3 1-2 1-3 1-2 1-.4 1 0 1 .4 1 1.7 1 .4 1 2 1 2 1 1.3 1-56.3 1-2 1-.4 1 0 1 .4 1 2 1 57.9 1 .5 1-10.5 1-2 1-.4 1 0 1 .4 1 2 1 11.7 1-.1 1-2 1-.5 1 0 1 .5 1-.1 1 0 1-1.3 1-.4 1 0 1 .4 1-6.5 1-2 1-.5 1 0 1 .5 1 2 1 4.1 1 2 1 1.2 1 .4 1-.3 1-2 1-.4 1 0 1 .4 1 .2 1-2 1-.8 1-.5 1 0 1 .5 1-.4 1-.5 1 0 1 .5 1 2 1-2.2 1-2 1-.4 1 0 1 .4 1 2 1 4.3 1-2 1-.4 1 0 1 .4 1-7.4 1-2 1-.5 1 0 1 .5 1 2 1 8.4 1 2 1 4 1 .4 1 2 1-7.7 1-2 1-.4 1 0 1 .4 1 2 1 .3 1-.5 1 0 1 .5 1 2 1 8.5 1 .5 1-9.3 1-2 1-.5 1 0 1 .5 1 2 1 2.6 1-1.8 1-2 1-.4 1 0 1 .4 1 2 1 .7 1 0 1-.9 1-2 1-.4 1 0 1-.2 1 0 1 .5 1 2 1-2.1 1-2 1-.5 1 0 1 .5 1-1.4 1-2 1-.5 1 0 1 .5 1 2 1 2.1 1 .5 1 2 1 13.5 1-2 1-.5 1 0 1-3.7 1-2 1-.5 1 0 1 .1 1 0 1 .4 1 2 1 5 1-9.4 1-2 1-.4 1 0 1 .4 1 2 1 4.1 1 2 1 2 1-1.4 1-.5 1 0 1 .5 1 2 1-3.9 1-2 1-1.5 1-.5 1 0 1-1.4 1-.4 1 0 1 .4 1 .5 1 0 1-.3 1 0 1 .5 1 2 1 6.1 1 2.6 1-.5 1-5.3 1-2 1-.5 1 0 1 .5 1 2 1 6.5 1 .1 1 0 1 .4 1-3.3 1-6.5 1-2 1-.4 1 0 1 .4 1 1.9 1 .4 1 2 1 5.9 1-2 1-.4 1 0 1 .4 1 1.4 1-6.9 1-2 1-.4 1 0 1 .4 1 .3 1 0 1 .5 1 2 1 1.8 1-.4 1 0 1 .4 1 2 1 6.6 1 0 1 .5 1 2 1 .2 1-2 1-.5 1 0 1-1.6 1-.4 1 0 1 .4 1 2 1 2.5 1-1.4 1-.5 1-3.6 1-2 1-.4 1 0 1-.9 1-.4 1 0 1 .4 1 .8 1 2 1 1.3 1 1.5 1-8.4 1-2 1-.5 1 0 1 .5 1 2 1 11.4 1 0 1 .5 1-1.7 1-.5 1 0 1-.2 1-2 1-.5 1 0 1 .5 1 2 1 5.3 1-.3 1-.4 1-.1 1-.4 1 0 1 .4 1 1.6 1-3.6 1-2 1-.4 1 0 1 .4 1-4.3 1-2 1-.4 1 0 1 .4 1 2 1 2.7 1 0 1 .4 1 2 1 .3 1 .1 1 .4 1 .7 1-.5 1 0 1 .3 1 0 1 .5 1 2 1-1.4 1-.4 1 0 1 .4 1 2 1-1.7 1-.4 1 0 1 .4 1 2 1 1.6 1 .5 1 1.1 1-1.3 1-.5 1 0 1 .5 1 2 1-.3 1 0 1 .5 1 2 1 .8 1-6.2 1-2 1-.4 1 0 1 .4 1 2 1 4.6 1 0 1 .5 1 .9 1-2.1 1-2 1-.4 1 0 1 .4 1 2 1 4.3 1 .5 1-1.1 1-.4 1 0 1 .4 1-4.2 1-2 1-5.9 1-2 1-.5 1 0 1 .5 1 1 1 .4 1 2 1 10.1 1 2 1-2 1-2 1-.5 1 0 1 .5 1 2 1 4.9 1-.4 1 0 1-4 1-2 1-.4 1 0 1 .4 1-.1 1-.4 1 0 1 .4 1 2 1 2.4 1 2.6 1-2.6 1-2 1-1 1-4.1 1-2 1-.5 1 0 1 .5 1 2 1 3.2 1 0 1 .4 1 1.8 1-.5 1 0 1 .5 1 2 1-1.7 1-2 1-3.4 1-2 1-.5 1 0 1 .5 1-1.4 1-2 1-.5 1-1.8 1-2 1-.5 1 0 1 .5 1 2 1 7.2 1 0 1 .4 1-.8 1-.4 1 0 1 .4 1 2 1 4.1 1 2 1 1.4 1 0 1 .5 1 2 1 .5 1 0 1 .1 1 .4 1 .5 1 0 1-4.7 1-2 1-.5 1 0 1 .5 1 2 1 2.9 1 0 1 .5 1-5 1-2 1-.4 1 0 1 .4 1 2 1 7.1 1 0 1 .4 1 2L2186.5 498.3l-1 15.7-1 2-1 1.9-1 2-1 .5-1 0-1-.5-1-1.2-1 0-1-.4-1-2-1-1.1-1-1.4-1 1-1 .5-1 0-1-.5-1-2-1-5.2-1 1.4-1 .4-1 0-1-.4-1 .9-1 .4-1 0-1 2.6-1 2-1 .4-1 0-1 3.5-1 2-1 .5-1 0-1-.5-1-2-1-7.6-1-2-1 1.7-1 2-1 .4-1 0-1-.4-1-2-1 4.9-1 2-1 .5-1 0-1-.5-1-2-1-13.9-1-.7-1-.4-1 11.2-1 2-1 .4-1 0-1-.4-1-2-1-5.6-1 0-1 3.7-1 2-1 .5-1 0-1-.5-1-2-1-1.3-1-.5-1 3.9-1 2-1 .5-1 0-1-.5-1-.8-1 .4-1 0-1-.4-1-2-1-7.2-1 8.3-1 2-1 .4-1 0-1-.4-1-2-1-.3-1 0-1-.4-1-2-1-11.5-1 2-1 .4-1 1-1 .4-1 0-1-.4-1-1.7-1 2.7-1 2.9-1 2-1 .4-1 0-1-.4-1-2-1 2.1-1 2-1 .5-1 0-1-.5-1 4-1 2-1 .5-1 0-1-.5-1-2-1-12.4-1 0-1-.5-1-2-1 .4-1 .4-1 0-1-.4-1-.1-1-.4-1-.6-1 2-1 .5-1 0-1-.5-1-2-1-2.7-1 .5-1 6-1 2-1 .5-1 0-1-.5-1-2-1-1.2-1 2-1 .5-1 0-1-.5-1-2-1-10.5-1 .2-1 0-1-.5-1-1.8-1-.1-1 14.8-1 2-1 .4-1 0-1-.4-1-2-1-4.8-1 2-1 .5-1 0-1-.5-1-2-1-4.9-1 2.8-1 2-1 .4-1 0-1-.4-1 .7-1 2-1 .4-1 1.4-1 .5-1 0-1-.5-1-2-1-14.4-1-1.3-1-.5-1 3-1 2-1 .4-1 .4-1 2-1 16.3-1 2-1 .4-1 0-1-.4-1-2-1-16.9-1 .2-1 .5-1 0-1-.4-1-.4-1 .2-1 .1-1 .5-1 0-1-.5-1-2-1-8.1-1-.5-1 8-1 2-1 .5-1 7.4-1 2-1 .5-1 0-1-.5-1-1.8-1-2-1-3-1 0-1-.5-1-2-1 14.1-1 2-1 .5-1 0-1-.5-1-2-1-17.4-1-.6-1 .4-1 7.1-1 2-1 .4-1 0-1-.4-1-2-1-6.2-1-.5-1-2-1 3.5-1 2-1 .4-1 0-1-.4-1-2-1 1.1-1 .4-1 1.3-1 .5-1 .4-1 0-1-.4-1-2-1-7.1-1 2-1 .4-1 .1-1 2-1 .4-1 0-1-.4-1-2-1-1.6-1 0-1-.4-1-2-1 .5-1 .4-1 .4-1 .4-1 1-1 .4-1 .9-1 .4-1 0-1-.4-1-.3-1 2-1 .4-1 0-1-.4-1-.5-1 2-1 .4-1 0-1-.4-1-2-1-.7-1 0-1-.5-1-2-1-1.1-1 .5-1 0-1 3.1-1 2-1 .4-1 0-1-.4-1-.3-1-.4-1-2-1-4.1-1 1.8-1 2-1 .4-1 0-1-.4-1-2-1-5-1-2.4-1-2.2-1-.3-1 1-1 .5-1 1.1-1 5.4-1 2-1 .4-1 0-1-.4-1-2-1-3.1-1 0-1 1.5-1 .5-1 0-1-.5-1-.9-1 .5-1 0-1-.5-1-1.8-1 .4-1 0-1-.4-1-2-1-1.2-1-.5-1-1.2-1 .5-1 .4-1 0-1 4.9-1 2-1 .5-1 0-1-.5-1 3.5-1 2-1 .4-1 0-1-.4-1-2-1-6.3-1-.5-1-2-1-1.5-1 0-1-.5-1-.5-1-2-1-1-1 .5-1 0-1 5.7-1 2-1 .4-1 0-1-.4-1-2-1-3.3-1 .8-1 2-1 .4-1 0-1-.4-1-2-1 2-1 .5-1 0-1-.5-1-2-1-3.6-1-2-1-1.7-1-.4-1 0-1 .8-1 4.4-1 2-1 .5-1 0-1-.3-1 2-1 .4-1 0-1-.4-1-2-1-1.2-1-2-1-5.4-1-1-1 5.6-1 2-1 .4-1 0-1 4.7-1 2-1 .4-1 0-1-.4-1-2-1-2.2-1-2-1 1.9-1 2-1 .4-1 0-1 1-1 2-1 .4-1 0-1-.4-1-2-1-4.4-1 3.2-1 6.3-1 2-1 .5-1 0-1-.5-1-2-1-1.8-1 0-1-.5-1-2-1-13.1-1 0-1 5.2-1 2-1 .4-1 0-1-.4-1-.8-1 .4-1 0-1-.4-1-2-1 8.3-1 2-1 .4-1 0-1-.4-1-2-1-4.8-1 2.7-1 2-1 .4-1 0-1-.4-1-1-1 2-1 .5-1 0-1-.5-1-2-1-.4-1 0-1-.5-1-1.9-1 .4-1 0-1-.4-1 1.8-1 9.6-1 2-1 .5-1 0-1-.5-1-2-1-2-1 .5-1 0-1-.5-1-2-1-8.1-1 4-1 2-1 .5-1 0-1-.5-1-1.7-1 0-1-.5-1 4.9-1 2-1 1.7-1 .5-1 0-1-.5-1-1.4-1 .4-1 0-1-.4-1-2-1-9.6-1 .5-1 24-1 2-1 .4-1 0-1-.4-1-2-1-24.3-1-.4-1-2-1-4.3-1 2-1 .4-1 10.3-1 6.2-1 2-1 .4-1 0-1-.4-1-2-1 1.1-1 2-1 .4-1 0-1-.4-1-2-1-3-1-.5-1 1.3-1 2-1 .5-1 0-1-.5-1-2-1 10.2-1 2-1 .4-1 0-1-.4-1-2-1-5.3-1 0-1-.4-1-1.6-1 .5-1 0-1-.5-1-2-1-8.3-1 .8-1 .5-1 1.5-1 .5-1 0-1-.5-1-2-1-1.1-1-2-1 11.4-1 2-1 .5-1 0-1-.5-1-2-1-9.4-1 1-1 2-1 .4-1 0-1 1.5-1 1.1-1 2-1 .5-1 0-1-.5-1-2-1-.2-1-.4-1 7.4-1 2-1 .5-1 0-1-.5-1 6.8-1 2-1 .5-1 0-1-.5-1-2-1-5.2-1-2-1-8.3-1 10.8-1 2-1 .5-1 0-1-.5-1-2-1-5.2-1-1.3-1 11.1-1 2-1 .4-1 4.6-1 2-1 .5-1 0-1-.5-1-2-1-2.1-1-2-1-2.5-1 0-1-.5-1-.7-1-.5-1-2-1-4.6-1 7-1 2-1 .5-1 0-1 3.4-1 2-1 .4-1 0-1-.4-1-2-1-1.9-1 .4-1 0-1-.4-1-2-1-5.2-1 11.4-1 2-1 .5-1 0-1-.5-1-2-1 .9-1 2-1 .4-1 1.3-1 .4-1 1.2-1 .4-1 0-1-.4-1-2-1-3.1-1 2.1-1 2-1 .4-1 0-1-.4-1-2-1 2.1-1 2-1 .5-1 1.2-1 .4-1 0-1-.4-1-2-1-8.1-1 .4-1 1.2-1 7.8-1 2-1 .4-1 0-1-.4-1-2-1-5.2-1 7.7-1 2-1 .4-1 0-1 5.5-1 2-1 .5-1 0-1-.5-1-2-1-7.6-1 2-1 1.6-1 2-1 .5-1 0-1-.4-1 0-1-.4-1-2-1-2.2-1 .5-1 0-1-.5-1-1.1-1 14.7-1 2-1 .5-1 0-1-.5-1-2-1-22.6-1 10.3-1 2-1 .4-1 0-1-.4-1-2-1-3-1-1.8-1 2-1 .4-1 0-1 11.9-1 2-1 .5-1 0-1-.5-1-2-1-7.9-1 0-1 .4-1 .3-1 2-1 .6-1 .5-1 0-1-.5-1 7-1 2-1 .4-1 0-1-.4-1-2-1-7.5-1 .4-1 0-1 6.1-1 2-1 7.1-1 2-1 .5-1 0-1-.5-1-2-1-3-1 0-1 1.8-1 2-1 .4-1 0-1-.4-1-2-1 0-1-.5-1-2-1-.6-1 7-1 2-1 .5-1 0-1-.4-1 0-1-.4-1-2-1-4.8-1 2-1 .5-1 0-1-.5-1-2-1 11.2-1 2-1 .4-1 0-1-.4-1-2-1-.6-1 .5-1 0-1-.5-1-2-1 0-1 2-1 .5-1 0-1-.5-1-.2-1 0-1-.4-1-1.8-1-.4-1-2-1-16.2-1 .4-1 15-1 2-1 .5-1 0-1-.5-1 .8-1 .4-1 0-1 4.6-1 2-1 .4-1 0-1-.4-1-1-1 .5-1 .7-1 2-1 .4-1 0-1-.4-1-2-1-3.3-1 1.2-1 .5-1 0-1-.5-1-2-1-.7-1 .5-1 0-1-.5-1 0-1-.5-1-.9-1 1.2-1 8.8-1 2-1 .5-1 0-1-.5-1-2-1-.7-1 0-1-.5-1-.6-1 .5-1 0-1-.5-1-2-1-1-1 0-1 .5-1 2-1 .4-1 0-1-.4-1-.8-1-.4-1-2-1 3.1-1 2-1 4.1-1 2-1 .4-1 0-1-.4-1-1.9-1 2-1 .5-1 0-1 .6-1 .4-1 0-1-.4-1-2-1-9.4-1 10.6-1 2-1 .4-1 0-1-.4-1-2-1-1.7-1-.5-1-.4-1 0-1-.4-1 .5-1 5-1 2-1 .4-1 0-1 2-1 2-1 .4-1 0-1-.4-1-.9-1 .4-1 0-1-.4-1-1.4-1-2-1-3.6-1 0-1 15.1-1 2-1 .4-1 0-1-.4-1-2-1-9.4-1-2-1-12.4-1-.5-1 2-1 .4-1 1.4-1 .5-1 6.9-1 2-1 .5-1 0-1-.5-1-2-1-1.3-1 .5-1 0-1 1.2-1 2-1 .5-1 0-1-.5-1 2.9-1 2-1 .4-1 0-1 .4-1 0-1-.5-1-2-1-4.4-1-.5-1-2-1-2.2-1-.8-1 8.1-1 2-1 .4-1 0-1-.4-1-2-1-4-1 0-1 3.5-1 2-1 .5-1 0-1-.5-1-2-1-1.9-1 .5-1 .4-1 0-1 10-1 2-1 2-1 .4-1 0-1-.4-1-2-1-9.4-1-4.4-1-1.3-1 .5-1 3.4-1 2-1 .4-1 0-1-.4-1-2-1-1.7-1-.4-1-2-1 12.4-1 2-1 .5-1 0-1 10.1-1 2-1 .5-1 0-1-.5-1-2-1-3.8-1 .5-1 0-1-.5-1-2-1-11.1-1-1.3-1 .4-1 0-1-.4-1-2-1 7.7-1 2-1 .5-1 0-1-.5-1-2-1-5.2-1 0-1-.5-1 1.4-1 2-1 1.9-1 .5-1 0-1-.5-1-1.6-1 0-1-.5-1-.1-1 .5-1 0-1-.5-1 1.4-1 .4-1 1.3-1 2-1 .4-1 0-1 0-1-.5-1-1.5-1 2-1 .5-1 0-1-.5-1-2-1-1.6-1 .5-1 0-1-.5-1-2-1-2.9-1 1.3-1 6.1-1 2-1 .5-1 0-1-.5-1-2-1-2.1-1-2.3-1 .4-1 .5-1 0-1-.5-1-.4-1 .3-1 5.4-1 2-1 .5-1 0-1-.5-1-2-1-.3-1-.5-1 1.8-1 .5-1 1.7-1 2-1 .5-1 0-1-.5-1-.9-1 4.4-1 2-1 .4-1 0-1-.4-1-2-1-6.5-1-.5-1-2-1-7.2-1 3.5-1 2-1 .4-1 0-1 1.2-1 7.2-1 2-1 .4-1 0-1-.4-1 1.4-1 .4-1 0-1-.4-1-2-1-9.9-1 .2-1 .4-1 .9-1 .4-1 0-1-.4-1 .5-1 2-1 5.6-1 2-1 .4-1 0-1-.4-1-2-1-8-1 .5-1 0-1-.5-1-2-1 2-1 .5-1 6.5-1 2-1 .5-1 0-1-.5-1-2-1-4.4-1 0-1-.4-1-2-1 .2-1 .4-1 0-1-.4-1-2-1 11.4-1 2-1 .4-1 0-1-.4-1-2-1 .3-1 .4-1 .5-1 0-1-.5-1-.6-1 .4-1 0-1-.4-1-1.7-1-2-1-2.9-1 .5-1 0-1 1.5-1 2-1 .4-1 .8-1 .4-1 0-1 0-1 2-1 .5-1 0-1-.5-1-2-1-1.3-1 .4-1 0-1-.4-1-2-1-5.3-1 2.1-1 2-1 .5-1 0-1-.5-1-1.4-1-.5-1-2-1-3.3-1 1.7-1 1.9-1 .4-1 2.5-1 2-1 .9-1 2-1 .5-1 0-1-.5-1-.7-1 0-1-.4-1-2-1-2.6-1 .1-1 0-1-.4-1 .2-1 .4-1 0-1-.4-1-.2-1-.5-1 6-1 2-1 .5-1 0-1-.5-1-2-1-8.1-1 .4-1 0-1 2-1 2-1 7-1 2-1 .5-1 0-1-.5-1-1.6-1-1.5-1-.5-1-2-1-1.7-1-2-1 1.8-1 .4-1 1.4-1 2-1 .4-1 0-1-.4-1-.6-1 0-1 5.8-1 2-1 .4-1 0-1-.4-1-2-1-8-1 0-1 2.5-1 2-1 .4-1 0-1-.4-1 .5-1 .4-1 0-1-.4-1-2-1-3.8-1 2-1 .5-1 0-1-.5-1-.3-1-.4-1-2-1-4.6-1 0-1 7.6-1 2-1 1.7-1 .5-1 0-1-.5-1-2-1-.3-1 1.3-1 2-1 .5-1 0-1-.5-1-2-1-8-1-.4-1 1.9-1 2-1 .5-1 1.1-1 .5-1 0-1-.5-1 .6-1 2-1 .5-1 0-1-.5-1-2-1-1.4-1-2-1-6.1-1 3.2-1 2-1 15.8-1 2-1 .4-1 0-1-.4-1-2-1-10.3-1-3.4-1-2-1-2.3-1 5-1 2-1 .5-1 0-1-.5-1-1.2-1 1.2-1 .5-1 0-1-.5-1-2-1 1.5-1 .4-1 0-1-.4-1-2-1-.7-1-.5-1-1-1 .3-1 6.6-1 2-1 .5-1 0-1-.5-1-2-1-1.7-1 .5-1 0-1 .5-1 .4-1 0-1-.4-1-2-1-2.4-1 2-1 5.8-1 2-1 .5-1 0-1-.5-1-2-1-1.4-1 1-1 .4-1 0-1-.4-1-1.5-1 0-1-.5-1-2-1-2.1-1 0-1-.4-1 8.2-1 2-1 .5-1 0-1-.5-1-2-1-3.6-1-2-1-3.5-1 0-1 6.3-1 2-1 .5-1 0-1-.5-1-1.5-1-.4-1 1.6-1 2-1 .5-1 0-1-.5-1-1.5-1-2-1-4.8-1 2-1 .5-1 0-1-.5-1-.6-1 2-1 .5-1 1.5-1 2-1 .5-1 1.4-1 2-1 .4-1 0-1-.4-1-2-1-1.7-1-2-1-1-1-1.7-1 .7-1 1.5-1 2-1 .5-1 0-1-.5-1-2-1 .1-1 .4-1 0-1-.4-1-2-1-3.7-1 3.2-1 7.9-1 2-1 .5-1 0-1-.4-1 0-1-.5-1-.6-1 0-1-.5-1-.7-1 6.5-1 2-1 .5-1 0-1-.5-1-2-1 .1-1 .5-1 0-1-.5-1-2-1-2.7-1-1.4-1 .5-1 0-1-.5-1-2-1-2.2-1 1.2-1 .9-1 4-1 2-1 .5-1 0-1-.2-1 2-1 .4-1 0-1-.4-1-1.1-1 0-1-.5-1-1.2-1-.8-1 0-1-.2-1 0-1 .5-1 .4-1 0-1-.4-1-.1-1 4.1-1 2-1 .5-1 0-1-.5-1-2-1 .1-1 0-1-.5-1-2-1-6-1-6.5-1 10.8-1 2-1 .5-1 0-1-.5-1-2-1-6.7-1 0-1-.4-1-.7-1 .4-1 .8-1 .5-1 0-1-.5-1 .3-1 0-1 4.2-1 4.4-1 2-1 .4-1 0-1-.4-1-2-1-4.3-1-.5-1-2-1-4.4-1 4.2-1 2-1 .4-1 1.7-1 1.4-1 2-1 1.8-1 .4-1 0-1-.4-1-2-1 1.1-1 .4-1 0-1 .3-1 5.4-1 2-1 .4-1 0-1-.4-1-2-1-10-1 .4-1 .3-1 0-1-.5-1-2-1-1.4-1 .4-1 .3-1 .4-1 0-1 10.5-1 2-1 .4-1 0-1-.4-1-2-1-10.9-1-2-1 1.3-1 2-1 .4-1 0-1-.1-1 5.6-1 2-1 .5-1 0-1-.5-1-2-1-5.1-1-.5-1-1.4-1-.4-1-2-1-1.3-1 0-1-.1-1 .5-1 2.2-1 19.6-1 2-1 .4-1 0-1-.4-1-2-1-13.1-1 .1-1 2-1 .5-1 0-1-.5-1-2-1 1.3-1 2-1 .5-1 0-1-.5-1-2-1 0-1-.5-1-2-1 .1-1 0-1 1.1-1 .4-1 0-1-.4-1-2-1-1.1-1 .4-1 0-1-.4-1-.7-1-1-1 10.6-1 2-1 .4-1 0-1-.4-1-2-1-6.8-1-.5-1-2-1 10.4-1 2-1 .4-1 0-1-.4-1-2-1-15.5-1 11.4-1 2-1 .5-1 0-1-.5-1-2-1-9.8-1 .5-1 .9-1 2-1 6.5-1 2-1 .4-1 0-1-.4-1-2-1 1.6-1 2-1 .5-1 0-1-.5-1-2-1-.8-1 0-1-.5-1-2-1-4.9-1 1.5-1 2-1 .5-1 0-1 .2-1 2-1 .4-1 0-1-.4-1-2-1-7.3-1 5.7-1 2-1 .4-1 0-1-.4-1 1.5-1 2-1 .5-1 0-1-.5-1-2-1-14.2-1 2.5-1 2-1 .4-1 .9-1 2-1 .4-1 0-1-.3-1 .4-1 0-1-.4-1-2-1-2.2-1 2-1 .4-1 0-1 11.4-1 2-1 .4-1 0-1-.4-1-2-1-7.8-1-1.9-1 2-1 1.5-1 2-1 .4-1 0-1-.1-1 .5-1 0-1-.5-1-2-1-5.8-1 0-1 .2-1 2-1 .4-1 0-1-.4-1 .6-1 2-1 .5-1 0-1-.5-1-1.1-1 0-1-.4-1-1.3-1-.4-1-1.4-1 0-1-.4-1-2-1 .4-1 5-1 2-1 .4-1 0-1-.4-1-2-1-.8-1 .4-1 0-1-.4-1-2-1 .1-1 1.2-1 2-1 .5-1 0-1 .1-1 .5-1 0-1-.5-1 6.8-1 2-1 .4-1 0-1-.4-1-2-1-6.2-1 2-1 .5-1 0-1-.5-1-2-1 0-1 2-1 .5-1 0-1-.5-1-.8-1 0-1-.5-1-1.4-1-2-1-1.6-1-2-1 5.6-1 2-1 .5-1 0-1 3.8-1 2-1 .5-1 0-1-.5-1-2-1-4.4-1-2-1-4.2-1 5.7-1 7.7-1 2-1 .4-1 0-1-.4-1-2-1-3.4-1 2-1 .4-1 0-1-.4-1-2-1-1.2-1 0-1-.5-1-1.1-1 2-1 .5-1 0-1-.5-1-2-1-1-1-1.8-1 2-1 .5-1 0-1-.5-1-2-1-1.2-1-.5-1 2.2-1 2-1 .4-1 6-1 2-1 .4-1 0-1-.4-1-2-1-4.6-1-2.8-1 0-1-.5-1-.3-1 0-1-.4-1-.4-1 2-1 .5-1 3-1 2-1 .5-1 0-1-.5-1-.3-1 2-1 .5-1 0-1-.5-1-2-1-7.1-1-.5-1-2-1-1.8-1 0-1-.4-1-.5-1 12.8-1 2-1 .5-1 0-1-.5-1-2-1-1.9-1 .5-1 0-1-.5-1 1.1-1 .4-1 0-1-.4-1 0-1 0-1-.3-1 2-1 .5-1 0-1-.5-1-2-1-7.4-1 2-1 .5-1 0-1 0-1 10.7-1 2-1 .4-1 0-1-.4-1-2-1-8.6-1 3.8-1 2-1 .4-1 0-1-.4-1-1.3-1-2-1-1.2-1 2-1 .5-1 0-1-.5-1 1.5-1 .5-1 0-1-.5-1-2-1-.9-1 1.1-1 1.5-1 2-1 .5-1 5-1 2-1 .5-1 0-1-.5-1-2-1-3.9-1 0-1-.5-1-1.1-1 0-1 7.4-1 2-1 .4-1 0-1-.4-1-2-1-4.5-1 .5-1 0-1-.5-1-2-1-2.9-1-.5-1 .9-1 .5-1 0-1-.5-1-1.2-1 6.3-1 2-1 .4-1 0-1-.4-1-2-1-1.3-1-2-1 1.1-1 .5-1 0-1-.5-1-1.5-1-.4-1-.3-1 2-1 .5-1 0-1-.5-1-.8-1 .4-1 0-1 1.2-1 1.8-1 .4-1 0-1-.4-1-2-1-5.9-1 .5-1 0-1-.3-1 1.4-1 2-1 .5-1 0-1-.5-1 .5-1 3.3-1 2-1 .8-1 .5-1 0-1-.5-1-2-1-4.4-1 0-1 0-1-.4-1-1.7-1 0-1 .7-1 .4-1 0-1-.4-1 6.6-1 2-1 .5-1 0-1-.5-1-2-1-1-1 .5-1 0-1-.5-1-2-1-3.6-1 .5-1 0-1 2.7-1 2-1 .4-1 0-1-.4-1-2-1-6.7-1 .4-1 0-1 1-1 2-1 .5-1 0-1 3.5-1 2-1 .4-1 0-1-.4-1-2-1-3.3-1 .5-1 0-1-.5-1-2-1-15.3Z"/><path fill="#00b04a" d="M138.5 438.7l1-2 1-.4 1 0 1 .4 1 2 1-2.4 1-2 1-.4 1 0 1 .4 1 2 1 .3 1 0 1 .5 1 2 1 2.4 1-3.8 1-2 1-.4 1 0 1 .4 1 .4 1 .5 1 2 1 8.1 1 2 1 2.9 1 .8 1 .4 1-3.5 1-2 1-.4 1 0 1 .3 1 .5 1 .5 1 0 1-1.8 1-2 1-.5 1 0 1 .5 1 2 1 2.1 1-.5 1 0 1 .5 1 2 1 3 1-.4 1 0 1 .4 1 1.3 1 .5 1 2 1 2.7 1-2 1-2.5 1-2 1-.7 1-2 1-.5 1 0 1 .5 1 2 1 6.2 1-4 1-2 1-.5 1-3.6 1-2 1-.4 1 0 1 .4 1 2 1 10.4 1 0 1 .5 1-.8 1-6.5 1-2 1-.4 1 0 1 .4 1 2 1 7.5 1 2 1-.4 1-.4 1-8.3 1-2 1-.4 1-1.3 1-.4 1 0 1 .4 1 2 1 9.6 1-2 1-.5 1-2 1-.5 1 0 1 .5 1 2 1 8 1-8.7 1-2 1-.4 1 0 1 .4 1 2 1 1.5 1-5.5 1-2 1-.5 1 0 1 .5 1 2 1 4.7 1-.4 1 0 1 .4 1 2 1 1 1-1.8 1-7 1-2 1-.4 1 0 1 .4 1 2 1 7.9 1 0 1-.2 1-.4 1 0 1 .1 1-1.2 1-.4 1-.4 1-.5 1 0 1 .5 1 2 1 5.2 1-12.6 1-2 1-.5 1 0 1 .5 1 2 1 6.7 1 .5 1 2 1 1.6 1 0 1-.7 1-.5 1 0 1-1.5 1-2 1-.4 1 0 1 .4 1 2 1 5.2 1 0 1-3.9 1-2.8 1-2 1-.4 1 0 1 .4 1 .3 1 0 1 .4 1 2 1 .4 1-.4 1 0 1 .4 1-.3 1 0 1 .4 1 .4 1 0 1-1.9 1-2 1-.5 1 0 1 .5 1 2 1 2 1 0 1-2.9 1-2 1-.5 1 0 1 .5 1-8.2 1-2 1-.4 1 0 1 .4 1 2 1 6.9 1-.4 1-.5 1-2 1-.5 1 0 1 .3 1 .4 1 2 1-.4 1-2 1-.5 1 0 1 .5 1 1.2 1 .4 1 2 1-5.9 1-2 1-3.8 1-2 1-.5 1 0 1 .5 1 2 1 6.1 1-2 1-.4 1 0 1 .4 1 2 1 7.1 1-1.3 1-.4 1 0 1 .4 1 .5 1-1.3 1-2 1-.5 1 0 1-2.5 1-2 1-.5 1 0 1 .5 1 2 1 2.5 1 0 1-2.2 1-2 1-.4 1 0 1 .4 1 2 1 .2 1 0 1 .5 1 1.7 1-4.2 1-2 1-.4 1 0 1 .4 1 2 1 4.2 1-2 1-.5 1-.2 1-2.4 1-2 1-.5 1 0 1 .5 1 2 1 3.3 1 0 1-.6 1-.5 1 0 1 .5 1 .1 1-.4 1 0 1 .4 1 2 1 .3 1 0 1-.7 1-.4 1 0 1 .4 1 1.5 1-2 1-.5 1 0 1 .5 1-6.8 1-2 1-.4 1 0 1 .4 1 2 1-6.7 1-2 1-.5 1 0 1 .5 1 2 1 10.2 1-2 1-.4 1 0 1 .4 1 2 1 2.1 1 0 1-.4 1 0 1 .4 1 2 1 3.1 1-4.7 1-2 1-.5 1 0 1 .5 1-4.3 1-2 1-.5 1 0 1 .5 1-.8 1-.4 1 0 1 .4 1 2 1-.2 1 0 1-3.4 1-2 1-.6 1-.4 1 0 1 .4 1 2 1 5 1-.5 1 0 1-1.6 1-2 1-.4 1 0 1 .4 1 2 1 2.7 1 2.3 1 .5 1 1.5 1-7.9 1-2 1-.5 1 0 1-4.1 1-2 1-.4 1 0 1 .4 1 2 1 7.4 1-.4 1 0 1 .4 1 2 1 3.4 1 .4 1-5.2 1-2 1-.4 1 0 1 .4 1 2 1 5.8 1 0 1 .4 1 .2 1-14.9 1-2 1-.4 1 0 1 .4 1 2 1 4.8 1-.5 1 0 1 .5 1 .3 1-2 1-.5 1 0 1 .5 1 2 1 5.4 1 0 1 .4 1 2 1-.6 1-.4 1 0 1 .4 1 2 1-5.3 1-2 1-2.1 1-2 1-.5 1 0 1 .5 1 1.2 1 .4 1 2 1 1.2 1 2 1 4 1-2 1-1 1-.5 1 0 1 .5 1-5.7 1-2 1-.5 1 0 1 .5 1-.3 1-.5 1 0 1 .5 1 2 1 3.5 1 0 1 .4 1 2 1-4.3 1-2 1-.4 1 0 1 .4 1 2 1 4.7 1-2 1-.5 1-1.8 1-2 1-.4 1 0 1 .4 1 .9 1 0 1-1.6 1-.5 1-.1 1 0 1 .5 1 1.9 1-.5 1 0 1 .5 1 2 1 3.5 1-.5 1 0 1-5.5 1-10 1-2 1-.4 1 0 1 .4 1 2 1 10 1-.8 1-.5 1 0 1 .5 1-2 1-.5 1 0 1 .5 1 2 1 2.9 1-.4 1-.4 1 0 1 .5 1-2.4 1-21.5 1-2 1-.4 1 0 1 .4 1 2 1 20 1 0 1 .5 1 2 1 1.2 1-2 1-2 1-2.7 1-2 1-.5 1 0 1 .5 1 2 1 1.5 1-2 1-.5 1 0 1 .5 1 2 1 2.4 1-2 1-.5 1 0 1 .5 1 2 1 1.3 1 0 1-9.7 1-2 1-.4 1 0 1 .4 1 2 1 5.1 1 2.2 1-2 1-.4 1 0 1-1.4 1-2 1-.4 1 0 1 .4 1-1 1-.5 1 0 1 .5 1-.6 1-.5 1 0 1 .5 1-.4 1-.4 1 0 1 .4 1 1.7 1 1.4 1 2 1 .3 1-2 1-.4 1 0 1-.4 1-2 1-.4 1 0 1 .4 1 2 1-4.7 1-2 1-.5 1 0 1 .5 1 2 1-2 1-.4 1 0 1-.2 1 0 1 .4 1-1.6 1-2 1-.5 1 0 1-.5 1-2 1-.5 1 0 1 .5 1 2 1 .3 1-2 1-.5 1 0 1 .5 1 2 1 .7 1-2 1-.4 1 0 1 .4 1 1.6 1 0 1 .5 1 2 1-3.2 1-2 1-.5 1 0 1 .5 1 2 1 .9 1-.5 1 0 1 .5 1 0 1-.4 1 0 1-.1 1-.4 1 0 1 .4 1 2 1 4.1 1-5.6 1-2 1-.4 1 0 1 .4 1 .4 1-1 1-2 1-.4 1 0 1 .4 1 2 1 4.2 1 0 1-4 1-2 1-.4 1 0 1 .4 1 2 1 5.5 1 0 1 .5 1 .9 1 .2 1-2 1-11.9 1-2 1-.4 1 0 1 .4 1 2 1 7.4 1-5.1 1-2 1-.5 1 0 1 .5 1 2 1 3.4 1 .5 1 2 1-.2 1-.4 1-1.9 1-.4 1 0 1 .4 1 .5 1 0 1 .5 1 .5 1 .5 1-2.2 1-2 1-.4 1 0 1 .3 1 .5 1 1.4 1-2.6 1-2 1-.4 1 0 1 .4 1 2 1 1 1 0 1 .3 1 0 1 .4 1 2 1-.8 1-2 1-.4 1 0 1-4.6 1-2 1-.5 1 0 1-1.8 1-.4 1 0 1 .4 1 .4 1-2 1-.4 1 0 1 .4 1 2 1 3.2 1-.4 1 0 1 .4 1-2.4 1-2 1-.4 1 0 1 .4 1 2 1 6.9 1-5.2 1-2 1-.4 1 0 1 .4 1 2 1-3 1-2 1-.4 1 0 1 .4 1 2 1-2.6 1-4 1-2 1-.5 1 0 1 .5 1 2 1 17.1 1-.8 1-.4 1 0 1-2.8 1-2 1-5.3 1-2 1-.5 1 0 1 .5 1 2 1 3 1-2 1-10.5 1-2 1-.5 1 0 1 .5 1 2 1 8.1 1 0 1 .3 1-.5 1 0 1 0 1 0 1 .4 1 2 1 2.5 1 .1 1-.5 1 0 1-2.5 1-2 1-.5 1 0 1 .5 1 2 1 0 1-2 1-.5 1-6.5 1-2 1-.4 1 0 1 .4 1 2 1 10.1 1-2.8 1-2 1-.4 1 0 1 .4 1 2 1-7.9 1-2 1-.5 1 0 1 .5 1 2 1 5.7 1 .8 1 .5 1 2 1 2.8 1-1.9 1-2 1-.5 1 0 1 .5 1 2 1 2.3 1 0 1-6.1 1-2 1-.4 1 0 1 .4 1 .4 1 .4 1 2 1 3.1 1-7.8 1-2 1-.4 1 0 1-1.4 1-.4 1 0 1 .4 1-.1 1-2 1-.5 1 0 1 .5 1 2 1 4.2 1-2 1-1.3 1-2 1-.4 1 0 1 .4 1 2 1 1.1 1 0 1 .5 1 1.5 1 0 1 .5 1 2 1 4.9 1 .4 1-.4 1 0 1-2.8 1-2 1-.4 1-1.7 1-.4 1 0 1-1 1-.5 1 0 1 .5 1 2 1 .3 1 0 1 .4 1 .1 1-.4 1 0 1 .4 1-.1 1 0 1-.6 1-7.9 1-2 1-.5 1 0 1 .5 1 2 1 1.8 1 2 1 3.2 1-.5 1 0 1-10.9 1-2 1-.5 1 0 1 .5 1 2 1 2.3 1 0 1-.4 1 0 1 .4 1-.2 1-2 1-.4 1 0 1 .4 1-.1 1 0 1 .5 1 1.8 1-.5 1 0 1 .5 1 2 1 2 1-5.1 1-2 1-.4 1 0 1 .4 1 2 1 .9 1-.4 1 0 1-3.6 1-2 1-.4 1 0 1 .4 1 2 1 .4 1-2.3 1-2 1-1.8 1-.4 1 0 1 .4 1-12.9 1-2 1-.5 1 0 1 .5 1 2 1 19.3 1-.5 1 0 1 .5 1 2 1-1.9 1-2 1-.5 1 0 1 .5 1 1.4 1-.5 1 0 1 .5 1 2 1 2.5 1-2 1-.5 1 0 1 .5 1 1.1 1-2 1-4.9 1-2 1-.4 1 0 1 .4 1 2 1 7.6 1-2 1-.5 1 0 1-1.2 1-.5 1-1.6 1-2 1-.5 1 0 1 .5 1-.6 1-.5 1 0 1 0 1-.4 1 0 1-1.4 1-2 1-.5 1 0 1 .5 1 2 1 9.2 1-1.7 1-14.9 1-2 1-1.2 1-2 1-.4 1 0 1 .4 1 2 1 14.5 1-.4 1-.5 1 0 1 .5 1 .9 1-2 1-.5 1 0 1-.8 1-8.8 1-2 1-.4 1 0 1 .4 1 2 1 3.9 1-4.3 1-2 1-.5 1 0 1 .5 1 2 1 8.4 1 .5 1 0 1 .5 1-6.4 1-2 1-.5 1 0 1 .5 1 2 1 7.9 1 0 1 .5 1 2 1 6.2 1-4.5 1-2 1-.5 1 0 1-4.8 1-2 1-.5 1 0 1-10.1 1-2 1-.5 1 0 1 .5 1 2 1 5.3 1 0 1 .4 1-.2 1-2 1-.5 1 0 1 .5 1 2 1 8.8 1-.4 1 0 1 .4 1-.2 1-2 1-.4 1-7.9 1-2 1-.4 1 0 1 .4 1 2 1 4.5 1-2 1-.5 1-.9 1-.4 1 0 1 .4 1 2 1 1.3 1-.5 1 0 1 .5 1-.5 1-2 1-1.1 1-.4 1 0 1 .4 1 1.4 1-.5 1 0 1 .5 1-.2 1 0 1-17.2 1-2 1-.5 1 0 1 .5 1 2 1 15.2 1-10.8 1-2 1-.5 1 0 1 .5 1 2 1 17.4 1-1.3 1-2 1-.5 1 0 1 .2 1 .5 1 2 1-.4 1-3.4 1-2 1-.4 1 0 1 .4 1 2 1-14.6 1-2 1-.4 1 0 1 .4 1 2 1 3.8 1-2.2 1-2 1-.5 1 0 1 .5 1 1.1 1 .5 1 2 1 9.4 1 .8 1-3.4 1-2 1-5.9 1-2 1-.5 1 0 1 .5 1 1.5 1 2 1 3.8 1 1.3 1-.4 1 0 1-3.9 1-2 1-14.3 1-2 1-.5 1 0 1 .5 1 2 1 14.5 1-6 1-2 1-.4 1-8.1 1-2 1-.4 1 0 1 .4 1 2 1 8.7 1 2 1 .3 1 .4 1 2 1 3.4 1 .5 1 0 1-.4 1 0 1 .4 1-1.6 1-.4 1-1.8 1-13.5 1-2 1-4.8 1-2 1-.4 1 0 1 .4 1 2 1 10.5 1-2 1-.5 1 0 1 .5 1 2 1-.3 1-.4 1-4.8 1-2 1-.4 1-.2 1-.4 1 0 1 .4 1 2 1 1.6 1-2 1-.5 1 0 1 .5 1 1 1 1.5 1 0 1 .4 1-14.5 1-2 1-.5 1 0 1 .5 1 2 1 8.8 1 2.4 1-2 1-.5 1-20.2 1-2 1-.4 1 0 1 .4 1 2 1 27.2 1-4.2 1-2 1-8.1 1-2 1-.4 1 0 1 .4 1 1.8 1-.4 1 0 1 .4 1 2 1-1.2 1-2 1-.5 1 0 1 .5 1 1.3 1-.7 1-2 1-.5 1 0 1-1.4 1-.4 1 0 1 .4 1 2 1-4.8 1-2 1-.4 1 0 1-18.6 1-2 1-.5 1 0 1 .5 1 2 1 8.4 1 .5 1 2 1 1.2 1 0 1 .4 1-4.1 1-2 1-.5 1 0 1-4.3 1-4.8 1-2 1-.5 1 0 1 .5 1 2 1-6.2 1-2 1-1.3 1-2 1-.5 1 0 1 .5 1 2 1 5.7 1-2 1-.4 1 0 1 .4 1 1.4 1 0 1 .4 1 2 1 6.1 1-.5 1-4.6 1-2 1-.5 1 0 1 .5 1 2 1 8 1-8.4 1-2 1-.4 1 0 1 .4 1-20.3 1-2 1-.4 1 0 1 .4 1 2 1 9 1-.4 1 0 1 .4 1 2 1-.9 1-2.4 1-2 1-.4 1-4.1 1-2 1-.4 1 0 1 .4 1 2 1 10.6 1-.8 1-.4 1 0 1 .4 1-2.8 1-2 1-.4 1 0 1 .4 1-9.1 1-2 1-.5 1 0 1 .5 1 2 1 17.1 1 2 1-10.5 1-2 1-.4 1 0 1-21.7 1-2 1-.5 1 0 1 .5 1 2 1 15.1 1 2 1 5.7 1-2 1-.4 1 0 1-3.8 1-2 1-.4 1 0 1 .4 1 1.7 1-.8 1-.4 1 0 1 .4 1 1.6 1-.5 1 0 1-.8 1-2 1-.5 1 0 1 .4 1-.5 1 0 1-12.5 1-2 1-.4 1 0 1 .4 1 2 1 .7 1 1.6 1-.5 1 0 1 .5 1-1.1 1-.4 1 0 1 .4 1-2.1 1-2 1-.5 1 0 1 .5 1 2 1-1 1-.4 1-.3 1-2 1-.4 1 0 1 .4 1 2 1-.5 1-.4 1-.1 1-3.4 1-2 1-.5 1 0 1 .5 1 .7 1 0 1 .5 1 2 1-4 1-2 1-.4 1-10.4 1-2 1-.4 1 0 1 .4 1 2 1 10.5 1-2 1-.5 1-1.4 1-3.1 1-2 1-.5 1 0 1 .5 1 2 1 1.3 1 0 1-.7 1-2 1-.4 1-8.8 1-2 1-.5 1 0 1-.3 1-.4 1 0 1 .4 1 2 1 6.2 1-2 1-2.4 1-15.4 1-2 1-.4 1 0 1 .4 1 1.6 1-2 1-.5 1 0 1 .5 1 2 1 6.7 1-.5 1 0 1 .5 1 2 1 8.7 1-2 1-.5 1 0 1 .5 1-3.5 1-2 1-25.7 1-2 1-.5 1 0 1 .5 1 2 1 15.5 1 0 1 .4 1 2 1-11.6 1-2 1-.4 1 0 1 .4 1 2 1 13.4 1 .4 1 2 1-16.2 1-2 1-.4 1 0 1 .4 1 2 1 7.7 1-6.7 1-2 1-.4 1 0 1-5.6 1-2 1-.5 1 0 1 .5 1 2 1 .5 1 0 1 .5 1 2 1 2.7 1 .4 1-.1 1 0 1 .5 1 2 1 4.2 1-2 1-.5 1-8.1 1-2 1-.4 1 0 1-.5 1-.4 1 0 1-2.6 1-2 1-.4 1 0 1 .4 1 2 1 5.4 1-.4 1 0 1 .4 1 2 1-4.2 1-2 1-4.3 1-5.7 1-2 1-.5 1 0 1 .5 1 2 1 7.5 1-.4 1 0 1 .4 1 2 1-1.4 1-.4 1 0 1 .4 1 2 1 5.8 1-.3 1 0 1 .4 1-.4 1-2 1-.4 1 0 1 0 1 0 1 .4 1 2 1-4.3 1-2 1-.5 1-1.7 1-.4 1 0 1 .4 1-.3 1-2 1-3.1 1-2.7 1-2 1-.5 1 0 1 .5 1 1.2 1 2 1 4.5 1-1.4 1-2 1-.4 1 0 1 .4 1 2 1 9.1 1-.5 1 0 1-7.5 1-2 1-.5 1 0 1 .5 1 2 1-3.5 1-2 1-.5 1 0 1 .5 1 2 1 15.1 1 2 1 .5 1-2 1-.4 1 0 1 .4 1 2 1 2.5 1 0 1-1.3 1-7 1-2 1-.5 1 0 1 .5 1 1.6 1 .5 1 2 1 3.1 1-.5 1 0 1 .5 1-1.1 1-12.3 1-2 1-.5 1 0 1 .5 1 2 1 17.3 1 0 1 .5 1 .7 1 2 1 1.9 1-2 1-.4 1 0 1 .4 1-3.6 1-2 1-.5 1 0 1 .5 1 2 1 10.9 1 2.3 1 .5 1 2 1-.5 1-.5 1 0 1-7.3 1-2 1-.4 1 0 1 .4 1 2 1 6.8 1-2 1-.5 1-2 1-14.9 1-2 1-.5 1 0 1 .5 1 2 1 17.7 1 0 1 .5 1 2 1 14.1 1-6.4 1-2 1-1 1-.4 1 0 1 .4 1 2 1 9.7 1-2 1-.5 1 0 1-.5 1-5.2 1-2 1-.5 1 0 1 .5 1 2 1 6.6 1-.4 1 0 1 .4 1 1.3 1-.4 1 0 1 .4 1 2 1 8.2 1-1.2 1-.5 1 0 1 .5 1 2 1 2 1-.4 1 0 1 .4 1 2 1-7 1-2 1-.5 1 0 1 .5 1 2 1 7 1-.4 1 0 1 .4 1 2 1 .4 1-.4 1-10.2 1-2 1-.5 1 0 1 .5 1 2 1 11.9 1 .4 1 2 1 15.8 1 .9 1-2 1-18 1-2 1-.4 1 0 1 .4 1 2 1 2.9 1 2 1 16.6 1 1.2 1 .4 1-16.7 1-2 1-.5 1 0 1 .5 1 2 1 11.6 1 .5 1 2 1 .7 1 .5 1 .1 1-.5 1-3.4 1-2 1-.4 1 0 1 .4 1 2 1 9.7 1 2 1-10.5 1-2 1-.5 1 0 1 .5 1 2 1 6.6 1-.4 1 0 1 0 1-2 1-.4 1 0 1 .4 1 1.6 1 .4 1 2 1 3.2 1 .5 1 2 1 .3 1 0 1 .4 1 2 1 2.3 1-.4 1 0 1-1.2 1-.4 1 0 1-10.3 1-2 1-.5 1 0 1 .5 1 2 1 12.3 1-3.4 1-2 1-.4 1 0 1 .4 1 2 1 6 1 .4 1 2 1 2.1 1-2 1-.4 1 0 1 .4 1 2 1 3.2 1 2 1 4.1 1 2 1 2.8 1 .4 1 2 1 4.1 1-11.5 1-2 1-.4 1 0 1 .4 1 2 1 1.9 1 0 1 .4 1 2 1 6.5 1-.4 1-.2 1-2 1-.5 1 0 1 .5 1 1.5 1-.7 1-.5 1-.1 1-2 1-.4 1 0 1 .4 1 2 1 6.3 1-.3 1 0 1 .5 1-2 1-.5 1-1.3 1-2 1-.5 1 0 1 .5 1 1.6 1 0 1 .5 1 2 1 .5 1-.4 1-1 1-6.6 1-2 1-.4 1 0 1 .4 1 2 1 11.3 1 .4 1 2 1 3.1 1-13.8 1-2 1-.4 1 0 1 .4 1 2 1 1.6 1 2 1 3.2 1 0 1 .4 1 .2 1 0 1 .4 1 .7 1 .4 1 2 1-.2 1-2 1-.5 1 0 1 .5 1 2 1 3.3 1-1.6 1-2 1-.4 1-2 1-2 1-.8 1-.4 1 0 1 .4 1 2 1 .1 1 0 1 .5 1 2 1 2.9 1 .4 1 2 1 9.4 1 1.1 1-7.8 1-3.1 1-2 1-.5 1 0 1 .5 1 2 1 1.7 1 2 1 9.6 1 .4 1 2 1-4.6 1-2 1-.4 1 0 1 .4 1 2 1 1.8 1 .5 1 1.2 1-3.8 1-2 1-.4 1 0 1-.4 1 0 1-.8 1-2 1-.5 1 0 1 .5 1 2 1 .2 1-2 1-.5 1 0 1 .5 1 2 1 5.9 1 0 1 .5 1 2 1-.9 1-2 1-.4 1 0 1-4.1 1-2 1-.4 1-.3 1 0 1 .4 1 2 1 5 1-1.3 1-2 1-.5 1 0 1 .5 1 2 1 1.2 1-1.5 1-.4 1 0 1 .4 1 2 1 3.9 1-2 1-.5 1 0 1 .5 1 2 1 20.1L2186.5 383.6l-1 2-1 .4-1 0-1-.4-1-2-1 .9-1 .5-1 0-1-.5-1-2-1 6.6-1 2-1 .4-1 0-1-.4-1-2-1-6.4-1 2-1 .4-1 0-1-.4-1-2-1-1.5-1 .5-1 0-1-.5-1 0-1 0-1-.5-1-.7-1-.5-1-2-1-1.7-1 8.4-1 2-1 .5-1 0-1-.5-1-2-1-7.6-1-.4-1-2-1 14.2-1 2-1 .5-1 0-1-.5-1-2-1-11.7-1 0-1-.4-1-2-1-.8-1 .4-1 5.3-1 2-1 .4-1 0-1-.4-1-2-1-4.3-1-.5-1-1-1 .4-1 0-1-.4-1-2-1-1.7-1-2-1-2.6-1 .8-1 .5-1 0-1 7.9-1 2-1 .4-1 0-1-.4-1-2-1-1.6-1-.4-1-2-1-7.3-1 0-1-.4-1-2-1 1.2-1 .5-1 0-1-.5-1 8.2-1 2-1 .5-1 0-1-.5-1-2-1-2.6-1-2-1-3.2-1-2-1-6.2-1 0-1-.4-1-.5-1 4.5-1 2-1 .4-1 0-1-.4-1-2-1-1.1-1 2.6-1 2-1 .5-1 0-1-.5-1-1.2-1 2-1 .4-1 0-1-.4-1-2-1-4.1-1 1.3-1 .5-1 0-1-.3-1 0-1-.4-1-2-1 0-1 2-1 .4-1 0-1-.4-1-2-1-1.7-1 2-1 8.5-1 2-1 .5-1 0-1-.5-1-2-1-9.8-1-2-1-2.2-1-2-1-4.2-1 2.2-1 2-1 .5-1 0-1 .3-1 2-1 .4-1 0-1-.4-1-2-1-4.1-1 0-1-.4-1-2-1-1-1 4.3-1 2-1 .4-1 0-1-.4-1-2-1 7.9-1 2-1 .4-1 0-1-.4-1-2-1-5-1 0-1 .1-1 2-1 .4-1 0-1-.4-1-2-1-9.3-1 0-1-.5-1 .3-1 .4-1 0-1-.4-1-2-1-3.2-1 2-1 .5-1 0-1-.5-1-2-1 .2-1 0-1-.5-1-2-1-4-1-2-1-.5-1 .5-1 .2-1 0-1-.4-1-2-1-3.6-1 2-1 .5-1 0-1-.5-1-2-1-1.2-1 0-1-.5-1-.6-1-.4-1-.3-1-.5-1-2-1-5.1-1 1.4-1 2-1 .4-1 0-1-.4-1-2-1-1.8-1 .7-1 16.2-1 2-1 .4-1 0-1-.4-1-2-1-10.7-1 .5-1 0-1-.5-1-2-1-1.5-1-2-1-.1-1 2-1 .4-1 0-1-.4-1-2-1-6.3-1-.1-1 .4-1 0-1-.4-1-2-1-.9-1 2-1 .5-1 0-1-.5-1-2-1-1-1 0-1-.4-1-2-1-2.2-1 0-1 19.1-1 2-1 .4-1 0-1-.4-1-2-1-17-1 0-1-.5-1-2-1-2.1-1 2-1 .5-1 0-1-.5-1-2-1 1.5-1 .5-1 0-1-.5-1-2-1-7.6-1 1.6-1 2-1 .5-1 0-1 .1-1 .4-1 0-1-.4-1-2-1-5.2-1-.5-1-1.7-1-.4-1-2-1-3.6-1 0-1-.4-1-1.4-1-.5-1 1.6-1 .5-1 0-1-.5-1-2-1-4.4-1-1-1-2-1-3.3-1 0-1-.4-1 14-1 2-1 .4-1 0-1-.4-1-2-1-6.1-1 2-1 .5-1 0-1-.5-1-2-1-6.3-1-.5-1-2-1-3.6-1 2.8-1 2-1 2.2-1 2-1 3.4-1 2-1 .5-1 0-1-.5-1-2-1-8.4-1-2.3-1-2-1-5.8-1-.8-1 0-1-.4-1-2-1-2.9-1 8.3-1 2-1 .5-1 3.8-1 2-1 .5-1 0-1-.5-1-2-1-10.6-1 6.5-1 2-1 .4-1 0-1-.4-1-2-1-9.1-1-.5-1-1-1-2-1 0-1 .5-1 0-1-.5-1-2-1-.9-1-2-1-1.2-1 0-1-.5-1 56.8-1 2-1 .4-1 0-1-.4-1-2-1-53.8-1-.4-1 1.4-1 .4-1 0-1-.4-1-2-1-5.4-1-2-1-2.7-1-.7-1 5.6-1 2-1 .4-1 0-1-.4-1-.7-1-.5-1-2-1-2.3-1 .4-1 0-1-.4-1 1.4-1 3.1-1 2-1 .5-1 0-1-.5-1 1.6-1 .5-1 0-1-.5-1-2-1-1.9-1 0-1-.5-1-.9-1-.4-1 1.8-1 2-1 3.1-1 2-1 .4-1 0-1-.4-1-2-1-2.2-1-.4-1-2-1-3.5-1 2-1 24.1-1 2-1 .4-1 0-1-.4-1-2-1-15.8-1 0-1-.5-1-1.5-1 2-1 .5-1 .5-1 2-1 .4-1 0-1-.4-1-2-1-4.9-1-.5-1-.6-1 12.2-1 2-1 11.5-1 2-1 .4-1 0-1-.4-1-2-1-22-1 9.5-1 2-1 .4-1 0-1-.4-1-2-1-8.4-1 24.9-1 2-1 .4-1 0-1-.4-1-2-1-11.1-1-6.9-1-1.4-1-.6-1-.5-1-2-1 .4-1 24.8-1 2-1 .5-1 0-1-.5-1-2-1-9.6-1-.5-1-2-1-5.6-1-.4-1-1.3-1 .4-1 9.4-1 2-1 7.9-1 2-1 .4-1 0-1-.4-1-2-1-9.2-1 2-1 .5-1 0-1-.5-1-2-1-5.2-1 2-1 1.8-1 2-1 .5-1 0-1-.5-1 16.7-1 2-1 .4-1 0-1-.4-1-2-1-7.6-1-2-1-7.5-1 .5-1 .2-1 8.9-1 2-1 .4-1 0-1-.4-1-1.8-1-2-1-10.6-1 0-1-.5-1 8.1-1 2-1 .5-1 0-1-.5-1-2-1 .1-1 2-1 3.6-1 2-1 .5-1 0-1 1.6-1 2-1 .5-1 0-1-.5-1 7.9-1 2-1 .4-1 0-1-.4-1-2-1-5.1-1-2-1-3.4-1 0-1-.5-1-.1-1 21.9-1 2-1 .5-1 0-1 .3-1 .4-1 0-1-.4-1-2-1-3.7-1-2-1-12.3-1-2.3-1 2-1 .5-1 13.4-1 2-1 .5-1 0-1-.5-1-2-1 1.8-1 .4-1 6.2-1 2-1 .4-1 0-1-.4-1-2-1-6.5-1 0-1-.4-1-2-1-2.8-1 .4-1 0-1-.4-1 4.1-1 2-1 7-1 2-1 .5-1 0-1-.5-1-2-1-4.6-1 0-1 4.8-1 2-1 .4-1 0-1-.4-1-.5-1-2-1 1.5-1 .4-1 1.8-1 2-1 1.8-1 .5-1 .2-1 2-1 .5-1 6.5-1 2-1 .4-1 0-1-.4-1-2-1-1.7-1 0-1 .9-1 2-1 .4-1 0-1 .7-1 .4-1 0-1-.4-1 .7-1 2-1 .5-1 0-1-.5-1-2-1 0-1 2-1 .4-1 0-1-.4-1-2-1 1.5-1 .5-1 1.8-1 2-1 8-1 2-1 .4-1 0-1 .3-1 0-1-.5-1-2-1-6.6-1 0-1-.4-1-2-1-6.4-1 2.7-1 2-1 1.3-1 7.9-1 2-1 .5-1 0-1-.5-1-.8-1 .5-1 0-1-.5-1-2-1-8.7-1 .6-1 .5-1 0-1 9.4-1 2-1 .4-1 2.3-1 2-1 .4-1 0-1-.4-1-2-1 1.7-1 2-1 .5-1 0-1-.5-1-2-1-3-1-.5-1-.8-1 0-1 9.9-1 2-1 .4-1 0-1-.4-1-2-1-1.6-1 2-1 .5-1 0-1-.5-1-2-1-2.6-1 7.7-1 2-1 .4-1 0-1-.4-1-.2-1 2-1 .5-1 0-1-.5-1-2-1-7.7-1 2-1 .5-1 19-1 2-1 .5-1 0-1 4.4-1 2-1 .4-1 0-1-.4-1-2-1-12.8-1-1-1 .5-1 0-1 1-1 2-1 .5-1 0-1 1.5-1 .4-1 0-1 3.6-1 2-1 .4-1 0-1-.4-1-2-1 .2-1 .4-1 0-1 3.3-1 2-1 .4-1 1.7-1 .5-1 0-1-.5-1 2-1 .4-1 0-1-.4-1-2-1-5.1-1-2-1 8.9-1 2-1 .4-1 0-1-.4-1-1.5-1 2-1 .4-1 0-1-.4-1 .4-1 2-1 .5-1 0-1-.5-1-2-1-4.3-1 0-1 5.2-1 2-1 .4-1 0-1-.4-1-2-1-4-1 .5-1 0-1 4.2-1 2-1 .5-1 0-1-.5-1-2-1 4.6-1 4-1 2-1 .5-1 0-1-.5-1-.7-1-.4-1-1.4-1 0-1-.5-1-2-1-5.3-1-2.5-1 5.2-1 2-1 .5-1 0-1-.4-1-.4-1-2-1 0-1 .2-1 .6-1 3.9-1 2-1 .4-1 0-1-.4-1 4.6-1 2-1 .5-1 0-1-.5-1-2-1-.5-1-.4-1-2-1-3.5-1 2.1-1 2.6-1 2-1 .4-1 0-1 2.7-1 2-1 .4-1 1-1 2-1 .4-1 0-1-.4-1-2-1-6.3-1-.9-1 .5-1 0-1-.5-1 1.9-1 10.5-1 2-1 .5-1 0-1-.5-1 0-1 .5-1 0-1-.5-1-2-1-7.7-1 6.1-1 2-1 1.8-1 .5-1 0-1-.5-1-2-1-3.2-1 6.3-1 2-1 1-1 2-1 .5-1 0-1-.2-1 .4-1 0-1-.4-1-2-1-4.7-1 0-1 .7-1 .4-1 0-1-.4-1-2-1-2.1-1-.3-1 0-1-.4-1 1.1-1 .4-1 0-1-.4-1-2-1 3.6-1 2.4-1 3.1-1 2-1 .5-1 0-1-.5-1-2-1-1.6-1 0-1-.4-1 1.3-1 6.5-1 2-1 .5-1 0-1-.5-1-1.2-1-.4-1-2-1 1.1-1 .4-1 3.7-1 2-1 .5-1 0-1-.5-1-2-1-17.2-1 0-1-.5-1-1.3-1 .2-1 0-1-.5-1 14.8-1 2-1 .5-1 0-1-.5-1-2-1-9.6-1 11.2-1 13.3-1 2-1 .4-1 0-1-.4-1-2-1-18.5-1 6.4-1 2-1 .5-1 0-1-.5-1-2-1-2.1-1 .4-1 0-1 1.7-1 2-1 .4-1 .4-1 2-1 .5-1 0-1-.5-1 0-1-.5-1-2-1-16.8-1 1.9-1 .5-1 0-1 4.5-1 2-1 .4-1 0-1-.4-1-.7-1-.3-1 14.3-1 2-1 .4-1 0-1-.4-1-2-1-15.1-1 2-1 .4-1 0-1-.4-1-2-1-2.4-1 6.1-1 2-1 .5-1 0-1-.5-1-2-1 9.9-1 9.9-1 2-1 .4-1 0-1-.4-1-2-1-10.4-1 .4-1 0-1-.4-1-2-1-2.5-1-6.6-1 0-1 21.8-1 2-1 .4-1 0-1-.4-1-2-1-23.8-1-.8-1 1.8-1 7.7-1 2-1 .5-1 0-1-.5-1-2-1-3.7-1-1.2-1 .5-1 0-1 .1-1 2.2-1 2-1 3.9-1 2-1 .5-1 0-1 .5-1 0-1 4.6-1 2-1 .5-1 0-1-.5-1-2-1-4.3-1 4-1 2-1 .5-1 0-1-.5-1-2-1-7.5-1 0-1-.4-1-.7-1 .2-1 2-1 .5-1 0-1-.5-1-1.7-1-.4-1-2-1-7.2-1 2-1 15.4-1 2-1 .5-1 0-1-.5-1-2-1 1.9-1 .5-1 0-1 1.3-1 .4-1 0-1-.4-1-2-1-7.8-1 2-1 .4-1 0-1-.4-1-1.7-1-2-1 11-1 2-1 .5-1 0-1-.5-1-2-1-2.4-1 0-1-.4-1-2-1-6.4-1 2-1 7.2-1 2-1 .4-1 0-1-.4-1-2-1-4.5-1 .5-1 5.4-1 2-1 .5-1 0-1-.5-1-2-1 1.6-1 2-1 .5-1 0-1-.5-1-2-1-10.2-1-.4-1 5.2-1 2-1 1.5-1 10.8-1 2-1 .4-1 0-1-.4-1-2-1-7.7-1-.5-1-2-1-7.4-1 .3-1 2-1 10.2-1 2-1 .4-1 0-1-.4-1-2-1-4.3-1-2-1-2.8-1 0-1 5.9-1 2-1 .5-1 0-1-.5-1-2-1-3-1 2-1 1.2-1 2-1 .4-1 0-1-.4-1-2-1-4.4-1 0-1-.4-1-2-1-.9-1 1.4-1 2-1 .5-1 0-1-.5-1-2-1-2.8-1-2-1 .2-1 .4-1 5.4-1 11.1-1 2-1 .5-1 0-1-.5-1-2-1 .2-1 2-1 .4-1 0-1-.4-1-2-1-7-1-1.8-1-.5-1-2-1-4.5-1 0-1 .1-1 2-1 .5-1 0-1 8.5-1 2-1 .4-1 0-1-.4-1-2-1-5.5-1 2-1 .4-1 0-1 1.6-1 .4-1 .1-1 0-1-.5-1-.7-1 6.9-1 2-1 .5-1 0-1-.5-1 1-1 .4-1 0-1-.4-1-2-1-8.5-1 .5-1 1.1-1 2-1 .5-1 0-1-.5-1-2-1-2.8-1 0-1 1.9-1 .4-1 0-1-.4-1-1.7-1 0-1 .2-1 .5-1 0-1-.5-1-1.8-1-.3-1 .5-1 0-1-.5-1-2-1-.7-1-2-1 7.5-1 2-1 .5-1 0-1 7-1 2-1 .4-1 0-1-.4-1-2-1-6.5-1 0-1-.5-1-1.1-1-.5-1 4.7-1 2-1 .4-1 0-1-.4-1-.9-1 .4-1 0-1-.4-1-2-1-.1-1 .5-1 0-1 0-1 0-1-.4-1-1.7-1-.4-1-2-1 1.2-1 2-1 .8-1 2-1 .4-1 0-1-.4-1 1.7-1 .5-1 0-1-.5-1-.1-1 2-1 .4-1 0-1-.4-1-.5-1 .4-1 0-1-.4-1 1.6-1 2-1 .5-1 0-1-.5-1-.7-1 .5-1 0-1-.5-1-2-1-5.5-1 .7-1 .4-1 0-1-.4-1 10.2-1 2-1 .4-1 0-1-.4-1-2-1-3.7-1 2-1 .5-1 0-1-.5-1-2-1-3.5-1-.3-1-.5-1 1.6-1 2-1 .4-1 0-1 .3-1 2-1 .4-1 1.3-1 .4-1 0-1 7-1 2-1 .5-1 0-1-.5-1-2-1-2.1-1-2-1-9.3-1 3.1-1 2-1 .4-1 1.4-1 .4-1 0-1-.4-1-1.2-1 .4-1 0-1-.4-1-2-1-2.1-1-1.8-1 .5-1 0-1-.5-1 2.2-1 2-1 6.7-1 2-1 .4-1 0-1-.4-1-2-1-9.7-1 .4-1 0-1 2.5-1 2-1 .4-1 0-1-.4-1 4.2-1 2-1 .5-1 0-1 3.3-1 2-1 1.1-1 2-1 .5-1 0-1-.5-1-2-1-5-1 2-1 .5-1 0-1-.5-1-2-1-4.9-1 2-1 .4-1 0-1-.4-1-1.3-1 .5-1 0-1-.5-1 3.7-1 2-1 .4-1 0-1-.4-1-1.5-1-1.1-1 0-1-.5-1-2-1 2.3-1 2-1 .5-1 0-1 1.5-1 2-1 .4-1 0-1-.4-1-2-1 1-1 .5-1 0-1-.5-1-2-1-4.3-1-2-1 .3-1 1.9-1 .4-1 4.8-1 2-1 .4-1 0-1-.4-1-2-1-9.9-1 0-1 8.8-1 2-1 .4-1 0-1-.4-1-2-1-1.6-1 .9-1 2-1 4.2-1 2-1 .5-1 0-1-.5-1-2-1-6.4-1-1-1 0-1-.4-1 .4-1 .7-1 2-1 .5-1 1.3-1 .4-1 .1-1 0-1-.5-1-1.8-1 .5-1 2-1 .5-1 0-1-.5-1-2-1 5-1 2-1 .4-1 0-1-.4-1-2-1-9-1-3.4-1 1.4-1 .7-1 .4-1 3.6-1 2-1 .5-1 0-1-.5-1-2-1-1.1-1-.4-1 1-1 .6-1 2-1 .5-1 0-1-.5-1-1.1-1-1.8-1 0-1-.4-1-2-1 .4-1 2-1 5.4-1 2-1 .4-1 0-1-.4-1-2-1-3.3-1 .5-1 0-1 2-1 1.2-1 .4-1 0-1 1.7-1 .4-1 .1-1 .4-1 0-1-.4-1-2-1-3.6-1 2-1 .4-1 0-1 .9-1 .8-1 2-1 .5-1 0-1-.5-1-2-1-.3-1 .4-1 .3-1 2-1 .4-1 0-1-.4-1 .3-1 2-1 .5-1 0-1-.5-1-2-1-5.5-1-1.2-1-2-1 6.1-1 2-1 .4-1 0-1-.4-1 .7-1 .4-1 0-1-.4-1-2-1 7.2-1 2-1 .5-1 0-1-.5-1 0-1-.4-1-2-1-10.3-1-.4-1 3.9-1 2-1 .5-1 0-1-.5-1-1.9-1 .3-1 .5-1 0-1 1-1 .5-1 0-1-.5-1 .4-1 2-1 .5-1 0-1-.5-1 .1-1 2-1 .4-1 0-1-.4-1-2-1-3-1 .4-1 0-1-.4-1-1.2-1 2.1-1 2-1 .5-1 0-1-.5-1-.5-1 .5-1 0-1-.5-1 .6-1 .4-1 0-1 4.8-1 2-1 .5-1 0-1-.5-1-2-1-4.2-1 .4-1 0-1 1.1-1 2-1 .5-1 0-1-.5-1-1.3-1-2-1-2.5-1 2.2-1 2-1 .4-1 .8-1 .4-1 0-1-.4-1-2-1-2.8-1-.2-1 0-1-.5-1 .1-1 15-1 2-1 .5-1 0-1-.5-1-2-1-2.3-1 0-1-.5-1-2-1-3.9-1 2-1 .5-1 0-1-.5-1-2-1-6.7-1 .4-1 4.3-1 2-1 .4-1 0-1 5-1 2-1 .5-1 0-1-.5-1 3.9-1 2-1 .5-1 0-1-.5-1-2-1-12.5-1 1.2-1 2-1 .5-1 0-1-.5-1-2-1-3.7-1 2-1 .4-1 0-1-.4-1-1.2-1-.4-1 5-1 2-1 .4-1 0-1-.4-1 .1-1 2-1 .4-1 0-1-.4-1-2-1-1.3-1-.4-1 1-1 .5-1 0-1-.5-1-2-1-2.1-1-.5-1 3.4-1 2-1 .4-1 0-1-.4-1-2-1-4.6-1-1.7-1 0-1 1.4-1 2-1 .8-1 2-1 .5-1 0-1 .1-1 .5-1 0-1 .4-1 .5-1 0-1-.1-1 .5-1 0-1-.5-1 8.5-1 2-1 .4-1 0-1-.4-1-2-1-5.7-1-.5-1 .4-1 0-1 .7-1 2-1 .4-1 0-1-.4-1-2-1-3.1-1 2-1 .4-1 0-1-.4-1-2-1-4.8-1 0-1-.5-1-1.5-1 3.8-1 2-1 .5-1 0-1-.5-1-1.7-1 .5-1 0-1 .9-1 2-1 .4-1 0-1-.3-1 0-1-.4-1-2-1-1.3-1 1.6-1 .4-1 .2-1 0-1-.4-1-1.7-1 4.6-1 2-1 .4-1 0-1-.4-1-2-1-3.4-1-4.8-1 0-1 2-1 7.3-1 2-1 .4-1 0-1-.4-1-2-1-2.8-1-2-1 1.6-1 2-1 .4-1 1.7-1 .4-1 0-1 .3-1 .1-1 .4-1 0-1-.4-1-2-1 1.8-1 2-1 .5-1 0-1-.5-1-2-1-2.1-1 0-1-.4-1 0-1-.4-1 .4-1 1-1 .5-1 0-1-.5-1 .8-1 2-1 .4-1 0-1-.4-1-.9-1 0-1-.5-1 .7-1 .4-1 0-1-.4-1-2-1-1.9-1 2-1 .4-1 0-1-.4-1-2-1-3.9-1 0-1-.4-1-2-1 .2-1 1.3-1 4.2-1 4-1 2-1 .5-1 0-1-.5-1-2-1 1.4-1 .5-1 1.4-1 .4-1 0-1-.4-1 .6-1 .4-1 0-1-.4-1-2-1-4.2-1 0-1-.5-1-2-1-.2-1 0-1 .8-1 2-1 .5-1 1.2-1 2-1 .5-1 0-1-.5-1-2-1-1.1-1 .5-1 0-1-.5-1-2-1-2.9-1-.1-1 3-1 2-1 .5-1 0-1-.5-1-2-1 .3-1 .4-1 11.4-1 2-1 .5-1 0-1-.5-1-2-1-5.9-1 0-1-.4-1-2-1 1-1 2-1 .4-1 0-1 4.7-1 2-1 .5-1 0-1-.5-1-2-1-4.6-1 .1-1 .5-1 0-1-.5-1-2-1-3.5-1 2-1 .5-1 0-1 .4-1 2-1 .5-1 0-1-.5-1-1.7-1 .4-1 0-1-.4-1-2-1-.6-1 2-1 .5-1 0-1-.5-1-2-1-.3-1 1.4-1 .4-1 0-1-.4-1-2-1-6.6-1 2-1 .4-1 0-1-.4-1-2-1-2.8-1 .5-1 0-1-.5-1 .8-1 2-1 .4-1 8.2-1 2-1 .5-1 0-1-.5-1-2-1-10.2-1-3.5-1 1.3-1 .5-1 0-1-.5-1-2-1-5-1 2-1 .5-1 0-1-.5-1 5.6-1 2-1 .4-1 .1-1 0-1-.4-1-2-1-4.2-1-2-1-8.4-1-14.6Z"/></g></g>
<g><path d="M138.75 70.0H2186.80" stroke="#000" stroke-width="3.2" fill="none"/><path d="M138.75 1320.3H2186.80" stroke="#000" stroke-width="4" fill="none"/><path d="M141.0 68.4V1322.3" stroke="#000" stroke-width="4.5" fill="none"/><path d="M2184.7 68.4V1322.3" stroke="#000" stroke-width="4.6" fill="none"/><path d="M141.0 1320.3V1342 M214.0 1320.3V1337 M287.0 1320.3V1337 M359.9 1320.3V1337 M432.9 1320.3V1342 M505.9 1320.3V1337 M578.9 1320.3V1337 M651.9 1320.3V1337 M724.9 1320.3V1342 M797.8 1320.3V1337 M870.8 1320.3V1337 M943.8 1320.3V1337 M1016.8 1320.3V1342 M1089.8 1320.3V1337 M1162.8 1320.3V1337 M1235.7 1320.3V1337 M1308.7 1320.3V1342 M1381.7 1320.3V1337 M1454.7 1320.3V1337 M1527.7 1320.3V1337 M1600.6 1320.3V1342 M1673.6 1320.3V1337 M1746.6 1320.3V1337 M1819.6 1320.3V1337 M1892.6 1320.3V1342 M1965.6 1320.3V1337 M2038.5 1320.3V1337 M2111.5 1320.3V1337 M2184.5 1320.3V1342" stroke="#000" stroke-width="3.8" fill="none"/></g>
<g class="sans"><text x="141.0" y="1431.5" text-anchor="middle" textLength="35.48" lengthAdjust="spacingAndGlyphs">2</text><text x="432.9" y="1431.5" text-anchor="middle" textLength="35.48" lengthAdjust="spacingAndGlyphs">6</text><text x="724.9" y="1431.5" text-anchor="middle" textLength="70.97" lengthAdjust="spacingAndGlyphs">10</text><text x="1016.8" y="1431.5" text-anchor="middle" textLength="70.97" lengthAdjust="spacingAndGlyphs">14</text><text x="1308.7" y="1431.5" text-anchor="middle" textLength="70.97" lengthAdjust="spacingAndGlyphs">18</text><text x="1600.6" y="1431.5" text-anchor="middle" textLength="70.97" lengthAdjust="spacingAndGlyphs">22</text><text x="1892.6" y="1431.5" text-anchor="middle" textLength="70.97" lengthAdjust="spacingAndGlyphs">26</text><text x="2184.5" y="1431.5" text-anchor="middle" textLength="70.97" lengthAdjust="spacingAndGlyphs">30</text><line x1="188" y1="134.1" x2="322" y2="134.1" stroke="#ff0000" stroke-width="6" stroke-linecap="round"/><line x1="188" y1="218.8" x2="322" y2="218.8" stroke="#7f2aa5" stroke-width="6" stroke-linecap="round"/><line x1="188" y1="303.7" x2="322" y2="303.7" stroke="#0072c6" stroke-width="6" stroke-linecap="round"/><line x1="707.4" y1="134.1" x2="841.6" y2="134.1" stroke="#e05a00" stroke-width="6" stroke-linecap="round"/><line x1="707.4" y1="218.8" x2="841.6" y2="218.8" stroke="#000000" stroke-width="6" stroke-linecap="round"/><line x1="707.4" y1="303.7" x2="841.6" y2="303.7" stroke="#00b04a" stroke-width="6" stroke-linecap="round"/><text x="336.4" y="154.7" textLength="247.81" lengthAdjust="spacingAndGlyphs">Graphite</text><text x="855.9" y="154.7" textLength="90.52" lengthAdjust="spacingAndGlyphs">GO</text><text x="336.4" y="239.2"><tspan textLength="222.95" lengthAdjust="spacingAndGlyphs">rGO (25</tspan> <tspan x="584.15" y="228.9" style="font-size:51px" text-anchor="middle" textLength="17.3" lengthAdjust="spacingAndGlyphs">°</tspan><tspan x="597.65" y="239.2" textLength="58.56" lengthAdjust="spacingAndGlyphs">C)</tspan></text><text x="855.9" y="239.2"><tspan textLength="222.95" lengthAdjust="spacingAndGlyphs">rGO (40</tspan> <tspan x="1103.65" y="228.9" style="font-size:51px" text-anchor="middle" textLength="17.3" lengthAdjust="spacingAndGlyphs">°</tspan><tspan x="1117.15" y="239.2" textLength="58.56" lengthAdjust="spacingAndGlyphs">C)</tspan></text><text x="336.4" y="324.0"><tspan textLength="222.95" lengthAdjust="spacingAndGlyphs">rGO (60</tspan> <tspan x="584.15" y="313.7" style="font-size:51px" text-anchor="middle" textLength="17.3" lengthAdjust="spacingAndGlyphs">°</tspan><tspan x="597.65" y="324.0" textLength="58.56" lengthAdjust="spacingAndGlyphs">C)</tspan></text><text x="855.9" y="324.0"><tspan textLength="222.95" lengthAdjust="spacingAndGlyphs">rGO (80</tspan> <tspan x="1103.65" y="313.7" style="font-size:51px" text-anchor="middle" textLength="17.3" lengthAdjust="spacingAndGlyphs">°</tspan><tspan x="1117.15" y="324.0" textLength="58.56" lengthAdjust="spacingAndGlyphs">C)</tspan></text></g>
<text class="serif" style="font-size:84px" transform="translate(105.5,943) rotate(-90)" textLength="525.05" lengthAdjust="spacingAndGlyphs">Intensity (a.u.)</text>
<text class="serif" style="font-size:83.5px" x="978.8" y="1533" textLength="396.51" lengthAdjust="spacingAndGlyphs">2<tspan font-style="italic">θ</tspan> (degree)</text>
</g>
</svg>
</body></html>
